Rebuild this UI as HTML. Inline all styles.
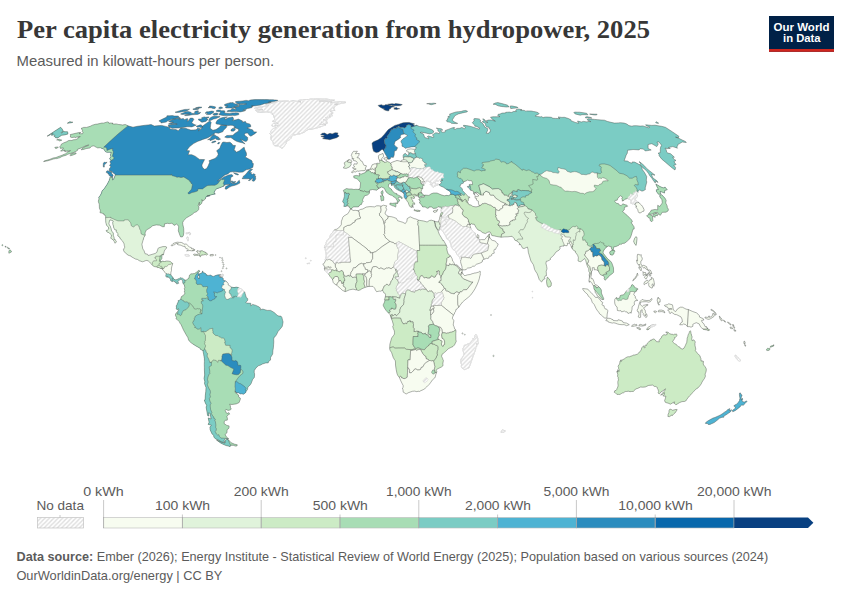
<!DOCTYPE html>
<html><head><meta charset="utf-8">
<style>
html,body{margin:0;padding:0;background:#fff;}
body{width:850px;height:600px;position:relative;overflow:hidden;font-family:"Liberation Sans",sans-serif;}
svg{position:absolute;left:0;top:0;}
svg text{font-family:"Liberation Sans",sans-serif;font-size:13.5px;fill:#5b5b5b;}
svg text.t{font-family:"Liberation Serif",serif;font-weight:bold;font-size:25px;fill:#373737;}
svg text.s{font-size:14.5px;fill:#5b5b5b;}
svg text.f{font-size:13px;fill:#5b5b5b;}
svg text.lg{font-size:11px;fill:#fff;font-weight:bold;}
</style></head><body>
<svg width="850" height="600" viewBox="0 0 850 600">
<defs>
<pattern id="h" width="4.4" height="4.4" patternUnits="userSpaceOnUse"><rect width="4.4" height="4.4" fill="#ffffff"/><path d="M-1.1 1.1L1.1 -1.1M-0.5 4.9L4.9 -0.5M3.3 5.5L5.5 3.3" stroke="#dddddd" stroke-width="1.4" fill="none"/></pattern>
</defs>
<text class="t" x="17" y="38.4" textLength="633" lengthAdjust="spacingAndGlyphs">Per capita electricity generation from hydropower, 2025</text>
<text class="s" x="16.6" y="66.1" textLength="257.5" lengthAdjust="spacingAndGlyphs">Measured in kilowatt-hours per person.</text>
<rect x="769" y="16" width="65" height="35.8" fill="#002147"/>
<rect x="769" y="49" width="65" height="2.8" fill="#ce261e"/>
<text class="lg" x="801.6" y="30.5" text-anchor="middle" textLength="56" lengthAdjust="spacingAndGlyphs">Our World</text>
<text class="lg" x="801.8" y="42.4" text-anchor="middle" textLength="37.5" lengthAdjust="spacingAndGlyphs">in Data</text>
<text class="f" x="16.6" y="561.1" textLength="751.5" lengthAdjust="spacingAndGlyphs"><tspan font-weight="bold">Data source:</tspan> Ember (2026); Energy Institute - Statistical Review of World Energy (2025); Population based on various sources (2024)</text>
<text class="f" x="16.4" y="580.4" textLength="206" lengthAdjust="spacingAndGlyphs">OurWorldinData.org/energy | CC BY</text>
<defs><clipPath id="lc"><path d="M435.3 224.4L434.3 221.0L431.4 220.2L429.4 220.5L427.1 222.0L423.7 221.0L421.1 220.6L418.6 220.2L415.6 218.9L414.1 218.6L410.2 216.8L407.2 218.6L406.9 221.2L405.3 223.6L402.8 222.3L400.2 221.5L397.6 220.7L396.4 218.4L393.5 217.3L391.8 216.8L388.2 216.3L387.3 215.7L385.5 214.4L385.0 213.1L386.7 209.5L385.9 207.6L386.7 205.8L385.0 205.6L383.5 205.2L381.1 206.2L378.8 205.8L376.6 205.8L374.5 206.9L372.2 206.7L369.9 206.6L366.2 207.1L362.8 209.0L360.4 209.5L358.2 210.8L355.2 210.3L353.0 210.5L351.7 209.3L350.2 209.2L349.5 211.0L347.9 213.7L343.9 216.0L342.6 217.6L342.3 219.0L341.4 221.2L341.3 224.6L339.9 226.7L336.9 229.2L334.9 229.5L333.8 230.5L332.1 233.3L330.7 234.2L329.8 237.2L329.0 238.8L328.3 239.1L326.9 240.8L326.2 242.6L326.2 243.5L325.5 244.9L324.6 245.5L324.5 246.8L324.4 247.9L324.9 247.0L325.6 251.6L326.0 252.9L326.3 255.5L325.9 257.9L325.3 259.2L325.4 260.6L324.9 262.0L323.7 263.8L322.7 264.3L323.8 265.2L324.7 267.2L324.4 268.4L324.7 270.4L325.6 271.5L327.0 272.8L328.3 273.9L328.9 274.4L330.1 276.6L331.5 278.0L332.5 279.5L333.2 282.4L334.4 283.8L336.0 284.9L336.6 285.0L338.2 286.7L340.2 288.2L342.2 290.2L344.6 291.4L345.7 291.5L347.9 290.5L349.6 289.8L352.3 289.3L353.8 289.3L355.4 289.8L356.4 289.8L358.5 290.5L360.6 289.7L361.8 288.8L364.1 287.8L365.4 287.3L367.3 286.7L369.2 286.4L373.0 286.4L374.6 288.1L375.4 290.0L376.6 291.7L379.3 291.1L380.2 291.3L382.6 290.3L383.2 291.4L383.6 292.6L384.7 293.0L385.6 294.8L385.3 296.8L384.5 299.8L384.9 300.2L384.5 302.1L383.3 304.6L383.3 305.7L384.7 308.4L386.2 310.6L388.6 313.2L390.4 314.8L390.4 316.0L391.4 318.7L392.3 320.9L393.5 325.2L392.7 326.2L393.2 328.3L394.3 330.8L394.5 332.3L394.4 334.2L393.5 335.5L392.2 337.2L391.6 338.2L390.9 340.6L389.9 344.1L389.7 348.0L389.9 350.0L391.6 352.6L393.2 357.4L394.4 359.5L395.2 360.6L395.5 362.0L395.5 365.1L396.1 369.2L397.0 373.6L397.8 375.5L399.4 377.5L400.8 380.9L401.9 383.1L403.2 385.6L403.1 387.6L402.4 388.1L403.0 389.8L403.2 392.1L404.2 392.8L404.9 392.9L405.7 393.8L406.7 393.8L408.1 392.8L412.4 391.3L414.6 391.1L416.9 391.7L418.1 391.2L419.4 391.5L420.8 390.7L423.2 389.7L425.0 388.5L426.7 386.9L429.4 384.2L430.8 382.3L432.6 379.7L434.7 378.0L435.3 376.8L435.8 374.6L436.5 372.7L436.8 371.3L436.1 370.1L437.1 369.1L439.5 367.9L441.8 366.8L442.8 365.9L443.2 364.8L442.7 364.3L443.4 360.5L443.0 359.9L442.6 358.4L441.6 356.4L441.9 354.5L442.9 353.9L444.6 352.1L445.5 351.6L448.2 348.8L450.8 347.5L453.0 346.5L454.5 344.9L456.3 341.2L455.9 339.9L455.8 335.8L455.8 333.5L456.0 331.0L455.7 329.8L454.8 329.2L454.0 326.6L453.2 325.0L453.4 323.7L453.9 320.7L452.3 318.2L453.4 315.0L454.3 314.2L454.8 312.4L455.6 311.4L455.9 309.5L456.8 309.3L457.4 308.2L459.0 307.2L460.1 305.2L462.6 302.0L464.8 300.1L468.2 297.4L470.5 295.3L473.1 291.8L475.0 288.8L476.9 285.0L478.3 281.7L479.3 278.7L479.8 275.9L480.3 275.0L480.2 273.6L480.3 272.1L480.3 271.4L479.4 271.4L478.3 272.3L477.1 272.5L476.1 272.9L474.1 273.1L473.3 273.5L472.1 273.7L470.2 274.5L467.7 274.8L465.5 275.5L464.4 275.5L463.3 274.4L462.8 273.3L461.0 272.1L462.1 272.8L462.3 270.4L461.8 269.6L460.6 268.8L458.5 266.4L457.2 264.9L454.6 264.8L454.0 262.4L452.7 261.2L452.2 258.8L450.4 255.7L449.2 254.8L448.2 254.1L447.2 251.0L446.7 248.3L447.2 247.8L446.3 245.3L443.4 240.2L443.0 240.7L441.2 237.4L440.3 235.9L439.4 234.5L437.8 230.3L436.4 228.2L435.3 225.9L435.1 224.6ZM435.3 224.4L435.5 225.9L436.6 228.0L438.1 230.0L439.2 230.3L439.6 228.7L440.5 225.7L440.6 226.0L440.5 227.1L440.2 229.4L441.3 229.4L442.6 231.2L444.1 233.3L445.2 235.3L445.9 235.9L446.5 237.8L447.3 239.3L448.6 239.8L449.7 240.9L451.2 245.3L451.4 247.1L453.2 249.6L454.3 250.1L455.9 251.8L456.7 254.0L459.3 257.1L460.3 259.0L460.6 260.1L460.8 261.2L460.5 261.7L460.8 262.9L462.0 266.8L462.0 268.2L462.7 269.8L464.3 269.9L466.1 269.6L466.5 268.9L467.5 268.1L470.0 267.8L471.4 267.3L472.7 266.2L474.4 266.2L476.4 264.3L480.0 263.1L482.2 262.0L482.5 260.0L484.1 259.3L486.6 258.3L487.9 258.5L488.9 257.8L488.9 256.7L489.7 256.1L491.1 256.1L491.6 255.5L491.7 254.3L493.0 253.3L494.1 253.3L494.3 252.9L493.9 251.2L494.1 249.9L494.5 249.3L495.6 249.4L496.3 247.6L497.1 246.8L497.4 246.0L498.1 244.5L498.1 243.9L497.2 243.6L496.5 242.7L495.4 241.2L494.0 240.7L492.3 240.4L491.0 239.4L489.8 237.7L489.2 235.6L489.4 235.1L489.5 234.0L489.2 233.8L488.7 234.7L487.4 236.3L485.9 238.0L484.6 239.7L481.4 239.6L479.6 240.0L479.1 239.4L478.6 238.4L478.9 236.9L478.7 235.4L477.9 234.5L477.3 234.8L476.9 236.2L477.2 238.1L475.6 235.9L475.2 233.0L473.6 231.9L471.9 230.4L470.8 228.2L470.0 225.6L469.4 224.4L470.7 224.6L471.4 223.5L472.9 224.4L474.1 224.0L476.1 227.5L477.9 229.9L480.2 230.7L482.7 232.7L485.5 233.6L487.6 232.3L489.3 231.9L490.4 232.3L491.8 235.5L494.3 235.9L496.8 236.5L501.2 237.2L504.3 236.9L507.9 236.8L512.0 236.3L514.0 238.3L514.9 240.2L516.6 240.9L519.5 243.1L519.3 245.1L520.3 244.1L522.6 248.2L524.2 248.5L527.4 247.0L528.0 249.4L528.4 252.6L529.4 255.9L530.9 261.0L533.3 264.6L533.8 266.2L534.6 269.5L536.0 272.0L536.9 273.2L538.0 275.9L539.2 279.5L541.5 282.0L542.4 281.2L543.1 279.5L545.1 278.7L544.4 277.8L545.3 275.8L546.5 275.7L546.2 271.3L547.0 268.8L546.7 266.6L545.9 263.2L546.4 261.2L547.5 261.1L549.4 260.2L550.5 259.5L550.3 258.3L552.4 256.6L553.9 255.0L556.1 251.9L559.1 250.1L560.1 248.6L559.8 246.6L562.5 246.1L564.0 246.1L564.2 245.1L565.8 245.7L567.1 245.7L567.6 244.3L567.3 243.2L569.4 243.3L570.5 244.8L571.1 246.1L571.4 247.4L572.3 248.8L574.2 250.9L575.5 251.2L575.4 252.2L577.6 255.2L578.4 257.6L578.0 260.9L579.5 261.5L580.8 261.7L583.2 259.8L584.5 258.5L585.8 260.7L586.6 264.0L587.7 267.1L588.7 268.5L588.8 271.4L589.7 272.9L589.2 274.9L589.5 276.8L588.9 281.0L589.4 282.4L589.7 280.9L590.9 282.1L592.2 283.6L592.7 284.9L593.6 285.9L594.0 288.9L594.9 290.3L595.3 292.5L596.7 294.3L597.0 295.6L599.8 297.7L602.0 299.6L603.7 299.4L603.7 298.5L602.7 296.2L601.4 293.0L601.4 290.1L600.4 288.4L598.9 286.8L598.4 286.5L597.1 285.2L595.7 284.9L594.4 283.4L593.8 281.1L592.7 278.7L591.2 278.6L590.9 276.8L591.5 274.4L591.5 271.7L592.4 270.6L592.3 267.7L594.3 267.7L594.2 269.8L596.1 269.7L598.3 270.9L599.7 273.7L600.8 275.0L602.7 275.4L604.6 276.9L604.1 278.6L605.0 280.3L607.7 277.9L609.4 275.7L611.9 274.0L613.6 272.3L613.5 267.7L611.8 262.9L610.2 260.8L607.8 259.1L605.2 255.7L603.0 253.0L603.3 251.2L604.8 248.7L607.4 246.5L608.4 246.0L611.6 246.9L611.2 247.9L612.1 249.8L613.4 249.6L613.7 246.9L616.0 246.5L618.9 245.2L620.0 243.8L620.9 244.7L622.1 243.5L624.6 243.2L627.3 241.1L629.9 238.6L631.2 235.5L632.2 232.1L633.0 229.2L634.2 229.0L634.1 226.9L631.2 222.6L632.4 221.9L631.7 220.0L627.3 215.5L622.5 211.5L624.2 210.0L624.4 208.4L624.8 207.0L627.6 206.3L626.6 204.9L625.2 204.8L622.8 203.8L621.2 205.7L619.2 204.9L618.6 203.7L616.6 203.3L614.7 201.5L615.2 200.4L617.2 200.2L617.8 198.5L619.3 196.7L620.6 195.8L622.5 197.2L621.6 198.9L622.6 199.9L622.0 201.1L624.0 200.4L625.0 199.2L627.6 198.5L628.9 199.2L630.3 199.4L630.7 199.9L630.8 201.3L631.2 201.7L630.8 203.2L632.3 203.8L633.2 203.6L634.4 204.1L637.0 206.4L635.6 206.8L637.7 209.5L638.2 211.5L639.0 212.9L640.9 212.7L642.2 211.6L643.9 211.1L644.1 209.7L642.7 206.7L641.4 205.0L638.0 201.9L636.2 200.7L635.2 200.3L635.3 200.0L634.7 198.9L635.3 198.2L636.5 197.8L637.0 196.6L637.8 196.0L636.7 194.1L636.8 193.2L637.2 192.4L638.1 192.5L637.9 191.7L639.5 189.8L641.6 191.0L642.9 191.0L645.4 189.6L645.2 187.9L646.0 185.0L646.8 182.0L646.3 180.2L646.7 176.5L644.5 172.5L642.3 169.5L641.7 167.0L639.8 164.8L634.6 162.1L632.3 161.9L632.1 163.2L629.8 162.6L627.5 161.1L624.1 160.8L625.2 157.9L626.2 155.0L627.3 153.2L627.6 150.2L630.3 149.9L633.0 149.5L636.0 149.7L639.1 149.9L640.1 148.7L643.4 149.1L645.2 150.9L647.8 150.6L649.5 150.3L651.2 150.0L648.1 148.5L648.1 146.5L648.1 144.5L650.0 144.1L651.8 143.7L656.8 146.6L657.6 145.3L658.3 144.0L656.9 142.1L658.9 141.9L661.6 145.2L660.6 147.1L660.3 149.6L660.3 152.6L658.0 153.2L659.2 154.3L659.1 155.7L661.8 159.2L665.1 161.9L668.3 164.7L672.6 168.3L675.0 170.0L675.6 167.7L673.8 165.2L676.1 164.6L673.9 161.7L676.0 160.4L674.0 159.4L672.7 157.3L674.4 157.2L670.6 153.7L667.9 153.1L666.7 152.2L666.2 149.8L665.0 148.2L667.8 148.6L670.3 148.4L668.4 147.5L670.6 147.1L672.8 146.6L677.5 148.2L676.8 147.1L677.6 145.7L678.3 144.0L679.5 143.7L680.9 142.8L682.2 142.0L686.3 142.5L685.8 141.8L684.3 140.9L682.6 140.2L678.8 138.3L675.5 137.1L678.5 137.7L678.9 136.3L672.2 131.7L665.4 127.3L661.5 126.3L658.3 125.8L655.0 125.2L653.4 125.3L651.8 125.4L648.6 125.1L645.5 124.8L646.3 125.7L649.8 127.1L648.8 127.8L642.9 125.9L640.1 126.1L636.3 125.7L633.5 125.8L631.9 126.2L628.9 125.6L626.8 124.0L624.1 123.1L620.3 122.7L618.3 122.9L616.3 123.0L614.3 123.1L610.9 122.3L607.6 121.5L604.4 120.2L601.1 120.0L597.8 119.7L594.5 119.4L591.2 119.1L587.9 118.9L587.1 119.8L590.9 121.7L587.8 121.4L587.4 122.0L583.4 121.4L581.4 122.0L577.5 121.0L578.8 123.3L575.2 122.4L571.0 120.7L570.9 119.8L568.4 118.5L564.4 117.3L561.9 117.4L560.0 117.2L558.0 117.0L560.0 118.6L557.6 118.5L555.3 118.4L552.9 118.3L551.3 117.3L548.6 117.1L545.8 117.0L543.7 117.3L543.6 117.8L541.2 116.5L540.3 116.9L537.3 116.4L535.1 116.1L535.5 115.5L536.9 114.9L538.3 114.3L539.2 113.7L538.2 112.7L536.0 111.9L533.6 111.5L531.2 111.0L529.0 111.0L526.8 110.9L526.0 111.4L524.3 110.4L522.4 110.3L520.5 110.1L521.9 109.7L518.5 109.0L517.3 109.4L516.0 109.8L515.7 110.7L516.3 111.5L513.4 111.5L512.4 112.0L511.2 112.5L509.5 112.1L507.6 112.2L505.7 112.3L505.8 112.9L503.9 113.0L502.0 113.1L500.0 114.1L498.3 114.2L497.7 115.5L500.0 116.6L498.4 116.7L496.8 116.8L494.9 116.8L493.0 116.8L490.5 117.2L492.5 119.4L495.4 121.2L491.4 120.0L489.8 120.0L488.2 120.1L486.1 120.9L487.9 122.5L485.9 122.1L485.1 120.0L483.4 118.9L482.6 118.9L484.1 120.4L482.2 121.8L485.5 123.6L485.7 125.8L486.9 127.0L488.9 127.2L489.0 128.6L490.8 129.9L490.0 131.0L490.2 132.1L488.7 132.7L488.5 133.5L486.3 133.2L487.8 130.0L487.5 128.5L484.8 127.1L483.2 124.1L481.7 122.6L480.2 121.9L480.5 120.2L479.3 119.0L477.0 118.7L474.7 118.5L473.8 118.9L474.1 120.8L472.3 122.7L472.8 123.4L474.7 125.1L474.8 126.2L476.9 126.4L477.3 126.9L479.7 128.0L479.2 129.2L475.4 127.9L471.7 126.7L468.9 126.0L466.3 125.6L463.7 125.3L463.2 126.0L465.6 127.3L464.5 128.8L461.9 127.4L459.8 128.3L456.7 128.4L455.8 129.2L453.6 128.9L454.7 127.6L453.4 127.5L450.8 128.4L448.3 129.4L446.8 129.9L445.2 130.5L445.3 131.9L442.9 132.4L441.2 131.6L440.7 130.3L442.8 130.1L441.3 128.8L438.8 128.5L436.3 128.1L438.1 129.5L437.8 130.8L439.7 132.2L439.2 133.7L437.3 132.9L435.7 132.8L434.0 133.9L432.4 135.0L434.1 136.7L432.8 137.3L430.5 136.6L428.1 135.9L427.3 136.7L428.6 137.7L428.7 138.8L427.2 138.2L424.7 137.5L423.5 134.1L420.2 132.5L421.4 132.2L424.1 132.7L426.9 133.3L429.6 133.9L432.3 133.3L433.8 132.1L433.2 130.6L431.5 129.5L427.9 128.3L424.3 127.0L421.9 126.8L419.5 126.5L416.4 125.2L414.9 125.9L412.7 124.6L414.6 124.0L411.8 123.2L409.1 122.4L406.2 122.6L403.2 122.7L400.8 123.6L398.4 124.4L396.6 124.9L394.9 125.4L392.8 126.7L390.7 128.1L388.1 129.8L386.3 132.0L384.5 134.2L381.6 137.4L378.2 139.8L375.9 140.8L373.6 141.7L372.0 143.2L372.4 146.0L372.8 148.7L373.6 151.3L376.2 152.6L378.7 152.0L382.2 149.2L383.6 150.7L384.5 152.5L385.3 154.1L387.1 156.9L387.9 159.2L390.1 159.1L391.0 157.1L393.3 157.4L394.2 155.1L394.4 151.0L396.3 150.5L397.6 147.7L395.7 146.4L394.2 144.7L395.0 141.4L398.2 139.4L400.7 137.5L400.2 136.1L401.6 134.5L404.5 133.9L407.1 135.0L407.5 135.9L406.4 136.4L404.7 137.7L402.9 138.9L401.5 140.4L400.9 141.7L402.1 143.9L402.0 146.2L404.0 147.0L405.2 148.3L408.2 147.6L411.2 146.9L414.5 146.7L416.7 147.9L414.9 149.2L413.0 149.2L410.9 148.9L408.6 149.2L406.6 150.3L406.6 151.3L408.1 152.1L408.7 151.8L408.8 153.3L408.7 155.1L407.2 155.2L405.4 153.4L403.8 154.2L403.1 155.7L403.3 157.6L403.9 159.6L401.4 160.4L401.1 161.5L399.0 160.9L397.0 160.5L394.7 161.3L391.8 162.4L390.5 163.2L389.5 162.4L387.2 161.4L386.2 162.1L384.3 162.5L384.2 161.7L382.2 161.1L382.1 160.1L381.5 158.9L382.8 157.2L383.8 156.5L382.9 153.4L381.5 154.1L379.2 154.9L378.7 155.6L378.4 156.3L378.6 158.8L379.5 160.2L379.6 161.6L380.1 162.5L378.8 163.7L378.5 163.2L376.8 163.3L376.5 163.9L374.8 163.8L372.2 164.8L370.6 168.5L369.6 169.2L368.0 169.7L366.3 170.2L365.7 172.3L363.4 173.3L361.0 174.2L359.1 173.2L359.7 176.0L356.3 175.4L353.7 175.9L353.9 177.8L357.0 178.8L358.4 180.1L360.6 182.8L360.1 187.9L359.0 189.4L355.6 189.3L353.9 189.5L351.7 189.0L348.9 189.0L346.4 188.6L343.3 190.4L344.3 192.8L344.4 196.3L343.7 198.9L342.6 201.5L343.1 202.5L344.0 202.8L344.2 204.4L343.8 206.4L346.0 206.5L346.9 205.8L348.9 206.2L349.5 207.7L350.3 208.6L351.3 208.8L352.2 207.9L353.6 206.9L356.0 206.9L358.4 206.9L359.9 204.9L361.5 204.4L362.0 202.7L363.2 201.5L362.4 200.1L364.7 195.7L367.4 195.1L369.4 193.4L369.5 190.3L372.5 189.5L376.7 190.2L378.5 188.7L381.5 187.0L384.2 188.1L386.3 192.2L388.5 193.9L390.3 195.0L391.8 195.2L392.8 196.2L395.8 198.1L396.5 199.5L397.5 201.0L396.7 203.7L397.6 203.5L398.6 201.3L399.5 201.1L399.6 199.8L398.0 198.8L398.8 197.1L400.7 197.5L402.0 198.8L402.3 197.8L402.0 197.3L400.1 196.0L398.5 195.2L396.5 194.3L397.1 193.8L394.9 193.2L392.4 191.1L391.2 189.0L389.2 187.7L388.4 186.4L388.6 184.4L390.1 183.5L391.7 183.8L391.3 184.1L391.2 185.0L391.9 185.9L392.5 184.8L393.8 185.1L394.5 187.3L396.4 189.2L399.7 190.9L401.7 191.8L403.4 193.2L403.8 193.4L404.2 193.8L404.0 194.6L404.0 196.4L404.3 197.6L405.6 199.1L406.0 199.3L407.4 201.5L408.3 202.7L408.8 204.4L409.8 206.5L411.7 207.6L412.1 205.3L413.1 207.6L412.7 203.7L414.7 204.4L414.6 202.9L412.1 201.0L412.9 200.4L411.7 199.2L411.1 197.6L411.4 197.0L412.7 198.4L413.9 198.4L414.9 197.9L413.3 196.5L415.8 195.8L418.2 196.1L419.1 197.9L420.7 196.5L424.0 195.8L424.6 195.4L422.3 194.1L421.9 193.1L421.1 191.6L421.6 189.8L422.6 188.7L422.7 185.6L424.3 185.2L424.2 184.6L425.5 182.7L426.0 181.3L427.9 181.0L429.8 182.0L431.5 182.6L430.1 184.5L432.4 185.3L432.2 186.5L433.4 187.0L436.0 185.5L438.1 185.1L438.4 184.1L436.3 184.3L435.2 183.7L434.8 182.1L436.4 181.1L438.3 181.0L439.5 180.2L441.1 180.0L443.0 180.1L440.2 181.1L441.5 182.2L440.2 184.3L438.8 184.7L440.9 186.2L443.4 187.2L446.5 189.4L450.0 191.4L450.8 193.2L450.7 194.3L448.5 195.7L446.6 195.4L444.2 195.8L441.0 194.8L437.0 193.0L433.6 193.0L431.2 193.8L428.9 195.4L424.8 195.1L424.6 195.7L424.2 197.1L420.9 197.2L418.8 199.7L420.3 200.9L419.5 202.9L421.2 204.4L422.8 207.0L425.1 206.9L427.3 208.3L428.8 208.0L429.2 206.9L431.5 207.0L433.4 208.4L436.7 208.1L438.0 206.6L439.9 207.2L441.2 207.0L441.4 209.2L441.0 210.2L441.5 212.2L440.6 214.1L440.1 216.3L439.8 217.0L439.5 219.0L439.1 220.2L438.7 221.2L437.6 221.8L435.9 221.7L434.3 221.0ZM127.9 125.8L129.6 126.3L131.3 126.7L133.0 127.2L135.2 126.7L137.4 126.3L140.0 125.9L142.7 125.6L145.4 125.2L148.2 124.9L151.1 124.5L152.7 125.3L154.3 126.1L156.8 125.8L159.3 125.6L161.7 125.4L163.7 125.9L165.7 126.4L167.7 126.9L169.7 127.4L169.8 128.9L171.9 129.2L173.9 129.4L176.0 129.6L177.2 130.2L178.3 130.7L180.8 128.0L183.2 128.2L185.7 128.3L187.4 128.9L189.1 129.5L190.9 130.1L193.5 129.9L196.2 129.8L197.5 128.3L199.0 128.5L200.5 128.7L198.2 131.0L201.0 129.2L202.7 126.1L205.5 123.9L209.8 120.9L211.2 122.4L210.7 124.5L210.6 125.6L210.2 128.3L211.5 129.3L212.9 130.3L215.9 129.6L219.1 127.6L220.8 125.4L223.7 125.4L226.6 125.4L226.8 126.7L225.9 128.0L223.5 130.3L223.0 131.6L220.8 132.4L218.5 133.2L216.9 133.0L215.4 132.8L213.7 133.9L210.2 136.4L207.3 138.0L205.1 138.7L202.8 139.4L200.4 140.4L197.9 141.3L193.5 143.6L189.5 146.7L186.6 150.6L189.6 150.8L188.0 154.7L189.9 154.7L191.8 154.7L193.6 155.5L195.5 156.4L197.5 157.9L199.5 159.4L202.0 159.5L204.6 159.6L203.2 162.3L201.9 165.1L202.3 167.1L204.2 169.3L206.4 168.8L208.1 166.1L209.7 162.1L208.9 160.8L212.0 159.6L215.0 158.4L217.2 156.4L218.2 154.5L217.8 152.7L216.6 150.8L219.9 148.2L220.6 146.0L222.3 142.5L223.5 142.0L225.2 142.2L226.8 142.5L230.0 142.2L232.2 144.1L232.5 145.3L235.5 145.5L234.9 147.5L234.0 150.3L235.4 150.8L236.2 152.3L239.5 150.8L242.6 148.2L244.2 147.2L244.7 149.4L246.4 153.0L246.5 155.4L245.1 156.9L247.1 158.1L249.2 159.2L251.3 160.3L252.1 161.1L252.2 163.1L253.4 163.6L252.9 167.3L249.7 169.1L246.1 169.8L242.9 172.1L239.4 172.3L237.3 172.1L235.2 171.8L232.2 171.8L230.1 172.1L227.8 173.9L224.9 174.9L220.6 178.4L217.5 180.7L219.3 180.2L223.9 176.9L226.3 175.9L228.7 174.9L231.8 174.6L233.2 175.9L230.8 177.4L230.5 180.2L230.5 182.3L232.8 183.6L236.4 183.0L239.3 180.2L239.9 183.0L237.0 184.6L234.4 185.4L231.8 186.1L229.6 187.1L226.4 189.2L225.1 189.0L225.6 186.6L230.0 184.6L226.7 184.6L224.2 185.1L224.2 185.9L221.8 186.9L219.3 187.9L216.8 188.7L215.2 190.2L214.2 192.3L214.4 193.6L215.4 193.9L212.9 194.4L211.0 194.9L206.9 195.9L210.1 195.7L206.0 196.7L205.3 199.1L202.7 201.1L201.9 199.6L202.2 201.4L201.6 203.5L199.3 205.6L199.4 202.2L198.2 205.6L198.9 207.1L198.6 209.7L196.5 211.8L194.2 212.6L192.5 214.2L189.6 216.0L186.5 217.8L183.6 220.7L182.7 222.5L182.8 224.4L183.7 228.3L183.8 232.5L183.4 235.4L182.4 236.9L180.6 236.9L179.8 235.1L179.1 233.0L178.3 230.9L178.7 226.7L177.4 224.6L176.6 224.1L174.1 225.4L172.9 223.9L171.7 223.3L169.2 223.6L167.3 223.3L164.5 223.9L164.3 226.7L162.5 226.7L159.7 225.2L156.3 224.9L152.7 225.7L150.2 227.8L146.3 230.1L145.0 233.0L145.3 235.1L143.9 237.4L142.9 240.8L141.9 244.2L142.8 248.9L144.1 250.8L145.0 253.7L147.5 254.2L148.2 255.5L152.0 254.4L155.3 253.4L156.8 252.3L158.0 248.7L158.5 247.9L162.8 246.6L166.0 246.6L166.6 247.1L166.4 248.4L164.9 249.7L164.2 251.6L163.3 255.0L162.2 254.4L161.9 256.8L161.9 258.4L160.0 261.2L161.6 261.8L162.3 261.2L164.6 261.5L166.7 261.0L168.9 261.2L170.3 261.5L171.5 262.5L172.8 263.6L171.9 266.2L171.4 268.6L171.5 270.4L170.9 272.5L170.8 274.3L171.4 275.6L173.1 277.7L173.9 279.3L175.7 279.8L176.9 279.5L179.2 278.5L180.0 277.7L181.3 278.0L182.5 278.2L184.9 280.1L186.3 280.3L188.0 278.5L188.9 278.2L189.5 275.1L191.0 273.8L192.4 273.8L194.5 273.5L197.3 271.7L198.3 270.4L199.3 270.4L199.9 271.2L198.0 272.7L198.6 274.0L198.5 275.6L197.5 276.7L199.0 279.0L199.6 276.9L198.9 276.1L199.0 274.0L201.8 273.0L202.7 270.9L203.2 272.7L204.8 273.0L206.4 274.3L206.3 275.1L208.4 275.4L210.9 275.1L212.0 276.1L213.8 276.4L215.2 275.6L218.0 274.8L220.8 274.8L218.9 275.6L219.6 276.9L221.4 276.9L223.2 278.2L223.3 280.3L225.4 280.8L226.9 281.9L228.3 283.7L228.2 285.0L230.5 286.3L231.4 287.1L234.1 287.6L236.2 287.1L238.5 287.6L239.4 288.2L241.0 288.7L243.5 290.8L243.7 291.8L244.7 291.8L245.1 293.4L246.4 297.8L247.6 298.4L247.8 300.2L245.9 302.3L246.6 303.1L250.8 303.3L250.8 305.9L252.6 304.4L255.4 305.2L259.3 307.0L260.5 308.3L260.1 309.9L262.8 309.1L267.2 310.4L270.7 310.4L274.2 312.5L277.2 315.3L278.8 316.1L280.9 316.1L281.8 317.2L282.6 320.3L283.1 321.9L282.3 326.3L281.1 327.9L278.0 331.6L276.5 334.7L275.0 336.8L274.3 337.0L273.7 338.9L273.8 341.8L273.6 344.8L273.4 347.8L272.9 350.6L272.7 354.0L270.6 357.4L270.5 360.1L268.6 361.4L268.2 362.9L265.8 362.9L262.4 364.0L260.7 365.0L258.3 365.8L256.0 367.9L254.3 370.5L254.2 372.3L254.6 373.9L254.5 376.5L254.2 377.8L252.8 379.1L251.0 383.8L249.3 385.9L247.9 387.0L247.5 389.6L246.2 391.2L245.6 392.7L243.5 394.3L241.6 393.8L240.6 394.0L238.4 392.7L236.9 393.0L235.3 391.4L235.3 392.7L238.6 395.1L238.6 396.9L240.3 398.0L240.3 399.3L239.1 402.6L236.2 403.9L234.1 404.2L232.0 404.5L229.6 404.2L230.4 405.8L230.5 407.8L231.3 409.1L230.2 409.9L228.1 410.4L225.9 409.4L225.2 410.2L226.2 412.8L227.9 413.5L228.6 412.5L229.7 414.1L228.1 414.8L226.9 416.4L227.5 419.0L227.2 420.2L225.4 420.2L224.2 421.8L224.2 423.6L226.8 425.4L229.1 425.9L229.0 428.2L227.1 429.7L227.0 432.8L225.6 433.8L225.2 434.8L226.9 437.5L228.8 438.8L227.8 438.8L225.8 438.3L224.1 440.3L224.7 442.5L221.3 441.8L218.3 440.0L215.4 438.8L213.8 437.0L213.8 435.5L212.1 434.0L210.1 429.7L209.9 427.2L211.4 425.1L208.1 424.4L209.1 422.3L208.2 417.9L211.1 419.0L210.6 416.3L210.2 413.5L208.5 412.8L209.0 416.1L207.6 415.6L207.0 412.0L206.1 407.1L206.7 405.5L205.3 402.9L204.3 400.0L205.1 399.8L205.3 395.6L205.8 391.4L206.0 387.5L204.5 383.6L204.8 381.5L204.0 378.4L204.7 375.0L204.4 370.0L204.4 367.2L204.3 364.5L204.4 361.6L204.4 358.7L203.7 354.6L202.9 350.6L200.4 349.3L200.1 348.3L195.5 345.7L191.1 342.8L189.2 341.0L188.1 338.9L188.2 338.1L186.1 334.7L183.5 330.0L182.3 327.4L181.2 324.8L180.2 323.5L179.2 321.6L177.5 319.8L175.9 318.7L176.5 317.7L175.3 315.1L175.9 313.3L177.7 311.7L178.8 309.9L178.3 308.6L177.4 309.9L176.0 308.6L176.5 308.0L176.2 305.7L176.9 305.2L177.3 303.6L178.3 301.8L178.0 300.7L179.4 300.2L180.8 299.1L181.3 296.8L182.0 296.0L183.2 295.7L185.1 292.9L184.2 292.1L184.7 290.5L184.3 288.2L184.8 287.6L184.4 285.3L183.6 284.0L182.9 283.2L182.5 281.6L183.0 281.1L182.1 280.1L181.0 279.3L179.9 279.5L179.4 280.3L178.4 281.1L177.7 281.6L178.8 283.2L178.1 283.5L176.7 284.0L176.3 282.4L175.3 282.7L174.9 281.6L173.3 281.1L172.2 281.6L171.9 281.4L170.8 280.8L170.4 280.1L170.7 279.0L169.1 278.0L168.3 276.9L167.6 276.4L167.8 277.2L166.9 277.2L165.8 276.4L165.8 275.6L166.2 273.8L164.5 272.0L164.1 271.2L163.0 270.1L162.0 269.1L162.9 268.8L162.5 268.0L161.9 267.8L161.6 268.6L160.2 268.3L158.5 267.5L157.3 267.5L156.7 267.0L154.2 266.5L153.1 265.9L152.1 264.9L149.6 262.0L148.6 261.2L146.9 260.4L145.5 260.7L143.5 261.5L142.4 261.8L140.8 261.2L139.3 260.7L137.4 259.4L135.6 259.1L133.3 257.8L131.4 256.8L131.0 256.0L129.7 255.7L127.6 255.0L126.8 253.9L124.6 252.3L123.7 250.8L123.4 249.5L124.1 249.2L124.0 248.4L124.6 247.6L124.7 246.9L124.3 245.5L124.2 244.5L123.8 243.2L122.2 240.6L120.3 238.8L119.5 236.9L117.8 235.9L117.8 234.8L118.2 233.8L117.3 233.0L116.3 231.7L116.3 229.9L114.9 229.9L114.0 228.3L113.5 227.0L113.5 226.2L112.9 224.4L112.7 222.3L113.3 221.2L111.8 220.2L111.1 220.5L110.0 219.7L109.5 220.7L109.2 222.0L108.9 223.9L109.4 224.9L110.5 226.7L110.7 227.5L111.1 228.6L111.3 230.1L111.8 230.9L112.2 231.7L113.3 233.0L113.3 235.6L113.8 236.7L114.2 238.0L113.9 239.3L115.0 239.3L115.7 240.6L116.4 241.6L116.3 242.2L114.9 243.2L114.3 241.6L113.3 240.1L111.7 238.8L110.7 238.2L111.4 236.1L111.3 234.8L110.3 234.0L109.1 232.7L108.5 232.5L107.0 232.0L106.1 230.4L107.2 230.4L108.4 229.3L108.8 228.0L107.7 226.2L106.6 225.4L106.2 223.9L105.8 222.3L105.7 220.2L105.6 217.8L105.6 216.5L104.9 215.0L103.9 214.7L104.0 213.9L102.8 213.7L102.3 213.1L100.3 212.9L100.0 212.3L100.5 210.8L99.4 208.2L99.3 204.5L99.5 204.0L98.8 203.2L98.3 201.1L99.0 198.8L98.7 197.5L100.2 195.4L101.5 193.1L102.0 191.0L104.2 188.7L107.3 184.1L109.1 180.5L109.8 178.4L110.0 177.2L110.5 176.7L112.9 177.7L112.5 180.0L113.6 179.2L114.5 177.2L115.2 175.1L115.3 174.4L112.7 172.6L112.0 171.6L109.1 170.6L109.6 168.3L111.0 166.8L109.6 165.6L110.8 163.6L109.9 161.8L110.9 160.6L110.6 159.6L109.5 158.9L110.9 156.7L110.4 154.7L111.3 152.5L109.8 152.3L106.8 152.3L105.3 151.5L104.5 150.3L103.8 149.1L102.0 148.4L100.3 147.7L97.6 147.9L96.4 147.3L95.2 146.7L94.0 145.8L91.5 146.3L90.0 148.0L88.7 148.2L86.1 148.6L83.7 149.4L81.1 149.8L82.1 148.6L85.6 146.3L88.4 145.5L88.7 144.8L84.7 146.3L81.8 147.7L77.4 149.4L77.4 150.6L73.6 152.5L70.5 153.5L67.8 154.2L66.2 155.2L62.0 156.4L60.1 157.6L56.8 158.6L55.5 158.6L53.2 159.1L50.2 160.1L47.7 160.8L43.6 161.6L44.0 161.1L47.2 160.1L49.7 159.4L53.4 157.9L55.9 157.6L57.9 156.7L62.2 155.2L63.1 154.7L65.7 153.7L67.7 152.0L70.5 150.6L67.4 151.3L67.4 150.8L65.2 151.8L65.4 150.6L64.1 151.3L64.7 150.1L61.7 151.1L60.6 151.1L62.1 149.6L63.3 148.9L63.3 147.9L60.4 148.4L60.1 147.2L59.6 146.7L61.2 145.3L61.1 144.4L63.6 142.9L66.5 141.8L68.5 140.6L70.2 140.4L71.2 140.6L73.8 139.7L75.2 139.7L77.4 139.0L78.2 138.0L77.9 137.6L80.3 136.6L79.2 136.6L76.7 137.1L75.3 137.8L75.0 137.1L71.8 137.6L70.2 136.9L70.7 136.0L70.3 134.6L73.9 133.7L76.6 133.1L79.3 132.5L80.7 132.5L79.0 133.7L80.8 133.7L82.6 133.7L83.0 132.3L82.2 131.4L82.5 130.3L82.1 129.4L81.0 128.5L83.6 127.4L86.6 127.4L90.2 126.3L92.4 125.2L95.3 124.3L97.3 124.1L102.0 123.0L103.2 123.2L107.5 121.9L109.0 122.6L109.1 123.5L110.4 123.0L112.9 123.2L112.1 123.7L114.1 124.1L116.1 123.9L117.4 124.2L118.7 124.5L121.5 124.8L122.5 125.0L125.3 124.5L126.9 125.2ZM281.8 148.2L280.0 147.0L278.3 145.9L276.5 145.8L274.7 145.8L273.5 144.6L273.1 142.2L271.1 139.4L270.9 137.8L271.4 135.7L269.9 133.7L271.3 132.1L270.5 131.2L273.4 128.5L276.2 127.8L277.3 126.9L278.4 125.2L276.3 125.8L273.5 126.5L271.8 125.8L272.5 124.3L273.6 123.2L275.2 123.2L276.8 123.5L278.3 123.7L276.2 122.4L275.0 121.7L272.3 121.4L275.1 119.4L274.6 118.6L274.1 117.2L273.5 115.0L272.0 114.2L272.6 113.4L270.9 112.8L269.3 112.2L267.7 112.1L266.2 112.0L264.1 112.1L261.9 112.2L260.1 112.2L258.2 112.3L256.9 111.6L255.4 110.4L257.6 110.1L259.8 109.8L261.4 109.7L263.0 109.6L261.0 109.5L259.0 109.3L257.0 109.2L255.7 108.8L254.4 108.4L255.2 107.7L258.4 107.2L261.6 106.7L264.7 106.3L267.8 105.8L268.9 105.2L267.3 104.9L265.6 104.6L267.4 103.9L270.4 103.3L273.4 102.7L275.7 102.5L275.7 101.8L277.5 101.6L279.3 101.3L281.6 101.2L283.9 101.1L286.0 101.1L288.2 101.1L289.3 101.6L291.4 101.1L293.5 100.8L295.0 101.0L296.4 101.3L298.3 101.4L299.6 101.7L300.9 101.9L299.5 101.5L298.1 101.1L298.7 100.4L301.3 100.0L304.0 99.5L306.3 99.5L308.7 99.5L310.7 99.1L313.2 99.0L315.6 98.9L317.7 98.9L319.9 98.9L322.0 99.0L324.2 99.0L326.3 99.1L328.3 99.4L330.4 99.7L332.4 100.0L334.5 100.3L331.7 100.9L329.0 100.9L326.4 100.9L323.9 101.0L321.4 101.0L318.9 101.1L319.4 101.4L321.9 101.3L324.3 101.2L326.4 101.5L328.5 101.7L331.3 101.2L332.2 101.9L330.3 102.8L332.3 102.5L334.2 102.2L336.5 102.0L338.8 101.8L341.0 101.6L343.1 101.7L345.1 101.9L345.9 102.5L343.9 102.9L341.9 103.3L339.8 103.7L339.0 104.1L336.6 104.3L334.3 104.4L336.0 104.5L337.6 104.6L335.6 105.8L334.1 107.0L333.6 109.2L335.1 110.4L332.7 110.6L330.1 111.2L332.7 112.2L332.6 113.9L330.9 114.1L332.5 115.8L330.8 115.9L329.0 116.0L330.7 116.9L330.0 117.5L327.7 117.9L325.4 117.9L327.2 119.4L327.0 120.2L325.5 119.8L324.0 119.4L323.0 120.0L325.2 120.5L327.0 121.7L327.2 123.5L324.2 123.9L323.1 123.1L321.4 121.9L321.6 123.3L319.3 124.5L321.5 124.5L323.8 124.5L326.0 124.7L323.5 125.6L321.1 126.6L318.6 127.4L316.1 128.3L313.5 128.7L310.9 129.2L309.1 129.2L307.1 130.1L304.1 132.3L302.0 133.1L299.9 133.9L298.6 134.1L296.1 134.6L293.5 135.1L291.4 136.6L291.0 138.2L289.6 139.7L286.1 141.5L286.2 143.4L284.7 145.4L283.0 147.7ZM245.1 143.9L242.8 142.9L241.2 142.6L239.6 142.2L238.0 141.8L236.5 141.3L234.2 139.9L232.6 138.7L230.9 137.6L228.9 137.7L226.9 137.8L224.7 137.1L226.8 135.5L229.8 135.4L232.9 135.3L235.1 133.2L238.6 131.0L238.6 129.2L236.2 128.3L233.7 127.4L235.2 126.9L234.0 126.2L232.9 125.4L230.9 125.2L227.6 125.6L224.8 125.3L222.1 125.0L220.5 124.7L219.0 124.3L216.5 124.1L215.9 123.2L216.0 122.4L217.3 120.2L220.3 118.3L222.7 117.5L225.0 117.2L227.3 116.9L225.0 118.1L225.0 119.6L227.9 117.9L230.3 117.4L232.8 117.0L233.7 119.2L232.5 120.4L236.1 119.8L238.3 119.1L239.6 119.6L240.9 120.2L242.6 121.1L242.0 122.2L245.5 121.5L246.1 123.0L247.8 123.5L249.5 123.9L250.5 124.8L250.8 126.7L247.1 127.8L248.7 128.5L250.4 129.2L252.5 129.8L254.0 131.9L256.7 131.9L255.3 133.4L250.9 136.2L249.3 135.3L247.7 133.0L245.3 133.2L244.4 134.6L245.4 136.0L247.3 137.1L247.7 137.6L247.6 139.9L246.2 141.5L244.1 141.1L242.4 140.1L240.7 139.2L242.2 141.1L243.6 142.5ZM196.2 125.0L191.9 126.9L189.5 126.8L187.1 126.7L184.1 127.3L181.0 127.8L178.1 128.0L175.1 128.1L172.2 128.3L170.4 127.5L168.7 126.7L168.3 125.0L170.6 124.6L172.9 124.3L175.0 124.2L177.2 124.1L174.5 123.7L172.7 123.8L170.8 123.9L168.5 123.9L173.4 122.2L170.8 122.2L168.7 121.5L171.7 120.0L173.8 119.2L176.7 118.5L179.6 117.9L180.7 118.3L178.9 119.3L181.1 118.9L183.4 118.5L184.3 119.7L187.4 118.5L187.9 119.4L187.1 121.4L188.8 120.5L190.0 118.3L191.7 118.1L193.0 118.3L193.9 119.2L192.7 121.3L191.7 122.8L193.4 123.9L195.4 125.0ZM160.9 123.0L161.1 122.2L160.0 121.5L158.9 120.9L160.6 120.0L163.6 118.5L166.8 117.1L166.9 115.8L169.7 115.7L172.5 115.6L174.2 116.0L176.1 116.0L178.1 116.0L178.9 116.7L179.6 117.5L176.8 118.1L174.1 118.9L171.3 119.6L167.4 121.1L166.4 121.9L163.7 122.5ZM197.8 112.0L197.5 112.7L199.3 112.4L200.7 112.4L199.9 113.4L197.7 114.4L194.9 114.6L192.1 114.7L189.6 115.2L187.1 115.6L184.7 115.6L185.2 115.0L187.4 114.5L189.7 114.0L187.2 114.1L184.7 114.3L182.2 114.4L180.6 114.0L185.4 112.0L187.6 111.4L189.2 111.8L190.8 112.2L192.0 113.4L194.6 113.4L194.8 111.6L197.3 110.8L198.7 111.0ZM204.3 116.9L205.7 117.3L208.9 116.9L208.9 117.5L206.2 118.6L208.0 119.4L205.8 121.4L202.3 122.2L201.0 121.9L200.5 121.3L199.3 120.4L198.1 119.6L198.8 119.0L200.3 119.1L201.9 119.2L201.7 117.7ZM213.6 119.0L210.4 120.6L208.7 120.5L209.4 118.7L210.4 117.7L212.2 116.7L214.2 116.2L215.9 116.2L217.5 116.2L220.1 116.7L215.9 118.6ZM202.7 126.9L200.9 127.6L199.2 127.0L197.7 127.3L196.2 126.3L198.3 125.6L200.2 124.8L201.5 125.2L202.1 125.6L202.2 126.1ZM214.6 134.6L214.2 135.7L215.4 135.3L216.0 136.0L217.4 136.6L219.0 137.5L218.4 138.5L219.9 138.4L220.6 139.2L218.5 139.9L216.2 139.3L215.8 138.3L213.3 139.5L210.0 140.7L210.1 139.4L207.6 139.7L210.0 138.4L211.5 136.6L213.4 134.6ZM217.6 110.1L219.0 110.1L220.5 110.2L221.4 110.8L223.0 110.8L224.5 110.8L225.1 111.5L223.8 112.2L225.2 112.7L225.6 113.2L227.7 113.2L229.7 113.4L232.5 113.0L234.2 112.9L235.9 112.8L238.2 113.0L239.1 113.8L238.8 114.6L237.2 115.1L234.6 115.6L232.8 115.3L230.4 115.5L228.0 115.6L226.4 115.6L224.8 115.6L222.5 115.4L220.7 115.1L218.9 114.8L219.6 113.6L220.5 112.6L219.9 111.8L218.4 111.7L216.9 111.6L216.0 110.9ZM259.2 99.6L261.8 99.6L264.4 99.6L267.0 99.6L269.7 99.7L271.4 99.7L273.2 99.8L274.6 99.9L275.9 100.0L278.0 100.4L277.6 100.8L275.6 101.2L273.6 101.6L271.8 101.7L269.9 101.9L268.3 102.2L269.8 102.2L271.3 102.2L269.2 102.7L267.2 103.2L264.3 103.7L260.5 105.1L258.9 105.3L257.3 105.5L255.9 105.8L253.7 105.9L251.4 106.0L253.2 106.2L251.9 106.5L252.1 107.5L250.2 108.0L247.3 108.6L245.8 109.4L243.1 110.0L243.0 110.4L245.6 110.3L245.2 110.8L242.6 111.4L240.0 112.0L238.2 111.7L236.5 111.5L234.1 111.6L231.8 111.8L229.7 111.6L227.0 111.4L227.8 110.5L231.1 110.0L231.8 108.6L233.0 108.5L234.4 108.9L235.9 109.4L235.4 108.0L233.4 107.7L235.4 107.0L238.4 106.5L239.5 106.0L238.3 105.3L238.8 104.3L240.7 104.4L242.6 104.4L243.5 104.6L246.5 103.9L245.0 103.8L243.5 103.7L240.9 103.8L238.3 103.9L236.5 103.3L236.2 102.6L235.2 102.1L235.7 101.6L238.1 101.3L239.8 101.2L242.9 100.9L245.6 100.4L247.2 100.4L248.1 100.9L250.3 100.0L252.3 99.8L255.0 99.6L257.1 99.6ZM237.5 105.4L238.5 106.0L235.9 106.5L231.6 107.9L228.8 108.0L227.4 108.0L225.9 107.9L225.4 107.0L226.3 106.4L228.0 105.8L225.3 105.9L224.5 105.3L224.6 104.5L226.6 103.7L228.3 103.2L229.9 103.1L229.8 102.7L231.5 102.7L233.2 102.6L233.8 103.5L235.7 103.9L237.6 104.2ZM213.4 111.2L214.0 111.9L212.8 112.9L210.4 114.4L207.6 114.6L206.3 114.3L207.7 113.1L205.0 113.3L206.7 111.7L208.3 111.8L211.4 111.1ZM189.5 109.2L187.4 110.6L185.1 111.4L183.6 111.4L179.5 112.3L176.6 112.6L175.1 112.2L179.9 110.7L182.4 110.0L184.9 109.4L187.2 109.4ZM209.9 106.0L211.2 106.1L212.5 106.2L214.0 106.6L215.5 106.9L215.4 107.9L214.9 108.6L212.8 108.4L211.2 107.8L209.6 107.7L208.0 107.7L210.2 107.1L209.0 106.7ZM252.6 169.3L251.1 170.8L249.0 173.1L250.7 172.2L251.7 172.8L250.9 173.6L252.4 174.4L253.4 173.7L255.2 174.5L254.1 176.4L255.6 175.9L255.5 177.3L255.7 178.9L254.3 181.1L253.3 181.2L252.1 180.7L253.1 178.7L252.6 178.3L249.7 180.5L248.4 180.5L250.2 179.2L248.4 178.7L246.3 178.8L242.3 178.7L242.3 177.9L243.7 177.0L243.1 176.4L245.2 174.9L248.6 170.8L250.4 169.3ZM112.9 176.4L111.8 176.7L109.1 175.6L109.2 174.6L107.9 173.9L108.0 173.1L106.3 172.6L106.5 171.3L107.2 170.7L108.9 171.2L109.8 171.6L111.5 171.8L111.6 172.7L111.8 173.9L113.1 175.0ZM105.1 162.5L107.1 162.3L104.2 165.1L104.3 167.1L103.5 167.1L103.2 166.0L103.4 164.8L103.1 164.1L103.6 162.9L104.4 162.1ZM171.1 245.5L172.9 243.7L175.1 242.7L177.4 242.2L179.4 242.4L181.2 242.4L183.1 243.2L183.9 244.2L186.2 244.0L188.6 246.1L189.8 247.4L190.5 247.4L191.8 247.9L191.5 248.7L193.3 248.7L194.8 249.7L194.5 250.4L192.9 250.8L191.5 250.8L189.9 250.5L186.6 250.9L188.2 249.5L187.4 248.7L186.1 248.6L185.3 247.9L185.0 246.3L183.6 246.4L181.7 245.7L181.1 245.2L178.2 244.8L177.3 244.2L178.3 243.6L176.1 243.5L174.3 244.8L173.4 244.9L173.0 245.5L171.9 245.8ZM193.6 254.9L193.9 254.0L197.7 254.6L198.6 254.0L197.6 252.9L197.8 251.9L196.4 251.5L197.0 250.7L198.3 250.9L200.3 251.3L200.6 250.8L202.4 250.8L203.7 251.6L204.2 251.4L204.6 252.3L205.9 252.3L205.7 253.1L206.7 253.1L207.7 254.2L206.7 255.2L205.7 254.6L204.7 254.7L203.9 254.6L203.5 255.1L202.6 255.3L202.3 254.6L201.5 255.0L200.4 256.8L199.8 256.4L199.8 255.6L198.3 255.2L197.3 255.4L195.9 255.2L194.8 255.7L193.6 254.9ZM184.9 255.2L185.2 254.6L186.1 254.4L186.6 254.5L188.1 254.7L189.2 255.3L189.5 256.0L187.9 256.1L187.2 256.5L186.0 256.1L184.9 255.2ZM210.2 254.7L212.2 254.4L213.4 254.6L213.8 255.1L213.1 255.8L211.4 255.8L210.1 255.9L210.1 254.8ZM221.3 274.7L222.7 274.3L223.1 274.4L222.9 276.4L221.0 276.7L220.6 276.4L221.3 275.7ZM187.4 236.9L188.0 237.0L188.5 239.2L188.3 240.7L187.7 240.8L187.4 239.3L186.7 238.5ZM186.3 232.7L187.4 232.6L188.9 232.6L188.9 233.3L186.3 233.8ZM189.1 232.1L190.6 233.3L190.0 235.1L189.6 234.8L189.9 233.4L189.0 232.4ZM228.1 439.5L229.4 440.8L231.1 442.7L234.3 444.1L237.3 444.8L236.9 446.0L235.1 446.1L233.8 445.3L232.6 445.2L230.5 445.2L230.1 446.7L228.3 446.0L226.2 445.6L223.1 444.3L220.5 442.9L216.5 440.1L218.4 440.7L221.8 442.3L224.9 443.2L225.3 442.0L225.2 440.4L226.6 439.3ZM338.0 132.9L337.4 134.4L339.2 135.9L336.7 137.7L334.0 138.4L331.3 139.2L329.8 139.7L327.5 139.3L325.0 139.0L322.6 138.6L324.5 137.6L322.7 137.0L320.9 136.4L324.1 136.0L324.2 135.3L322.4 135.1L320.6 134.8L322.1 133.3L324.7 133.0L327.2 134.5L330.0 133.3L332.1 133.9L335.1 132.7ZM216.0 141.1L215.7 141.8L212.9 142.8L211.7 142.7L212.0 142.0L214.2 141.1ZM219.0 142.2L219.8 142.7L218.8 143.9L217.7 143.9L217.8 143.1ZM232.5 128.5L235.1 128.6L235.2 130.1L233.3 131.2L231.0 131.0L231.1 129.6ZM233.6 172.8L236.7 173.4L238.5 174.4L238.3 174.9L237.4 174.9L235.0 174.1L234.1 173.2ZM232.0 180.9L233.5 181.8L235.8 181.6L234.5 182.7L233.6 182.9L231.9 182.4L231.0 181.2ZM57.4 148.1L55.8 148.5L55.1 148.1L54.8 147.4L57.1 147.0L58.3 147.2ZM192.8 109.0L196.3 108.3L197.7 108.4L199.1 108.4L198.4 109.3L195.1 109.7L193.2 109.5ZM195.5 107.9L199.0 107.0L200.4 107.1L201.8 107.1L201.3 107.8L198.1 108.1L196.8 108.0ZM220.6 106.9L222.0 107.3L222.8 108.1L220.3 108.7L218.7 108.2L219.0 107.5ZM213.7 113.6L216.7 113.1L218.3 113.8L217.0 114.9L214.0 115.2L212.9 114.5ZM357.4 151.2L355.3 153.8L357.2 153.5L359.3 153.5L358.8 155.5L357.0 157.7L359.0 157.9L360.9 161.0L362.2 161.4L363.4 164.2L363.9 165.2L366.3 165.7L366.1 167.3L365.1 168.0L365.9 169.3L364.1 170.7L361.4 170.7L358.0 171.3L357.1 170.8L355.8 172.0L353.9 171.7L352.5 172.7L351.4 172.2L354.4 169.5L356.2 169.0L353.1 168.6L352.6 167.6L354.7 166.8L353.6 165.5L354.1 163.8L357.0 164.1L357.3 162.6L356.0 161.0L353.7 160.6L353.2 159.9L353.9 158.8L353.3 158.2L352.2 159.3L352.2 156.9L351.3 155.7L352.1 153.2L353.6 151.2L355.1 151.4ZM350.9 162.9L351.2 164.7L349.6 166.9L346.1 168.4L343.3 168.0L345.0 165.4L344.1 162.9L346.9 160.9L348.4 159.8L350.0 159.7L352.0 161.2ZM384.8 105.3L385.3 104.7L387.4 104.7L389.3 105.3L391.9 105.9L394.4 106.6L392.7 107.0L391.0 107.4L390.5 108.8L389.2 109.1L388.9 110.8L387.1 110.8L385.3 110.2L383.6 109.6L384.8 108.9L382.5 108.4L379.4 106.8L378.1 105.4L380.0 105.0L381.9 104.7L382.8 105.4ZM399.7 108.7L398.2 109.1L396.7 109.5L393.9 109.1L394.8 108.5L393.7 108.0L395.2 107.8L396.7 107.6L397.5 108.3ZM402.3 104.6L400.5 105.6L398.4 105.7L396.4 105.8L394.2 105.7L392.0 105.5L391.6 105.0L389.5 105.0L387.8 104.2L389.9 104.0L392.1 103.7L394.3 104.1L395.5 103.6L397.4 103.8L399.3 104.0ZM446.3 120.6L447.7 120.2L447.1 119.0L449.3 117.2L447.7 117.0L449.0 116.1L450.4 115.2L449.4 114.2L450.8 113.7L452.2 113.2L454.3 112.5L456.3 111.9L458.7 111.7L461.1 111.5L463.1 110.8L465.8 110.5L467.6 111.3L467.0 111.9L464.7 112.4L462.4 112.9L460.4 113.4L458.4 113.9L456.6 114.8L454.8 115.8L453.7 117.8L452.3 119.9L453.6 121.6L457.7 123.4L456.8 123.6L454.0 123.5L451.3 123.3L450.3 122.3L447.1 121.8ZM509.1 106.8L507.6 106.9L506.2 107.0L503.8 106.7L501.4 106.5L498.1 105.8L495.5 104.5L493.1 104.2L494.2 103.6L495.3 103.0L496.6 102.8L497.8 102.6L501.7 103.5L504.5 104.3L507.3 105.1ZM518.0 107.8L515.6 108.1L513.1 108.3L510.7 108.6L510.1 106.1L511.0 105.9L512.3 106.0L514.9 106.6L517.4 107.1ZM575.2 112.1L577.3 112.2L579.4 112.2L583.0 112.7L586.7 113.3L587.9 114.8L585.0 114.7L582.1 114.7L580.2 115.2L575.1 113.9L573.8 112.5ZM589.6 114.1L592.1 114.1L594.6 114.2L597.1 114.2L596.6 115.0L593.8 114.9ZM585.8 117.9L585.4 117.8L585.7 116.9L587.4 116.7L590.8 117.5L591.8 118.1L589.4 118.1L587.6 118.0ZM656.2 121.7L658.7 123.2L657.1 123.3L655.6 122.6ZM69.8 121.7L71.3 122.0L72.9 122.2L72.2 122.5L69.7 123.0L67.3 123.2ZM60.6 127.3L61.4 128.1L62.1 128.9L62.7 130.0L63.3 131.2L61.1 132.6L61.5 133.1L63.4 131.5L65.5 131.7L67.6 131.8L68.0 133.9L64.9 134.9L61.7 135.2L58.5 137.4L57.2 137.9L55.6 137.8L55.4 137.0L54.0 136.4L55.0 135.4L53.8 135.0L51.4 135.3L51.6 134.5L53.2 133.6L50.3 134.2L49.5 135.3L47.1 136.2L53.8 131.7ZM649.4 170.7L655.0 175.2L651.3 174.3L652.9 178.0L656.7 180.6L658.0 182.4L655.3 180.9L655.3 182.9L653.5 180.7L651.9 178.2L649.6 175.5L648.6 173.6L646.0 170.2L642.8 167.7L640.0 164.3L640.8 163.2L639.0 162.0L639.5 161.7L641.5 163.3L644.3 165.7L646.4 168.2ZM667.1 205.7L667.4 207.8L668.4 209.1L668.1 210.9L666.0 212.2L662.2 212.3L660.4 215.3L658.5 214.3L657.5 212.3L654.0 212.9L652.0 214.2L649.4 214.2L652.5 216.1L652.8 220.6L651.8 221.7L650.3 220.7L649.9 218.3L648.2 217.5L646.6 215.7L648.3 215.0L648.8 213.3L650.4 212.0L651.2 210.2L655.2 209.4L657.7 209.9L657.7 205.3L659.8 206.5L661.6 203.9L662.3 202.9L661.9 199.7L659.8 196.8L659.8 195.2L661.7 194.7L665.0 198.3L666.2 200.4L665.7 203.0ZM662.3 187.5L664.1 188.0L664.9 186.9L667.3 189.8L664.7 190.5L664.5 193.1L660.1 191.3L660.8 194.2L658.4 194.2L656.5 191.6L656.3 189.7L658.4 189.5L656.6 185.9L655.8 183.9L660.1 186.6ZM657.1 213.5L657.8 214.4L657.2 216.0L656.0 215.2L655.1 215.8L655.2 217.3L653.4 216.6L652.9 215.3L653.5 213.8L654.8 214.1L655.2 213.0ZM637.0 239.0L636.5 243.2L636.0 245.4L634.3 243.2L633.7 241.2L634.5 238.6L635.8 236.7L637.0 237.4ZM613.8 254.0L612.1 255.2L610.1 254.4L609.7 252.2L610.6 251.0L612.9 250.3L614.3 250.3L614.9 251.3L614.1 252.5ZM551.4 283.1L551.1 285.9L550.2 286.6L548.2 287.2L547.0 285.1L546.5 281.4L547.3 277.1L548.9 278.6L550.1 280.4ZM638.9 254.4L640.4 255.2L641.0 254.5L641.3 255.2L641.1 256.2L642.3 258.1L642.0 260.3L640.8 261.2L640.8 263.3L641.5 265.3L642.8 265.6L643.8 265.3L646.8 266.8L646.8 268.2L647.6 268.8L647.5 270.0L645.6 268.7L644.6 267.4L644.1 268.3L642.4 266.8L640.4 267.1L639.2 266.6L639.2 265.5L639.8 264.8L639.0 264.2L638.8 265.2L637.5 263.7L637.0 262.5L636.5 260.0L637.6 260.9L637.2 256.8L637.5 254.4ZM653.9 280.8L654.2 282.5L654.5 284.0L653.8 286.4L652.8 283.7L651.8 285.0L652.7 287.0L652.1 288.2L649.3 286.7L648.5 284.8L649.1 283.6L647.6 282.3L647.0 283.4L645.9 283.3L644.3 284.8L643.8 284.0L644.6 281.8L646.0 281.0L647.2 280.1L648.1 281.3L649.8 280.6L650.0 279.4L651.7 279.3L651.3 277.3L653.3 278.5L653.6 279.8ZM650.2 270.0L650.9 271.0L651.9 273.9L650.0 273.2L650.1 274.1L650.9 275.7L649.8 276.3L649.6 274.5L648.9 274.3L648.3 272.7L649.7 272.9L649.6 272.0L647.9 270.0ZM647.9 275.9L647.2 276.8L646.6 278.4L646.0 279.2L644.4 277.4L644.8 276.7L645.3 276.0L645.4 274.4L646.6 274.2L646.5 276.0L647.9 273.4ZM642.7 271.7L644.1 272.5L645.6 272.5L645.7 273.6L644.7 274.7L643.3 275.5L643.1 274.3L643.2 272.9ZM637.4 273.1L638.0 275.2L636.6 276.7L635.6 278.4L632.7 280.9L633.7 279.1L635.2 277.5L636.4 275.7ZM638.6 267.6L640.6 267.7L641.5 268.6L641.1 270.9L640.0 269.6ZM635.2 298.0L637.8 300.4L635.0 300.8L634.3 302.5L634.4 304.9L632.1 306.7L632.0 309.3L631.0 313.3L630.7 312.4L628.0 313.5L627.1 311.9L625.5 311.8L624.4 311.0L621.6 311.9L620.8 310.6L619.3 310.8L617.4 310.5L617.1 307.0L616.0 306.2L614.9 304.0L614.6 301.7L614.8 299.3L616.2 297.5L617.9 298.5L619.7 298.0L620.1 295.7L621.0 295.2L623.8 294.7L625.3 292.6L626.4 291.0L627.3 290.0L629.2 288.6L630.9 286.7L631.9 284.7L632.8 284.7L634.1 286.0L634.3 287.1L635.8 287.9L637.8 288.7L637.7 289.7L636.1 289.8L636.6 291.1L634.9 292.0L633.7 294.4L635.5 296.8ZM582.7 288.5L585.2 288.8L587.8 289.1L589.9 291.6L591.8 293.4L593.1 294.5L595.3 297.3L597.7 297.4L599.7 299.1L601.0 301.3L602.8 302.5L601.9 304.7L603.2 305.6L604.0 305.6L604.4 307.5L605.1 308.9L606.8 309.2L607.9 310.8L607.2 314.1L606.9 318.1L604.4 318.1L602.5 316.0L599.6 313.8L598.7 312.2L597.0 310.1L595.9 308.2L594.2 304.5L592.2 302.3L591.5 300.1L590.6 298.0L588.5 296.4L587.3 294.1L585.5 292.7L583.0 289.8ZM607.4 318.2L610.3 318.4L612.0 319.4L613.0 319.6L613.3 320.5L617.7 320.8L618.2 319.7L622.4 321.0L623.2 322.6L626.6 323.1L629.3 324.7L626.6 325.7L624.1 324.6L622.1 324.7L619.7 324.5L617.6 324.0L615.0 323.0L613.3 322.8L612.3 323.1L608.2 322.0L607.8 320.9L605.8 320.7ZM652.2 299.1L650.4 301.7L648.6 302.2L646.4 301.7L642.6 301.8L640.5 302.2L640.2 304.2L642.2 306.5L643.5 305.3L647.8 304.4L647.6 305.6L646.6 305.2L645.6 306.8L643.5 307.8L645.6 311.1L645.1 312.0L647.1 315.0L647.0 316.8L645.7 317.5L644.9 316.6L646.1 314.5L643.8 315.5L643.2 314.7L643.6 313.8L642.0 312.2L642.2 309.7L640.7 310.5L640.7 313.5L640.6 317.3L639.2 317.6L638.2 316.9L639.0 314.5L638.8 311.9L637.8 311.9L637.1 310.1L638.1 308.4L638.5 306.3L639.7 302.4L640.2 301.3L642.1 299.4L644.0 300.2L646.9 300.5L649.5 300.4L651.8 298.5ZM664.4 305.3L667.5 304.6L668.7 303.8L672.4 304.8L672.7 305.8L673.3 310.0L675.6 311.6L677.6 308.8L680.3 307.2L682.4 307.2L684.3 308.2L686.0 309.1L688.5 309.6L692.4 311.4L696.6 312.9L698.1 314.2L699.3 315.6L699.6 317.1L703.3 318.7L703.8 320.1L701.6 320.4L702.0 322.1L703.9 323.8L705.1 326.6L706.5 326.5L706.3 327.7L708.0 328.1L707.2 328.6L709.6 329.7L709.2 330.5L707.7 330.6L707.2 330.0L705.2 329.7L703.0 329.3L701.4 327.6L700.2 326.2L699.2 323.9L696.3 322.7L694.3 323.5L692.8 324.4L692.9 326.3L691.0 327.2L689.8 326.7L687.4 326.6L685.6 324.5L683.3 324.0L682.6 324.7L679.7 324.8L680.9 322.7L682.4 321.9L682.0 319.1L681.0 316.9L676.7 314.7L674.8 314.5L671.4 312.1L670.7 313.3L669.8 313.5L669.3 312.6L669.3 311.5L667.6 310.2L670.2 309.2L671.8 309.3L671.7 308.6L668.3 308.6L667.4 307.0L665.3 306.5ZM713.4 317.1L712.2 317.3L711.8 318.1L710.5 318.7L709.2 319.3L708.0 319.3L706.2 318.6L704.9 317.8L705.1 317.0L707.2 317.4L708.5 317.2L708.9 315.9L709.2 315.9L709.4 317.3L710.7 317.1L711.4 316.2L712.8 315.2L712.6 313.7L714.0 313.6L714.4 314.1L714.3 315.5ZM716.2 314.6L715.5 315.3L715.1 313.7L714.7 312.7L713.6 311.8L712.4 310.7L710.7 310.0L711.4 309.3L712.6 310.1L713.4 310.6L714.3 311.3L715.2 312.4L716.0 313.2ZM719.8 316.8L720.5 317.4L721.5 319.0L722.5 319.9L722.1 320.6L721.5 320.9L720.6 319.9L719.7 318.2L719.3 316.2L719.6 316.0ZM650.5 326.0L650.8 325.4L652.9 324.8L654.5 324.8L655.2 324.4L656.1 324.8L655.2 325.5L652.7 326.6L650.7 327.3L649.0 329.3L647.0 329.9L646.7 329.6L647.0 328.7L648.2 327.1ZM645.9 323.9L645.5 325.4L642.0 326.1L638.9 325.8L639.0 324.9L640.9 324.3L642.2 325.1L643.8 324.9ZM634.4 324.0L635.2 324.7L636.6 324.4L637.1 325.6L634.4 326.1L632.8 326.4L631.6 326.4L632.5 324.9L633.7 324.9ZM640.6 328.9L640.4 329.6L639.5 329.6L636.6 327.8L638.8 327.3L639.9 328.1ZM658.3 297.1L658.5 298.5L659.9 298.8L660.2 299.8L660.1 302.1L658.9 301.9L658.5 303.5L659.5 304.8L658.8 305.2L657.9 303.5L657.2 300.2L657.6 298.1ZM664.1 310.9L664.9 312.9L663.0 311.8L661.1 311.6L659.7 311.8L658.1 311.7L658.8 310.2L661.6 310.1ZM656.6 311.8L655.7 312.7L654.2 312.2L653.8 311.1L656.1 311.0ZM691.7 338.8L692.2 340.8L693.8 339.8L695.4 342.0L694.9 343.1L695.0 345.4L695.8 349.2L695.3 350.6L697.8 353.7L699.1 355.0L700.4 356.1L700.0 356.7L700.9 358.4L701.1 361.2L702.2 360.6L702.8 361.8L703.5 361.4L703.2 364.1L704.3 365.8L705.1 366.7L706.3 368.9L706.2 371.0L705.8 372.4L705.1 374.1L705.4 376.3L704.4 378.6L703.5 379.8L702.0 382.1L701.4 383.6L700.1 385.5L698.0 387.9L695.8 389.2L694.0 391.2L692.7 392.5L690.9 394.7L689.4 396.0L687.8 398.0L686.5 399.8L686.2 400.6L684.4 401.5L682.0 401.6L679.4 402.7L677.8 403.7L675.9 404.8L674.8 403.7L673.7 403.2L674.8 401.9L673.4 402.4L670.4 404.2L669.0 403.5L668.0 403.1L666.9 402.9L665.2 402.2L664.6 400.6L665.3 398.6L665.9 396.2L664.9 396.2L662.9 395.9L664.2 394.6L664.6 392.7L662.7 394.5L660.6 395.0L662.4 393.5L663.4 392.0L664.8 390.7L665.5 388.8L662.7 391.0L661.0 391.9L659.2 394.0L658.0 392.9L658.6 391.6L658.1 389.6L657.4 388.7L658.0 388.1L655.8 386.5L654.3 386.4L652.7 385.1L648.7 385.4L645.2 387.0L642.6 387.2L640.6 387.0L637.7 388.4L635.6 389.0L634.6 390.3L633.4 391.4L631.5 391.5L630.0 391.7L628.3 391.2L626.6 391.5L625.1 391.6L623.2 393.0L622.6 392.9L621.3 393.6L619.9 394.5L618.3 394.4L616.9 394.4L615.2 392.7L614.2 392.2L614.8 390.7L616.1 390.4L616.6 389.8L616.9 388.8L617.8 387.0L618.1 385.4L617.8 382.8L617.9 381.3L618.5 379.8L618.1 378.1L618.2 377.4L617.5 376.3L617.8 374.2L617.0 372.2L617.0 371.1L617.7 372.2L617.5 369.8L618.5 370.5L618.9 371.6L619.2 370.2L618.5 368.2L618.5 367.3L618.1 366.5L618.7 365.0L619.3 364.4L619.8 363.1L619.9 361.6L621.1 359.7L621.0 361.7L622.2 359.9L624.2 359.0L625.5 357.9L627.4 356.9L628.5 356.7L629.0 357.0L631.0 356.1L632.4 355.8L632.9 355.2L633.5 355.0L634.8 355.0L637.3 354.2L638.7 353.1L639.6 351.7L641.1 350.4L641.4 349.3L641.7 347.9L643.7 345.7L644.2 347.9L645.3 347.4L644.7 346.2L645.6 344.9L646.5 345.5L647.1 343.5L648.6 342.2L649.3 341.2L650.5 340.7L650.6 340.0L651.6 340.3L651.7 339.7L652.8 339.3L653.9 338.9L655.4 340.1L656.5 341.7L657.9 341.7L659.3 341.9L659.1 340.5L660.5 338.4L661.6 337.7L661.3 337.1L662.5 335.6L664.0 334.6L665.2 335.0L667.1 334.5L667.3 333.1L665.7 332.3L666.9 331.9L668.4 332.5L669.5 333.6L671.3 334.3L672.0 334.0L673.3 334.8L674.8 334.1L675.6 334.3L676.2 333.8L677.1 335.1L676.3 336.5L675.3 337.5L674.5 337.6L674.6 338.7L673.7 340.0L672.7 341.3L672.8 342.0L674.4 343.5L676.0 344.3L677.0 345.2L678.4 346.7L679.0 346.7L680.1 347.4L680.3 348.2L682.3 349.1L684.0 348.2L684.7 346.8L685.3 345.6L685.9 344.2L686.9 342.1L686.8 340.9L687.1 340.1L687.1 338.6L687.7 336.6L688.2 336.1L687.9 335.2L688.7 333.9L689.3 332.4L689.4 331.7L690.4 330.7L690.9 332.0L690.9 333.6L691.4 333.9L691.3 335.0L692.0 336.3L692.0 337.8ZM671.2 409.4L672.6 410.3L674.0 409.9L676.0 409.4L677.2 409.6L675.3 412.7L674.0 413.6L672.4 415.6L672.1 414.9L669.4 416.7L669.1 416.6L667.9 416.5L668.1 414.3L668.9 412.6L669.1 410.3L669.9 409.1ZM739.3 407.5L737.5 408.9L735.1 410.7L732.7 411.7L732.8 411.0L732.2 410.6L735.1 408.5L735.4 407.1L733.8 406.1L734.6 405.1L736.7 404.2L738.4 402.2L739.5 400.5L739.7 398.8L740.1 398.3L739.7 397.2L739.4 394.9L739.5 393.1L740.5 392.9L740.8 394.3L742.1 395.0L741.3 397.3L741.1 400.1L742.3 398.3L742.8 399.0L741.9 401.0L743.0 401.8L744.4 402.0L746.3 401.0L747.1 401.3L745.0 403.6L743.3 405.2L741.7 405.1L740.6 405.9L740.0 407.0ZM717.1 416.5L720.0 415.2L722.3 413.8L724.8 411.9L726.1 411.2L727.5 409.8L729.8 408.6L729.5 409.7L729.2 410.8L731.5 409.7L731.2 410.8L730.4 411.9L728.7 413.1L725.8 415.0L723.9 416.1L723.7 417.3L722.0 417.3L719.4 418.3L717.5 420.0L714.2 422.6L711.6 423.7L710.0 424.5L708.1 424.4L707.5 423.6L705.4 423.4L705.8 422.4L708.5 420.5L713.1 418.0L714.9 417.5ZM476.6 335.4L477.2 336.5L477.7 338.2L477.8 341.4L478.4 342.6L478.1 343.9L477.6 344.6L476.9 343.1L476.4 343.9L476.8 345.8L476.5 346.9L475.8 347.5L475.5 349.7L474.4 352.8L473.0 356.4L471.3 361.3L470.1 365.0L468.8 368.0L466.9 368.6L464.9 369.7L463.6 369.1L462.0 368.1L461.4 366.7L461.5 364.4L460.8 362.4L460.7 360.5L461.3 358.6L462.4 358.1L462.4 357.3L463.6 355.3L463.9 353.6L463.5 352.4L463.2 350.7L463.1 348.3L464.0 346.8L464.4 345.2L465.6 345.1L466.9 344.5L467.8 344.1L468.8 344.1L470.1 342.6L472.1 340.9L472.9 339.6L472.6 338.5L473.6 338.8L474.9 337.0L475.0 335.5L475.9 334.3ZM738.3 357.9L739.8 359.5L740.6 360.7L739.6 361.4L738.6 360.7L737.2 359.5L736.1 358.1L735.1 356.2L735.0 355.4L735.9 355.4L737.0 356.3L737.8 357.2ZM769.4 348.1L770.0 348.9L769.3 350.2L767.8 350.6L766.6 350.3L766.7 349.1L767.8 348.2L768.7 348.5ZM772.0 346.7L770.4 347.3L770.4 346.3L771.6 345.8L772.4 345.6L773.9 344.8L773.6 346.1ZM730.1 328.0L730.3 327.0L731.8 327.4L732.5 327.9L732.8 328.6L731.9 328.7L730.5 328.4ZM734.8 327.9L734.4 328.4L732.9 326.1L732.6 324.6L733.4 324.6L734.0 326.6ZM731.0 324.6L731.0 325.1L729.3 324.0L728.2 323.1L727.4 322.2L727.7 321.9L728.7 322.6L730.5 323.8ZM725.8 322.0L725.4 322.1L724.4 321.6L723.5 320.5L723.7 320.1L725.0 321.2ZM735.5 330.2L736.0 331.1L734.4 331.1L733.8 329.5L735.1 330.1ZM745.9 345.9L745.1 346.2L744.6 345.0L744.8 344.3ZM745.1 341.8L745.0 343.9L744.5 343.6L744.0 343.8L743.8 343.0L744.1 341.0ZM396.3 202.9L395.7 204.9L396.0 205.7L395.6 207.1L394.0 206.1L392.8 205.8L389.8 204.5L390.0 203.1L392.5 203.4L394.7 203.1ZM382.5 195.1L383.8 197.0L383.7 200.4L382.7 200.2L381.9 201.1L381.0 200.4L380.8 197.3L380.3 195.8L381.5 195.9ZM383.1 192.7L382.5 194.7L381.5 194.2L381.0 192.4L381.4 191.5L382.7 190.5ZM414.4 209.4L415.7 210.3L417.4 210.2L419.0 210.4L419.0 210.8L420.2 210.5L419.9 211.3L416.8 211.5L416.8 211.1L414.1 210.6ZM434.2 210.9L434.6 210.3L436.2 210.3L438.1 209.6L436.7 210.7L436.9 211.1L437.0 211.4L434.9 212.4L433.8 212.1L433.2 211.0ZM387.3 158.6L386.4 160.6L384.2 159.2L383.9 158.2L386.6 157.4ZM502.5 429.5L503.5 430.3L505.3 430.7L505.1 431.1L504.1 432.3L501.0 432.4L501.5 431.1L502.1 430.0ZM73.3 154.9L70.4 155.8L70.1 155.2L71.0 154.1L73.7 153.2L75.1 152.8L76.1 153.0L76.1 153.7ZM57.9 139.0L58.4 139.4L59.8 139.2L60.4 139.8L61.8 140.1L61.3 140.4L59.3 140.9L58.6 140.4L58.5 139.9L56.8 140.1L56.6 139.9ZM9.6 252.9L9.2 253.3L8.7 253.0L9.0 252.2L8.8 251.3L9.7 249.8L10.6 250.3L10.9 250.5L11.6 251.8ZM7.9 248.1L9.1 248.1L9.6 248.5L8.6 249.0L8.1 248.3ZM5.0 246.5L5.8 246.2L6.2 247.1L5.1 247.1ZM426.7 103.7L429.3 103.4L431.4 103.4L433.7 103.2L436.1 103.5L434.0 104.0L432.7 104.4L431.3 104.7L429.4 104.3L429.9 103.8L428.3 103.8Z"/></clipPath></defs>
<g id="map" stroke-linejoin="round">
<path d="M435.3 224.4L434.3 221.0L431.4 220.2L429.4 220.5L427.1 222.0L423.7 221.0L421.1 220.6L418.6 220.2L415.6 218.9L414.1 218.6L410.2 216.8L407.2 218.6L406.9 221.2L405.3 223.6L402.8 222.3L400.2 221.5L397.6 220.7L396.4 218.4L393.5 217.3L391.8 216.8L388.2 216.3L387.3 215.7L385.5 214.4L385.0 213.1L386.7 209.5L385.9 207.6L386.7 205.8L385.0 205.6L383.5 205.2L381.1 206.2L378.8 205.8L376.6 205.8L374.5 206.9L372.2 206.7L369.9 206.6L366.2 207.1L362.8 209.0L360.4 209.5L358.2 210.8L355.2 210.3L353.0 210.5L351.7 209.3L350.2 209.2L349.5 211.0L347.9 213.7L343.9 216.0L342.6 217.6L342.3 219.0L341.4 221.2L341.3 224.6L339.9 226.7L336.9 229.2L334.9 229.5L333.8 230.5L332.1 233.3L330.7 234.2L329.8 237.2L329.0 238.8L328.3 239.1L326.9 240.8L326.2 242.6L326.2 243.5L325.5 244.9L324.6 245.5L324.5 246.8L324.4 247.9L324.9 247.0L325.6 251.6L326.0 252.9L326.3 255.5L325.9 257.9L325.3 259.2L325.4 260.6L324.9 262.0L323.7 263.8L322.7 264.3L323.8 265.2L324.7 267.2L324.4 268.4L324.7 270.4L325.6 271.5L327.0 272.8L328.3 273.9L328.9 274.4L330.1 276.6L331.5 278.0L332.5 279.5L333.2 282.4L334.4 283.8L336.0 284.9L336.6 285.0L338.2 286.7L340.2 288.2L342.2 290.2L344.6 291.4L345.7 291.5L347.9 290.5L349.6 289.8L352.3 289.3L353.8 289.3L355.4 289.8L356.4 289.8L358.5 290.5L360.6 289.7L361.8 288.8L364.1 287.8L365.4 287.3L367.3 286.7L369.2 286.4L373.0 286.4L374.6 288.1L375.4 290.0L376.6 291.7L379.3 291.1L380.2 291.3L382.6 290.3L383.2 291.4L383.6 292.6L384.7 293.0L385.6 294.8L385.3 296.8L384.5 299.8L384.9 300.2L384.5 302.1L383.3 304.6L383.3 305.7L384.7 308.4L386.2 310.6L388.6 313.2L390.4 314.8L390.4 316.0L391.4 318.7L392.3 320.9L393.5 325.2L392.7 326.2L393.2 328.3L394.3 330.8L394.5 332.3L394.4 334.2L393.5 335.5L392.2 337.2L391.6 338.2L390.9 340.6L389.9 344.1L389.7 348.0L389.9 350.0L391.6 352.6L393.2 357.4L394.4 359.5L395.2 360.6L395.5 362.0L395.5 365.1L396.1 369.2L397.0 373.6L397.8 375.5L399.4 377.5L400.8 380.9L401.9 383.1L403.2 385.6L403.1 387.6L402.4 388.1L403.0 389.8L403.2 392.1L404.2 392.8L404.9 392.9L405.7 393.8L406.7 393.8L408.1 392.8L412.4 391.3L414.6 391.1L416.9 391.7L418.1 391.2L419.4 391.5L420.8 390.7L423.2 389.7L425.0 388.5L426.7 386.9L429.4 384.2L430.8 382.3L432.6 379.7L434.7 378.0L435.3 376.8L435.8 374.6L436.5 372.7L436.8 371.3L436.1 370.1L437.1 369.1L439.5 367.9L441.8 366.8L442.8 365.9L443.2 364.8L442.7 364.3L443.4 360.5L443.0 359.9L442.6 358.4L441.6 356.4L441.9 354.5L442.9 353.9L444.6 352.1L445.5 351.6L448.2 348.8L450.8 347.5L453.0 346.5L454.5 344.9L456.3 341.2L455.9 339.9L455.8 335.8L455.8 333.5L456.0 331.0L455.7 329.8L454.8 329.2L454.0 326.6L453.2 325.0L453.4 323.7L453.9 320.7L452.3 318.2L453.4 315.0L454.3 314.2L454.8 312.4L455.6 311.4L455.9 309.5L456.8 309.3L457.4 308.2L459.0 307.2L460.1 305.2L462.6 302.0L464.8 300.1L468.2 297.4L470.5 295.3L473.1 291.8L475.0 288.8L476.9 285.0L478.3 281.7L479.3 278.7L479.8 275.9L480.3 275.0L480.2 273.6L480.3 272.1L480.3 271.4L479.4 271.4L478.3 272.3L477.1 272.5L476.1 272.9L474.1 273.1L473.3 273.5L472.1 273.7L470.2 274.5L467.7 274.8L465.5 275.5L464.4 275.5L463.3 274.4L462.8 273.3L461.0 272.1L462.1 272.8L462.3 270.4L461.8 269.6L460.6 268.8L458.5 266.4L457.2 264.9L454.6 264.8L454.0 262.4L452.7 261.2L452.2 258.8L450.4 255.7L449.2 254.8L448.2 254.1L447.2 251.0L446.7 248.3L447.2 247.8L446.3 245.3L443.4 240.2L443.0 240.7L441.2 237.4L440.3 235.9L439.4 234.5L437.8 230.3L436.4 228.2L435.3 225.9L435.1 224.6ZM435.3 224.4L435.5 225.9L436.6 228.0L438.1 230.0L439.2 230.3L439.6 228.7L440.5 225.7L440.6 226.0L440.5 227.1L440.2 229.4L441.3 229.4L442.6 231.2L444.1 233.3L445.2 235.3L445.9 235.9L446.5 237.8L447.3 239.3L448.6 239.8L449.7 240.9L451.2 245.3L451.4 247.1L453.2 249.6L454.3 250.1L455.9 251.8L456.7 254.0L459.3 257.1L460.3 259.0L460.6 260.1L460.8 261.2L460.5 261.7L460.8 262.9L462.0 266.8L462.0 268.2L462.7 269.8L464.3 269.9L466.1 269.6L466.5 268.9L467.5 268.1L470.0 267.8L471.4 267.3L472.7 266.2L474.4 266.2L476.4 264.3L480.0 263.1L482.2 262.0L482.5 260.0L484.1 259.3L486.6 258.3L487.9 258.5L488.9 257.8L488.9 256.7L489.7 256.1L491.1 256.1L491.6 255.5L491.7 254.3L493.0 253.3L494.1 253.3L494.3 252.9L493.9 251.2L494.1 249.9L494.5 249.3L495.6 249.4L496.3 247.6L497.1 246.8L497.4 246.0L498.1 244.5L498.1 243.9L497.2 243.6L496.5 242.7L495.4 241.2L494.0 240.7L492.3 240.4L491.0 239.4L489.8 237.7L489.2 235.6L489.4 235.1L489.5 234.0L489.2 233.8L488.7 234.7L487.4 236.3L485.9 238.0L484.6 239.7L481.4 239.6L479.6 240.0L479.1 239.4L478.6 238.4L478.9 236.9L478.7 235.4L477.9 234.5L477.3 234.8L476.9 236.2L477.2 238.1L475.6 235.9L475.2 233.0L473.6 231.9L471.9 230.4L470.8 228.2L470.0 225.6L469.4 224.4L470.7 224.6L471.4 223.5L472.9 224.4L474.1 224.0L476.1 227.5L477.9 229.9L480.2 230.7L482.7 232.7L485.5 233.6L487.6 232.3L489.3 231.9L490.4 232.3L491.8 235.5L494.3 235.9L496.8 236.5L501.2 237.2L504.3 236.9L507.9 236.8L512.0 236.3L514.0 238.3L514.9 240.2L516.6 240.9L519.5 243.1L519.3 245.1L520.3 244.1L522.6 248.2L524.2 248.5L527.4 247.0L528.0 249.4L528.4 252.6L529.4 255.9L530.9 261.0L533.3 264.6L533.8 266.2L534.6 269.5L536.0 272.0L536.9 273.2L538.0 275.9L539.2 279.5L541.5 282.0L542.4 281.2L543.1 279.5L545.1 278.7L544.4 277.8L545.3 275.8L546.5 275.7L546.2 271.3L547.0 268.8L546.7 266.6L545.9 263.2L546.4 261.2L547.5 261.1L549.4 260.2L550.5 259.5L550.3 258.3L552.4 256.6L553.9 255.0L556.1 251.9L559.1 250.1L560.1 248.6L559.8 246.6L562.5 246.1L564.0 246.1L564.2 245.1L565.8 245.7L567.1 245.7L567.6 244.3L567.3 243.2L569.4 243.3L570.5 244.8L571.1 246.1L571.4 247.4L572.3 248.8L574.2 250.9L575.5 251.2L575.4 252.2L577.6 255.2L578.4 257.6L578.0 260.9L579.5 261.5L580.8 261.7L583.2 259.8L584.5 258.5L585.8 260.7L586.6 264.0L587.7 267.1L588.7 268.5L588.8 271.4L589.7 272.9L589.2 274.9L589.5 276.8L588.9 281.0L589.4 282.4L589.7 280.9L590.9 282.1L592.2 283.6L592.7 284.9L593.6 285.9L594.0 288.9L594.9 290.3L595.3 292.5L596.7 294.3L597.0 295.6L599.8 297.7L602.0 299.6L603.7 299.4L603.7 298.5L602.7 296.2L601.4 293.0L601.4 290.1L600.4 288.4L598.9 286.8L598.4 286.5L597.1 285.2L595.7 284.9L594.4 283.4L593.8 281.1L592.7 278.7L591.2 278.6L590.9 276.8L591.5 274.4L591.5 271.7L592.4 270.6L592.3 267.7L594.3 267.7L594.2 269.8L596.1 269.7L598.3 270.9L599.7 273.7L600.8 275.0L602.7 275.4L604.6 276.9L604.1 278.6L605.0 280.3L607.7 277.9L609.4 275.7L611.9 274.0L613.6 272.3L613.5 267.7L611.8 262.9L610.2 260.8L607.8 259.1L605.2 255.7L603.0 253.0L603.3 251.2L604.8 248.7L607.4 246.5L608.4 246.0L611.6 246.9L611.2 247.9L612.1 249.8L613.4 249.6L613.7 246.9L616.0 246.5L618.9 245.2L620.0 243.8L620.9 244.7L622.1 243.5L624.6 243.2L627.3 241.1L629.9 238.6L631.2 235.5L632.2 232.1L633.0 229.2L634.2 229.0L634.1 226.9L631.2 222.6L632.4 221.9L631.7 220.0L627.3 215.5L622.5 211.5L624.2 210.0L624.4 208.4L624.8 207.0L627.6 206.3L626.6 204.9L625.2 204.8L622.8 203.8L621.2 205.7L619.2 204.9L618.6 203.7L616.6 203.3L614.7 201.5L615.2 200.4L617.2 200.2L617.8 198.5L619.3 196.7L620.6 195.8L622.5 197.2L621.6 198.9L622.6 199.9L622.0 201.1L624.0 200.4L625.0 199.2L627.6 198.5L628.9 199.2L630.3 199.4L630.7 199.9L630.8 201.3L631.2 201.7L630.8 203.2L632.3 203.8L633.2 203.6L634.4 204.1L637.0 206.4L635.6 206.8L637.7 209.5L638.2 211.5L639.0 212.9L640.9 212.7L642.2 211.6L643.9 211.1L644.1 209.7L642.7 206.7L641.4 205.0L638.0 201.9L636.2 200.7L635.2 200.3L635.3 200.0L634.7 198.9L635.3 198.2L636.5 197.8L637.0 196.6L637.8 196.0L636.7 194.1L636.8 193.2L637.2 192.4L638.1 192.5L637.9 191.7L639.5 189.8L641.6 191.0L642.9 191.0L645.4 189.6L645.2 187.9L646.0 185.0L646.8 182.0L646.3 180.2L646.7 176.5L644.5 172.5L642.3 169.5L641.7 167.0L639.8 164.8L634.6 162.1L632.3 161.9L632.1 163.2L629.8 162.6L627.5 161.1L624.1 160.8L625.2 157.9L626.2 155.0L627.3 153.2L627.6 150.2L630.3 149.9L633.0 149.5L636.0 149.7L639.1 149.9L640.1 148.7L643.4 149.1L645.2 150.9L647.8 150.6L649.5 150.3L651.2 150.0L648.1 148.5L648.1 146.5L648.1 144.5L650.0 144.1L651.8 143.7L656.8 146.6L657.6 145.3L658.3 144.0L656.9 142.1L658.9 141.9L661.6 145.2L660.6 147.1L660.3 149.6L660.3 152.6L658.0 153.2L659.2 154.3L659.1 155.7L661.8 159.2L665.1 161.9L668.3 164.7L672.6 168.3L675.0 170.0L675.6 167.7L673.8 165.2L676.1 164.6L673.9 161.7L676.0 160.4L674.0 159.4L672.7 157.3L674.4 157.2L670.6 153.7L667.9 153.1L666.7 152.2L666.2 149.8L665.0 148.2L667.8 148.6L670.3 148.4L668.4 147.5L670.6 147.1L672.8 146.6L677.5 148.2L676.8 147.1L677.6 145.7L678.3 144.0L679.5 143.7L680.9 142.8L682.2 142.0L686.3 142.5L685.8 141.8L684.3 140.9L682.6 140.2L678.8 138.3L675.5 137.1L678.5 137.7L678.9 136.3L672.2 131.7L665.4 127.3L661.5 126.3L658.3 125.8L655.0 125.2L653.4 125.3L651.8 125.4L648.6 125.1L645.5 124.8L646.3 125.7L649.8 127.1L648.8 127.8L642.9 125.9L640.1 126.1L636.3 125.7L633.5 125.8L631.9 126.2L628.9 125.6L626.8 124.0L624.1 123.1L620.3 122.7L618.3 122.9L616.3 123.0L614.3 123.1L610.9 122.3L607.6 121.5L604.4 120.2L601.1 120.0L597.8 119.7L594.5 119.4L591.2 119.1L587.9 118.9L587.1 119.8L590.9 121.7L587.8 121.4L587.4 122.0L583.4 121.4L581.4 122.0L577.5 121.0L578.8 123.3L575.2 122.4L571.0 120.7L570.9 119.8L568.4 118.5L564.4 117.3L561.9 117.4L560.0 117.2L558.0 117.0L560.0 118.6L557.6 118.5L555.3 118.4L552.9 118.3L551.3 117.3L548.6 117.1L545.8 117.0L543.7 117.3L543.6 117.8L541.2 116.5L540.3 116.9L537.3 116.4L535.1 116.1L535.5 115.5L536.9 114.9L538.3 114.3L539.2 113.7L538.2 112.7L536.0 111.9L533.6 111.5L531.2 111.0L529.0 111.0L526.8 110.9L526.0 111.4L524.3 110.4L522.4 110.3L520.5 110.1L521.9 109.7L518.5 109.0L517.3 109.4L516.0 109.8L515.7 110.7L516.3 111.5L513.4 111.5L512.4 112.0L511.2 112.5L509.5 112.1L507.6 112.2L505.7 112.3L505.8 112.9L503.9 113.0L502.0 113.1L500.0 114.1L498.3 114.2L497.7 115.5L500.0 116.6L498.4 116.7L496.8 116.8L494.9 116.8L493.0 116.8L490.5 117.2L492.5 119.4L495.4 121.2L491.4 120.0L489.8 120.0L488.2 120.1L486.1 120.9L487.9 122.5L485.9 122.1L485.1 120.0L483.4 118.9L482.6 118.9L484.1 120.4L482.2 121.8L485.5 123.6L485.7 125.8L486.9 127.0L488.9 127.2L489.0 128.6L490.8 129.9L490.0 131.0L490.2 132.1L488.7 132.7L488.5 133.5L486.3 133.2L487.8 130.0L487.5 128.5L484.8 127.1L483.2 124.1L481.7 122.6L480.2 121.9L480.5 120.2L479.3 119.0L477.0 118.7L474.7 118.5L473.8 118.9L474.1 120.8L472.3 122.7L472.8 123.4L474.7 125.1L474.8 126.2L476.9 126.4L477.3 126.9L479.7 128.0L479.2 129.2L475.4 127.9L471.7 126.7L468.9 126.0L466.3 125.6L463.7 125.3L463.2 126.0L465.6 127.3L464.5 128.8L461.9 127.4L459.8 128.3L456.7 128.4L455.8 129.2L453.6 128.9L454.7 127.6L453.4 127.5L450.8 128.4L448.3 129.4L446.8 129.9L445.2 130.5L445.3 131.9L442.9 132.4L441.2 131.6L440.7 130.3L442.8 130.1L441.3 128.8L438.8 128.5L436.3 128.1L438.1 129.5L437.8 130.8L439.7 132.2L439.2 133.7L437.3 132.9L435.7 132.8L434.0 133.9L432.4 135.0L434.1 136.7L432.8 137.3L430.5 136.6L428.1 135.9L427.3 136.7L428.6 137.7L428.7 138.8L427.2 138.2L424.7 137.5L423.5 134.1L420.2 132.5L421.4 132.2L424.1 132.7L426.9 133.3L429.6 133.9L432.3 133.3L433.8 132.1L433.2 130.6L431.5 129.5L427.9 128.3L424.3 127.0L421.9 126.8L419.5 126.5L416.4 125.2L414.9 125.9L412.7 124.6L414.6 124.0L411.8 123.2L409.1 122.4L406.2 122.6L403.2 122.7L400.8 123.6L398.4 124.4L396.6 124.9L394.9 125.4L392.8 126.7L390.7 128.1L388.1 129.8L386.3 132.0L384.5 134.2L381.6 137.4L378.2 139.8L375.9 140.8L373.6 141.7L372.0 143.2L372.4 146.0L372.8 148.7L373.6 151.3L376.2 152.6L378.7 152.0L382.2 149.2L383.6 150.7L384.5 152.5L385.3 154.1L387.1 156.9L387.9 159.2L390.1 159.1L391.0 157.1L393.3 157.4L394.2 155.1L394.4 151.0L396.3 150.5L397.6 147.7L395.7 146.4L394.2 144.7L395.0 141.4L398.2 139.4L400.7 137.5L400.2 136.1L401.6 134.5L404.5 133.9L407.1 135.0L407.5 135.9L406.4 136.4L404.7 137.7L402.9 138.9L401.5 140.4L400.9 141.7L402.1 143.9L402.0 146.2L404.0 147.0L405.2 148.3L408.2 147.6L411.2 146.9L414.5 146.7L416.7 147.9L414.9 149.2L413.0 149.2L410.9 148.9L408.6 149.2L406.6 150.3L406.6 151.3L408.1 152.1L408.7 151.8L408.8 153.3L408.7 155.1L407.2 155.2L405.4 153.4L403.8 154.2L403.1 155.7L403.3 157.6L403.9 159.6L401.4 160.4L401.1 161.5L399.0 160.9L397.0 160.5L394.7 161.3L391.8 162.4L390.5 163.2L389.5 162.4L387.2 161.4L386.2 162.1L384.3 162.5L384.2 161.7L382.2 161.1L382.1 160.1L381.5 158.9L382.8 157.2L383.8 156.5L382.9 153.4L381.5 154.1L379.2 154.9L378.7 155.6L378.4 156.3L378.6 158.8L379.5 160.2L379.6 161.6L380.1 162.5L378.8 163.7L378.5 163.2L376.8 163.3L376.5 163.9L374.8 163.8L372.2 164.8L370.6 168.5L369.6 169.2L368.0 169.7L366.3 170.2L365.7 172.3L363.4 173.3L361.0 174.2L359.1 173.2L359.7 176.0L356.3 175.4L353.7 175.9L353.9 177.8L357.0 178.8L358.4 180.1L360.6 182.8L360.1 187.9L359.0 189.4L355.6 189.3L353.9 189.5L351.7 189.0L348.9 189.0L346.4 188.6L343.3 190.4L344.3 192.8L344.4 196.3L343.7 198.9L342.6 201.5L343.1 202.5L344.0 202.8L344.2 204.4L343.8 206.4L346.0 206.5L346.9 205.8L348.9 206.2L349.5 207.7L350.3 208.6L351.3 208.8L352.2 207.9L353.6 206.9L356.0 206.9L358.4 206.9L359.9 204.9L361.5 204.4L362.0 202.7L363.2 201.5L362.4 200.1L364.7 195.7L367.4 195.1L369.4 193.4L369.5 190.3L372.5 189.5L376.7 190.2L378.5 188.7L381.5 187.0L384.2 188.1L386.3 192.2L388.5 193.9L390.3 195.0L391.8 195.2L392.8 196.2L395.8 198.1L396.5 199.5L397.5 201.0L396.7 203.7L397.6 203.5L398.6 201.3L399.5 201.1L399.6 199.8L398.0 198.8L398.8 197.1L400.7 197.5L402.0 198.8L402.3 197.8L402.0 197.3L400.1 196.0L398.5 195.2L396.5 194.3L397.1 193.8L394.9 193.2L392.4 191.1L391.2 189.0L389.2 187.7L388.4 186.4L388.6 184.4L390.1 183.5L391.7 183.8L391.3 184.1L391.2 185.0L391.9 185.9L392.5 184.8L393.8 185.1L394.5 187.3L396.4 189.2L399.7 190.9L401.7 191.8L403.4 193.2L403.8 193.4L404.2 193.8L404.0 194.6L404.0 196.4L404.3 197.6L405.6 199.1L406.0 199.3L407.4 201.5L408.3 202.7L408.8 204.4L409.8 206.5L411.7 207.6L412.1 205.3L413.1 207.6L412.7 203.7L414.7 204.4L414.6 202.9L412.1 201.0L412.9 200.4L411.7 199.2L411.1 197.6L411.4 197.0L412.7 198.4L413.9 198.4L414.9 197.9L413.3 196.5L415.8 195.8L418.2 196.1L419.1 197.9L420.7 196.5L424.0 195.8L424.6 195.4L422.3 194.1L421.9 193.1L421.1 191.6L421.6 189.8L422.6 188.7L422.7 185.6L424.3 185.2L424.2 184.6L425.5 182.7L426.0 181.3L427.9 181.0L429.8 182.0L431.5 182.6L430.1 184.5L432.4 185.3L432.2 186.5L433.4 187.0L436.0 185.5L438.1 185.1L438.4 184.1L436.3 184.3L435.2 183.7L434.8 182.1L436.4 181.1L438.3 181.0L439.5 180.2L441.1 180.0L443.0 180.1L440.2 181.1L441.5 182.2L440.2 184.3L438.8 184.7L440.9 186.2L443.4 187.2L446.5 189.4L450.0 191.4L450.8 193.2L450.7 194.3L448.5 195.7L446.6 195.4L444.2 195.8L441.0 194.8L437.0 193.0L433.6 193.0L431.2 193.8L428.9 195.4L424.8 195.1L424.6 195.7L424.2 197.1L420.9 197.2L418.8 199.7L420.3 200.9L419.5 202.9L421.2 204.4L422.8 207.0L425.1 206.9L427.3 208.3L428.8 208.0L429.2 206.9L431.5 207.0L433.4 208.4L436.7 208.1L438.0 206.6L439.9 207.2L441.2 207.0L441.4 209.2L441.0 210.2L441.5 212.2L440.6 214.1L440.1 216.3L439.8 217.0L439.5 219.0L439.1 220.2L438.7 221.2L437.6 221.8L435.9 221.7L434.3 221.0ZM127.9 125.8L129.6 126.3L131.3 126.7L133.0 127.2L135.2 126.7L137.4 126.3L140.0 125.9L142.7 125.6L145.4 125.2L148.2 124.9L151.1 124.5L152.7 125.3L154.3 126.1L156.8 125.8L159.3 125.6L161.7 125.4L163.7 125.9L165.7 126.4L167.7 126.9L169.7 127.4L169.8 128.9L171.9 129.2L173.9 129.4L176.0 129.6L177.2 130.2L178.3 130.7L180.8 128.0L183.2 128.2L185.7 128.3L187.4 128.9L189.1 129.5L190.9 130.1L193.5 129.9L196.2 129.8L197.5 128.3L199.0 128.5L200.5 128.7L198.2 131.0L201.0 129.2L202.7 126.1L205.5 123.9L209.8 120.9L211.2 122.4L210.7 124.5L210.6 125.6L210.2 128.3L211.5 129.3L212.9 130.3L215.9 129.6L219.1 127.6L220.8 125.4L223.7 125.4L226.6 125.4L226.8 126.7L225.9 128.0L223.5 130.3L223.0 131.6L220.8 132.4L218.5 133.2L216.9 133.0L215.4 132.8L213.7 133.9L210.2 136.4L207.3 138.0L205.1 138.7L202.8 139.4L200.4 140.4L197.9 141.3L193.5 143.6L189.5 146.7L186.6 150.6L189.6 150.8L188.0 154.7L189.9 154.7L191.8 154.7L193.6 155.5L195.5 156.4L197.5 157.9L199.5 159.4L202.0 159.5L204.6 159.6L203.2 162.3L201.9 165.1L202.3 167.1L204.2 169.3L206.4 168.8L208.1 166.1L209.7 162.1L208.9 160.8L212.0 159.6L215.0 158.4L217.2 156.4L218.2 154.5L217.8 152.7L216.6 150.8L219.9 148.2L220.6 146.0L222.3 142.5L223.5 142.0L225.2 142.2L226.8 142.5L230.0 142.2L232.2 144.1L232.5 145.3L235.5 145.5L234.9 147.5L234.0 150.3L235.4 150.8L236.2 152.3L239.5 150.8L242.6 148.2L244.2 147.2L244.7 149.4L246.4 153.0L246.5 155.4L245.1 156.9L247.1 158.1L249.2 159.2L251.3 160.3L252.1 161.1L252.2 163.1L253.4 163.6L252.9 167.3L249.7 169.1L246.1 169.8L242.9 172.1L239.4 172.3L237.3 172.1L235.2 171.8L232.2 171.8L230.1 172.1L227.8 173.9L224.9 174.9L220.6 178.4L217.5 180.7L219.3 180.2L223.9 176.9L226.3 175.9L228.7 174.9L231.8 174.6L233.2 175.9L230.8 177.4L230.5 180.2L230.5 182.3L232.8 183.6L236.4 183.0L239.3 180.2L239.9 183.0L237.0 184.6L234.4 185.4L231.8 186.1L229.6 187.1L226.4 189.2L225.1 189.0L225.6 186.6L230.0 184.6L226.7 184.6L224.2 185.1L224.2 185.9L221.8 186.9L219.3 187.9L216.8 188.7L215.2 190.2L214.2 192.3L214.4 193.6L215.4 193.9L212.9 194.4L211.0 194.9L206.9 195.9L210.1 195.7L206.0 196.7L205.3 199.1L202.7 201.1L201.9 199.6L202.2 201.4L201.6 203.5L199.3 205.6L199.4 202.2L198.2 205.6L198.9 207.1L198.6 209.7L196.5 211.8L194.2 212.6L192.5 214.2L189.6 216.0L186.5 217.8L183.6 220.7L182.7 222.5L182.8 224.4L183.7 228.3L183.8 232.5L183.4 235.4L182.4 236.9L180.6 236.9L179.8 235.1L179.1 233.0L178.3 230.9L178.7 226.7L177.4 224.6L176.6 224.1L174.1 225.4L172.9 223.9L171.7 223.3L169.2 223.6L167.3 223.3L164.5 223.9L164.3 226.7L162.5 226.7L159.7 225.2L156.3 224.9L152.7 225.7L150.2 227.8L146.3 230.1L145.0 233.0L145.3 235.1L143.9 237.4L142.9 240.8L141.9 244.2L142.8 248.9L144.1 250.8L145.0 253.7L147.5 254.2L148.2 255.5L152.0 254.4L155.3 253.4L156.8 252.3L158.0 248.7L158.5 247.9L162.8 246.6L166.0 246.6L166.6 247.1L166.4 248.4L164.9 249.7L164.2 251.6L163.3 255.0L162.2 254.4L161.9 256.8L161.9 258.4L160.0 261.2L161.6 261.8L162.3 261.2L164.6 261.5L166.7 261.0L168.9 261.2L170.3 261.5L171.5 262.5L172.8 263.6L171.9 266.2L171.4 268.6L171.5 270.4L170.9 272.5L170.8 274.3L171.4 275.6L173.1 277.7L173.9 279.3L175.7 279.8L176.9 279.5L179.2 278.5L180.0 277.7L181.3 278.0L182.5 278.2L184.9 280.1L186.3 280.3L188.0 278.5L188.9 278.2L189.5 275.1L191.0 273.8L192.4 273.8L194.5 273.5L197.3 271.7L198.3 270.4L199.3 270.4L199.9 271.2L198.0 272.7L198.6 274.0L198.5 275.6L197.5 276.7L199.0 279.0L199.6 276.9L198.9 276.1L199.0 274.0L201.8 273.0L202.7 270.9L203.2 272.7L204.8 273.0L206.4 274.3L206.3 275.1L208.4 275.4L210.9 275.1L212.0 276.1L213.8 276.4L215.2 275.6L218.0 274.8L220.8 274.8L218.9 275.6L219.6 276.9L221.4 276.9L223.2 278.2L223.3 280.3L225.4 280.8L226.9 281.9L228.3 283.7L228.2 285.0L230.5 286.3L231.4 287.1L234.1 287.6L236.2 287.1L238.5 287.6L239.4 288.2L241.0 288.7L243.5 290.8L243.7 291.8L244.7 291.8L245.1 293.4L246.4 297.8L247.6 298.4L247.8 300.2L245.9 302.3L246.6 303.1L250.8 303.3L250.8 305.9L252.6 304.4L255.4 305.2L259.3 307.0L260.5 308.3L260.1 309.9L262.8 309.1L267.2 310.4L270.7 310.4L274.2 312.5L277.2 315.3L278.8 316.1L280.9 316.1L281.8 317.2L282.6 320.3L283.1 321.9L282.3 326.3L281.1 327.9L278.0 331.6L276.5 334.7L275.0 336.8L274.3 337.0L273.7 338.9L273.8 341.8L273.6 344.8L273.4 347.8L272.9 350.6L272.7 354.0L270.6 357.4L270.5 360.1L268.6 361.4L268.2 362.9L265.8 362.9L262.4 364.0L260.7 365.0L258.3 365.8L256.0 367.9L254.3 370.5L254.2 372.3L254.6 373.9L254.5 376.5L254.2 377.8L252.8 379.1L251.0 383.8L249.3 385.9L247.9 387.0L247.5 389.6L246.2 391.2L245.6 392.7L243.5 394.3L241.6 393.8L240.6 394.0L238.4 392.7L236.9 393.0L235.3 391.4L235.3 392.7L238.6 395.1L238.6 396.9L240.3 398.0L240.3 399.3L239.1 402.6L236.2 403.9L234.1 404.2L232.0 404.5L229.6 404.2L230.4 405.8L230.5 407.8L231.3 409.1L230.2 409.9L228.1 410.4L225.9 409.4L225.2 410.2L226.2 412.8L227.9 413.5L228.6 412.5L229.7 414.1L228.1 414.8L226.9 416.4L227.5 419.0L227.2 420.2L225.4 420.2L224.2 421.8L224.2 423.6L226.8 425.4L229.1 425.9L229.0 428.2L227.1 429.7L227.0 432.8L225.6 433.8L225.2 434.8L226.9 437.5L228.8 438.8L227.8 438.8L225.8 438.3L224.1 440.3L224.7 442.5L221.3 441.8L218.3 440.0L215.4 438.8L213.8 437.0L213.8 435.5L212.1 434.0L210.1 429.7L209.9 427.2L211.4 425.1L208.1 424.4L209.1 422.3L208.2 417.9L211.1 419.0L210.6 416.3L210.2 413.5L208.5 412.8L209.0 416.1L207.6 415.6L207.0 412.0L206.1 407.1L206.7 405.5L205.3 402.9L204.3 400.0L205.1 399.8L205.3 395.6L205.8 391.4L206.0 387.5L204.5 383.6L204.8 381.5L204.0 378.4L204.7 375.0L204.4 370.0L204.4 367.2L204.3 364.5L204.4 361.6L204.4 358.7L203.7 354.6L202.9 350.6L200.4 349.3L200.1 348.3L195.5 345.7L191.1 342.8L189.2 341.0L188.1 338.9L188.2 338.1L186.1 334.7L183.5 330.0L182.3 327.4L181.2 324.8L180.2 323.5L179.2 321.6L177.5 319.8L175.9 318.7L176.5 317.7L175.3 315.1L175.9 313.3L177.7 311.7L178.8 309.9L178.3 308.6L177.4 309.9L176.0 308.6L176.5 308.0L176.2 305.7L176.9 305.2L177.3 303.6L178.3 301.8L178.0 300.7L179.4 300.2L180.8 299.1L181.3 296.8L182.0 296.0L183.2 295.7L185.1 292.9L184.2 292.1L184.7 290.5L184.3 288.2L184.8 287.6L184.4 285.3L183.6 284.0L182.9 283.2L182.5 281.6L183.0 281.1L182.1 280.1L181.0 279.3L179.9 279.5L179.4 280.3L178.4 281.1L177.7 281.6L178.8 283.2L178.1 283.5L176.7 284.0L176.3 282.4L175.3 282.7L174.9 281.6L173.3 281.1L172.2 281.6L171.9 281.4L170.8 280.8L170.4 280.1L170.7 279.0L169.1 278.0L168.3 276.9L167.6 276.4L167.8 277.2L166.9 277.2L165.8 276.4L165.8 275.6L166.2 273.8L164.5 272.0L164.1 271.2L163.0 270.1L162.0 269.1L162.9 268.8L162.5 268.0L161.9 267.8L161.6 268.6L160.2 268.3L158.5 267.5L157.3 267.5L156.7 267.0L154.2 266.5L153.1 265.9L152.1 264.9L149.6 262.0L148.6 261.2L146.9 260.4L145.5 260.7L143.5 261.5L142.4 261.8L140.8 261.2L139.3 260.7L137.4 259.4L135.6 259.1L133.3 257.8L131.4 256.8L131.0 256.0L129.7 255.7L127.6 255.0L126.8 253.9L124.6 252.3L123.7 250.8L123.4 249.5L124.1 249.2L124.0 248.4L124.6 247.6L124.7 246.9L124.3 245.5L124.2 244.5L123.8 243.2L122.2 240.6L120.3 238.8L119.5 236.9L117.8 235.9L117.8 234.8L118.2 233.8L117.3 233.0L116.3 231.7L116.3 229.9L114.9 229.9L114.0 228.3L113.5 227.0L113.5 226.2L112.9 224.4L112.7 222.3L113.3 221.2L111.8 220.2L111.1 220.5L110.0 219.7L109.5 220.7L109.2 222.0L108.9 223.9L109.4 224.9L110.5 226.7L110.7 227.5L111.1 228.6L111.3 230.1L111.8 230.9L112.2 231.7L113.3 233.0L113.3 235.6L113.8 236.7L114.2 238.0L113.9 239.3L115.0 239.3L115.7 240.6L116.4 241.6L116.3 242.2L114.9 243.2L114.3 241.6L113.3 240.1L111.7 238.8L110.7 238.2L111.4 236.1L111.3 234.8L110.3 234.0L109.1 232.7L108.5 232.5L107.0 232.0L106.1 230.4L107.2 230.4L108.4 229.3L108.8 228.0L107.7 226.2L106.6 225.4L106.2 223.9L105.8 222.3L105.7 220.2L105.6 217.8L105.6 216.5L104.9 215.0L103.9 214.7L104.0 213.9L102.8 213.7L102.3 213.1L100.3 212.9L100.0 212.3L100.5 210.8L99.4 208.2L99.3 204.5L99.5 204.0L98.8 203.2L98.3 201.1L99.0 198.8L98.7 197.5L100.2 195.4L101.5 193.1L102.0 191.0L104.2 188.7L107.3 184.1L109.1 180.5L109.8 178.4L110.0 177.2L110.5 176.7L112.9 177.7L112.5 180.0L113.6 179.2L114.5 177.2L115.2 175.1L115.3 174.4L112.7 172.6L112.0 171.6L109.1 170.6L109.6 168.3L111.0 166.8L109.6 165.6L110.8 163.6L109.9 161.8L110.9 160.6L110.6 159.6L109.5 158.9L110.9 156.7L110.4 154.7L111.3 152.5L109.8 152.3L106.8 152.3L105.3 151.5L104.5 150.3L103.8 149.1L102.0 148.4L100.3 147.7L97.6 147.9L96.4 147.3L95.2 146.7L94.0 145.8L91.5 146.3L90.0 148.0L88.7 148.2L86.1 148.6L83.7 149.4L81.1 149.8L82.1 148.6L85.6 146.3L88.4 145.5L88.7 144.8L84.7 146.3L81.8 147.7L77.4 149.4L77.4 150.6L73.6 152.5L70.5 153.5L67.8 154.2L66.2 155.2L62.0 156.4L60.1 157.6L56.8 158.6L55.5 158.6L53.2 159.1L50.2 160.1L47.7 160.8L43.6 161.6L44.0 161.1L47.2 160.1L49.7 159.4L53.4 157.9L55.9 157.6L57.9 156.7L62.2 155.2L63.1 154.7L65.7 153.7L67.7 152.0L70.5 150.6L67.4 151.3L67.4 150.8L65.2 151.8L65.4 150.6L64.1 151.3L64.7 150.1L61.7 151.1L60.6 151.1L62.1 149.6L63.3 148.9L63.3 147.9L60.4 148.4L60.1 147.2L59.6 146.7L61.2 145.3L61.1 144.4L63.6 142.9L66.5 141.8L68.5 140.6L70.2 140.4L71.2 140.6L73.8 139.7L75.2 139.7L77.4 139.0L78.2 138.0L77.9 137.6L80.3 136.6L79.2 136.6L76.7 137.1L75.3 137.8L75.0 137.1L71.8 137.6L70.2 136.9L70.7 136.0L70.3 134.6L73.9 133.7L76.6 133.1L79.3 132.5L80.7 132.5L79.0 133.7L80.8 133.7L82.6 133.7L83.0 132.3L82.2 131.4L82.5 130.3L82.1 129.4L81.0 128.5L83.6 127.4L86.6 127.4L90.2 126.3L92.4 125.2L95.3 124.3L97.3 124.1L102.0 123.0L103.2 123.2L107.5 121.9L109.0 122.6L109.1 123.5L110.4 123.0L112.9 123.2L112.1 123.7L114.1 124.1L116.1 123.9L117.4 124.2L118.7 124.5L121.5 124.8L122.5 125.0L125.3 124.5L126.9 125.2ZM281.8 148.2L280.0 147.0L278.3 145.9L276.5 145.8L274.7 145.8L273.5 144.6L273.1 142.2L271.1 139.4L270.9 137.8L271.4 135.7L269.9 133.7L271.3 132.1L270.5 131.2L273.4 128.5L276.2 127.8L277.3 126.9L278.4 125.2L276.3 125.8L273.5 126.5L271.8 125.8L272.5 124.3L273.6 123.2L275.2 123.2L276.8 123.5L278.3 123.7L276.2 122.4L275.0 121.7L272.3 121.4L275.1 119.4L274.6 118.6L274.1 117.2L273.5 115.0L272.0 114.2L272.6 113.4L270.9 112.8L269.3 112.2L267.7 112.1L266.2 112.0L264.1 112.1L261.9 112.2L260.1 112.2L258.2 112.3L256.9 111.6L255.4 110.4L257.6 110.1L259.8 109.8L261.4 109.7L263.0 109.6L261.0 109.5L259.0 109.3L257.0 109.2L255.7 108.8L254.4 108.4L255.2 107.7L258.4 107.2L261.6 106.7L264.7 106.3L267.8 105.8L268.9 105.2L267.3 104.9L265.6 104.6L267.4 103.9L270.4 103.3L273.4 102.7L275.7 102.5L275.7 101.8L277.5 101.6L279.3 101.3L281.6 101.2L283.9 101.1L286.0 101.1L288.2 101.1L289.3 101.6L291.4 101.1L293.5 100.8L295.0 101.0L296.4 101.3L298.3 101.4L299.6 101.7L300.9 101.9L299.5 101.5L298.1 101.1L298.7 100.4L301.3 100.0L304.0 99.5L306.3 99.5L308.7 99.5L310.7 99.1L313.2 99.0L315.6 98.9L317.7 98.9L319.9 98.9L322.0 99.0L324.2 99.0L326.3 99.1L328.3 99.4L330.4 99.7L332.4 100.0L334.5 100.3L331.7 100.9L329.0 100.9L326.4 100.9L323.9 101.0L321.4 101.0L318.9 101.1L319.4 101.4L321.9 101.3L324.3 101.2L326.4 101.5L328.5 101.7L331.3 101.2L332.2 101.9L330.3 102.8L332.3 102.5L334.2 102.2L336.5 102.0L338.8 101.8L341.0 101.6L343.1 101.7L345.1 101.9L345.9 102.5L343.9 102.9L341.9 103.3L339.8 103.7L339.0 104.1L336.6 104.3L334.3 104.4L336.0 104.5L337.6 104.6L335.6 105.8L334.1 107.0L333.6 109.2L335.1 110.4L332.7 110.6L330.1 111.2L332.7 112.2L332.6 113.9L330.9 114.1L332.5 115.8L330.8 115.9L329.0 116.0L330.7 116.9L330.0 117.5L327.7 117.9L325.4 117.9L327.2 119.4L327.0 120.2L325.5 119.8L324.0 119.4L323.0 120.0L325.2 120.5L327.0 121.7L327.2 123.5L324.2 123.9L323.1 123.1L321.4 121.9L321.6 123.3L319.3 124.5L321.5 124.5L323.8 124.5L326.0 124.7L323.5 125.6L321.1 126.6L318.6 127.4L316.1 128.3L313.5 128.7L310.9 129.2L309.1 129.2L307.1 130.1L304.1 132.3L302.0 133.1L299.9 133.9L298.6 134.1L296.1 134.6L293.5 135.1L291.4 136.6L291.0 138.2L289.6 139.7L286.1 141.5L286.2 143.4L284.7 145.4L283.0 147.7ZM245.1 143.9L242.8 142.9L241.2 142.6L239.6 142.2L238.0 141.8L236.5 141.3L234.2 139.9L232.6 138.7L230.9 137.6L228.9 137.7L226.9 137.8L224.7 137.1L226.8 135.5L229.8 135.4L232.9 135.3L235.1 133.2L238.6 131.0L238.6 129.2L236.2 128.3L233.7 127.4L235.2 126.9L234.0 126.2L232.9 125.4L230.9 125.2L227.6 125.6L224.8 125.3L222.1 125.0L220.5 124.7L219.0 124.3L216.5 124.1L215.9 123.2L216.0 122.4L217.3 120.2L220.3 118.3L222.7 117.5L225.0 117.2L227.3 116.9L225.0 118.1L225.0 119.6L227.9 117.9L230.3 117.4L232.8 117.0L233.7 119.2L232.5 120.4L236.1 119.8L238.3 119.1L239.6 119.6L240.9 120.2L242.6 121.1L242.0 122.2L245.5 121.5L246.1 123.0L247.8 123.5L249.5 123.9L250.5 124.8L250.8 126.7L247.1 127.8L248.7 128.5L250.4 129.2L252.5 129.8L254.0 131.9L256.7 131.9L255.3 133.4L250.9 136.2L249.3 135.3L247.7 133.0L245.3 133.2L244.4 134.6L245.4 136.0L247.3 137.1L247.7 137.6L247.6 139.9L246.2 141.5L244.1 141.1L242.4 140.1L240.7 139.2L242.2 141.1L243.6 142.5ZM196.2 125.0L191.9 126.9L189.5 126.8L187.1 126.7L184.1 127.3L181.0 127.8L178.1 128.0L175.1 128.1L172.2 128.3L170.4 127.5L168.7 126.7L168.3 125.0L170.6 124.6L172.9 124.3L175.0 124.2L177.2 124.1L174.5 123.7L172.7 123.8L170.8 123.9L168.5 123.9L173.4 122.2L170.8 122.2L168.7 121.5L171.7 120.0L173.8 119.2L176.7 118.5L179.6 117.9L180.7 118.3L178.9 119.3L181.1 118.9L183.4 118.5L184.3 119.7L187.4 118.5L187.9 119.4L187.1 121.4L188.8 120.5L190.0 118.3L191.7 118.1L193.0 118.3L193.9 119.2L192.7 121.3L191.7 122.8L193.4 123.9L195.4 125.0ZM160.9 123.0L161.1 122.2L160.0 121.5L158.9 120.9L160.6 120.0L163.6 118.5L166.8 117.1L166.9 115.8L169.7 115.7L172.5 115.6L174.2 116.0L176.1 116.0L178.1 116.0L178.9 116.7L179.6 117.5L176.8 118.1L174.1 118.9L171.3 119.6L167.4 121.1L166.4 121.9L163.7 122.5ZM197.8 112.0L197.5 112.7L199.3 112.4L200.7 112.4L199.9 113.4L197.7 114.4L194.9 114.6L192.1 114.7L189.6 115.2L187.1 115.6L184.7 115.6L185.2 115.0L187.4 114.5L189.7 114.0L187.2 114.1L184.7 114.3L182.2 114.4L180.6 114.0L185.4 112.0L187.6 111.4L189.2 111.8L190.8 112.2L192.0 113.4L194.6 113.4L194.8 111.6L197.3 110.8L198.7 111.0ZM204.3 116.9L205.7 117.3L208.9 116.9L208.9 117.5L206.2 118.6L208.0 119.4L205.8 121.4L202.3 122.2L201.0 121.9L200.5 121.3L199.3 120.4L198.1 119.6L198.8 119.0L200.3 119.1L201.9 119.2L201.7 117.7ZM213.6 119.0L210.4 120.6L208.7 120.5L209.4 118.7L210.4 117.7L212.2 116.7L214.2 116.2L215.9 116.2L217.5 116.2L220.1 116.7L215.9 118.6ZM202.7 126.9L200.9 127.6L199.2 127.0L197.7 127.3L196.2 126.3L198.3 125.6L200.2 124.8L201.5 125.2L202.1 125.6L202.2 126.1ZM214.6 134.6L214.2 135.7L215.4 135.3L216.0 136.0L217.4 136.6L219.0 137.5L218.4 138.5L219.9 138.4L220.6 139.2L218.5 139.9L216.2 139.3L215.8 138.3L213.3 139.5L210.0 140.7L210.1 139.4L207.6 139.7L210.0 138.4L211.5 136.6L213.4 134.6ZM217.6 110.1L219.0 110.1L220.5 110.2L221.4 110.8L223.0 110.8L224.5 110.8L225.1 111.5L223.8 112.2L225.2 112.7L225.6 113.2L227.7 113.2L229.7 113.4L232.5 113.0L234.2 112.9L235.9 112.8L238.2 113.0L239.1 113.8L238.8 114.6L237.2 115.1L234.6 115.6L232.8 115.3L230.4 115.5L228.0 115.6L226.4 115.6L224.8 115.6L222.5 115.4L220.7 115.1L218.9 114.8L219.6 113.6L220.5 112.6L219.9 111.8L218.4 111.7L216.9 111.6L216.0 110.9ZM259.2 99.6L261.8 99.6L264.4 99.6L267.0 99.6L269.7 99.7L271.4 99.7L273.2 99.8L274.6 99.9L275.9 100.0L278.0 100.4L277.6 100.8L275.6 101.2L273.6 101.6L271.8 101.7L269.9 101.9L268.3 102.2L269.8 102.2L271.3 102.2L269.2 102.7L267.2 103.2L264.3 103.7L260.5 105.1L258.9 105.3L257.3 105.5L255.9 105.8L253.7 105.9L251.4 106.0L253.2 106.2L251.9 106.5L252.1 107.5L250.2 108.0L247.3 108.6L245.8 109.4L243.1 110.0L243.0 110.4L245.6 110.3L245.2 110.8L242.6 111.4L240.0 112.0L238.2 111.7L236.5 111.5L234.1 111.6L231.8 111.8L229.7 111.6L227.0 111.4L227.8 110.5L231.1 110.0L231.8 108.6L233.0 108.5L234.4 108.9L235.9 109.4L235.4 108.0L233.4 107.7L235.4 107.0L238.4 106.5L239.5 106.0L238.3 105.3L238.8 104.3L240.7 104.4L242.6 104.4L243.5 104.6L246.5 103.9L245.0 103.8L243.5 103.7L240.9 103.8L238.3 103.9L236.5 103.3L236.2 102.6L235.2 102.1L235.7 101.6L238.1 101.3L239.8 101.2L242.9 100.9L245.6 100.4L247.2 100.4L248.1 100.9L250.3 100.0L252.3 99.8L255.0 99.6L257.1 99.6ZM237.5 105.4L238.5 106.0L235.9 106.5L231.6 107.9L228.8 108.0L227.4 108.0L225.9 107.9L225.4 107.0L226.3 106.4L228.0 105.8L225.3 105.9L224.5 105.3L224.6 104.5L226.6 103.7L228.3 103.2L229.9 103.1L229.8 102.7L231.5 102.7L233.2 102.6L233.8 103.5L235.7 103.9L237.6 104.2ZM213.4 111.2L214.0 111.9L212.8 112.9L210.4 114.4L207.6 114.6L206.3 114.3L207.7 113.1L205.0 113.3L206.7 111.7L208.3 111.8L211.4 111.1ZM189.5 109.2L187.4 110.6L185.1 111.4L183.6 111.4L179.5 112.3L176.6 112.6L175.1 112.2L179.9 110.7L182.4 110.0L184.9 109.4L187.2 109.4ZM209.9 106.0L211.2 106.1L212.5 106.2L214.0 106.6L215.5 106.9L215.4 107.9L214.9 108.6L212.8 108.4L211.2 107.8L209.6 107.7L208.0 107.7L210.2 107.1L209.0 106.7ZM252.6 169.3L251.1 170.8L249.0 173.1L250.7 172.2L251.7 172.8L250.9 173.6L252.4 174.4L253.4 173.7L255.2 174.5L254.1 176.4L255.6 175.9L255.5 177.3L255.7 178.9L254.3 181.1L253.3 181.2L252.1 180.7L253.1 178.7L252.6 178.3L249.7 180.5L248.4 180.5L250.2 179.2L248.4 178.7L246.3 178.8L242.3 178.7L242.3 177.9L243.7 177.0L243.1 176.4L245.2 174.9L248.6 170.8L250.4 169.3ZM112.9 176.4L111.8 176.7L109.1 175.6L109.2 174.6L107.9 173.9L108.0 173.1L106.3 172.6L106.5 171.3L107.2 170.7L108.9 171.2L109.8 171.6L111.5 171.8L111.6 172.7L111.8 173.9L113.1 175.0ZM105.1 162.5L107.1 162.3L104.2 165.1L104.3 167.1L103.5 167.1L103.2 166.0L103.4 164.8L103.1 164.1L103.6 162.9L104.4 162.1ZM171.1 245.5L172.9 243.7L175.1 242.7L177.4 242.2L179.4 242.4L181.2 242.4L183.1 243.2L183.9 244.2L186.2 244.0L188.6 246.1L189.8 247.4L190.5 247.4L191.8 247.9L191.5 248.7L193.3 248.7L194.8 249.7L194.5 250.4L192.9 250.8L191.5 250.8L189.9 250.5L186.6 250.9L188.2 249.5L187.4 248.7L186.1 248.6L185.3 247.9L185.0 246.3L183.6 246.4L181.7 245.7L181.1 245.2L178.2 244.8L177.3 244.2L178.3 243.6L176.1 243.5L174.3 244.8L173.4 244.9L173.0 245.5L171.9 245.8ZM193.6 254.9L193.9 254.0L197.7 254.6L198.6 254.0L197.6 252.9L197.8 251.9L196.4 251.5L197.0 250.7L198.3 250.9L200.3 251.3L200.6 250.8L202.4 250.8L203.7 251.6L204.2 251.4L204.6 252.3L205.9 252.3L205.7 253.1L206.7 253.1L207.7 254.2L206.7 255.2L205.7 254.6L204.7 254.7L203.9 254.6L203.5 255.1L202.6 255.3L202.3 254.6L201.5 255.0L200.4 256.8L199.8 256.4L199.8 255.6L198.3 255.2L197.3 255.4L195.9 255.2L194.8 255.7L193.6 254.9ZM184.9 255.2L185.2 254.6L186.1 254.4L186.6 254.5L188.1 254.7L189.2 255.3L189.5 256.0L187.9 256.1L187.2 256.5L186.0 256.1L184.9 255.2ZM210.2 254.7L212.2 254.4L213.4 254.6L213.8 255.1L213.1 255.8L211.4 255.8L210.1 255.9L210.1 254.8ZM221.3 274.7L222.7 274.3L223.1 274.4L222.9 276.4L221.0 276.7L220.6 276.4L221.3 275.7ZM187.4 236.9L188.0 237.0L188.5 239.2L188.3 240.7L187.7 240.8L187.4 239.3L186.7 238.5ZM186.3 232.7L187.4 232.6L188.9 232.6L188.9 233.3L186.3 233.8ZM189.1 232.1L190.6 233.3L190.0 235.1L189.6 234.8L189.9 233.4L189.0 232.4ZM228.1 439.5L229.4 440.8L231.1 442.7L234.3 444.1L237.3 444.8L236.9 446.0L235.1 446.1L233.8 445.3L232.6 445.2L230.5 445.2L230.1 446.7L228.3 446.0L226.2 445.6L223.1 444.3L220.5 442.9L216.5 440.1L218.4 440.7L221.8 442.3L224.9 443.2L225.3 442.0L225.2 440.4L226.6 439.3ZM338.0 132.9L337.4 134.4L339.2 135.9L336.7 137.7L334.0 138.4L331.3 139.2L329.8 139.7L327.5 139.3L325.0 139.0L322.6 138.6L324.5 137.6L322.7 137.0L320.9 136.4L324.1 136.0L324.2 135.3L322.4 135.1L320.6 134.8L322.1 133.3L324.7 133.0L327.2 134.5L330.0 133.3L332.1 133.9L335.1 132.7ZM216.0 141.1L215.7 141.8L212.9 142.8L211.7 142.7L212.0 142.0L214.2 141.1ZM219.0 142.2L219.8 142.7L218.8 143.9L217.7 143.9L217.8 143.1ZM232.5 128.5L235.1 128.6L235.2 130.1L233.3 131.2L231.0 131.0L231.1 129.6ZM233.6 172.8L236.7 173.4L238.5 174.4L238.3 174.9L237.4 174.9L235.0 174.1L234.1 173.2ZM232.0 180.9L233.5 181.8L235.8 181.6L234.5 182.7L233.6 182.9L231.9 182.4L231.0 181.2ZM57.4 148.1L55.8 148.5L55.1 148.1L54.8 147.4L57.1 147.0L58.3 147.2ZM192.8 109.0L196.3 108.3L197.7 108.4L199.1 108.4L198.4 109.3L195.1 109.7L193.2 109.5ZM195.5 107.9L199.0 107.0L200.4 107.1L201.8 107.1L201.3 107.8L198.1 108.1L196.8 108.0ZM220.6 106.9L222.0 107.3L222.8 108.1L220.3 108.7L218.7 108.2L219.0 107.5ZM213.7 113.6L216.7 113.1L218.3 113.8L217.0 114.9L214.0 115.2L212.9 114.5ZM357.4 151.2L355.3 153.8L357.2 153.5L359.3 153.5L358.8 155.5L357.0 157.7L359.0 157.9L360.9 161.0L362.2 161.4L363.4 164.2L363.9 165.2L366.3 165.7L366.1 167.3L365.1 168.0L365.9 169.3L364.1 170.7L361.4 170.7L358.0 171.3L357.1 170.8L355.8 172.0L353.9 171.7L352.5 172.7L351.4 172.2L354.4 169.5L356.2 169.0L353.1 168.6L352.6 167.6L354.7 166.8L353.6 165.5L354.1 163.8L357.0 164.1L357.3 162.6L356.0 161.0L353.7 160.6L353.2 159.9L353.9 158.8L353.3 158.2L352.2 159.3L352.2 156.9L351.3 155.7L352.1 153.2L353.6 151.2L355.1 151.4ZM350.9 162.9L351.2 164.7L349.6 166.9L346.1 168.4L343.3 168.0L345.0 165.4L344.1 162.9L346.9 160.9L348.4 159.8L350.0 159.7L352.0 161.2ZM384.8 105.3L385.3 104.7L387.4 104.7L389.3 105.3L391.9 105.9L394.4 106.6L392.7 107.0L391.0 107.4L390.5 108.8L389.2 109.1L388.9 110.8L387.1 110.8L385.3 110.2L383.6 109.6L384.8 108.9L382.5 108.4L379.4 106.8L378.1 105.4L380.0 105.0L381.9 104.7L382.8 105.4ZM399.7 108.7L398.2 109.1L396.7 109.5L393.9 109.1L394.8 108.5L393.7 108.0L395.2 107.8L396.7 107.6L397.5 108.3ZM402.3 104.6L400.5 105.6L398.4 105.7L396.4 105.8L394.2 105.7L392.0 105.5L391.6 105.0L389.5 105.0L387.8 104.2L389.9 104.0L392.1 103.7L394.3 104.1L395.5 103.6L397.4 103.8L399.3 104.0ZM446.3 120.6L447.7 120.2L447.1 119.0L449.3 117.2L447.7 117.0L449.0 116.1L450.4 115.2L449.4 114.2L450.8 113.7L452.2 113.2L454.3 112.5L456.3 111.9L458.7 111.7L461.1 111.5L463.1 110.8L465.8 110.5L467.6 111.3L467.0 111.9L464.7 112.4L462.4 112.9L460.4 113.4L458.4 113.9L456.6 114.8L454.8 115.8L453.7 117.8L452.3 119.9L453.6 121.6L457.7 123.4L456.8 123.6L454.0 123.5L451.3 123.3L450.3 122.3L447.1 121.8ZM509.1 106.8L507.6 106.9L506.2 107.0L503.8 106.7L501.4 106.5L498.1 105.8L495.5 104.5L493.1 104.2L494.2 103.6L495.3 103.0L496.6 102.8L497.8 102.6L501.7 103.5L504.5 104.3L507.3 105.1ZM518.0 107.8L515.6 108.1L513.1 108.3L510.7 108.6L510.1 106.1L511.0 105.9L512.3 106.0L514.9 106.6L517.4 107.1ZM575.2 112.1L577.3 112.2L579.4 112.2L583.0 112.7L586.7 113.3L587.9 114.8L585.0 114.7L582.1 114.7L580.2 115.2L575.1 113.9L573.8 112.5ZM589.6 114.1L592.1 114.1L594.6 114.2L597.1 114.2L596.6 115.0L593.8 114.9ZM585.8 117.9L585.4 117.8L585.7 116.9L587.4 116.7L590.8 117.5L591.8 118.1L589.4 118.1L587.6 118.0ZM656.2 121.7L658.7 123.2L657.1 123.3L655.6 122.6ZM69.8 121.7L71.3 122.0L72.9 122.2L72.2 122.5L69.7 123.0L67.3 123.2ZM60.6 127.3L61.4 128.1L62.1 128.9L62.7 130.0L63.3 131.2L61.1 132.6L61.5 133.1L63.4 131.5L65.5 131.7L67.6 131.8L68.0 133.9L64.9 134.9L61.7 135.2L58.5 137.4L57.2 137.9L55.6 137.8L55.4 137.0L54.0 136.4L55.0 135.4L53.8 135.0L51.4 135.3L51.6 134.5L53.2 133.6L50.3 134.2L49.5 135.3L47.1 136.2L53.8 131.7ZM649.4 170.7L655.0 175.2L651.3 174.3L652.9 178.0L656.7 180.6L658.0 182.4L655.3 180.9L655.3 182.9L653.5 180.7L651.9 178.2L649.6 175.5L648.6 173.6L646.0 170.2L642.8 167.7L640.0 164.3L640.8 163.2L639.0 162.0L639.5 161.7L641.5 163.3L644.3 165.7L646.4 168.2ZM667.1 205.7L667.4 207.8L668.4 209.1L668.1 210.9L666.0 212.2L662.2 212.3L660.4 215.3L658.5 214.3L657.5 212.3L654.0 212.9L652.0 214.2L649.4 214.2L652.5 216.1L652.8 220.6L651.8 221.7L650.3 220.7L649.9 218.3L648.2 217.5L646.6 215.7L648.3 215.0L648.8 213.3L650.4 212.0L651.2 210.2L655.2 209.4L657.7 209.9L657.7 205.3L659.8 206.5L661.6 203.9L662.3 202.9L661.9 199.7L659.8 196.8L659.8 195.2L661.7 194.7L665.0 198.3L666.2 200.4L665.7 203.0ZM662.3 187.5L664.1 188.0L664.9 186.9L667.3 189.8L664.7 190.5L664.5 193.1L660.1 191.3L660.8 194.2L658.4 194.2L656.5 191.6L656.3 189.7L658.4 189.5L656.6 185.9L655.8 183.9L660.1 186.6ZM657.1 213.5L657.8 214.4L657.2 216.0L656.0 215.2L655.1 215.8L655.2 217.3L653.4 216.6L652.9 215.3L653.5 213.8L654.8 214.1L655.2 213.0ZM637.0 239.0L636.5 243.2L636.0 245.4L634.3 243.2L633.7 241.2L634.5 238.6L635.8 236.7L637.0 237.4ZM613.8 254.0L612.1 255.2L610.1 254.4L609.7 252.2L610.6 251.0L612.9 250.3L614.3 250.3L614.9 251.3L614.1 252.5ZM551.4 283.1L551.1 285.9L550.2 286.6L548.2 287.2L547.0 285.1L546.5 281.4L547.3 277.1L548.9 278.6L550.1 280.4ZM638.9 254.4L640.4 255.2L641.0 254.5L641.3 255.2L641.1 256.2L642.3 258.1L642.0 260.3L640.8 261.2L640.8 263.3L641.5 265.3L642.8 265.6L643.8 265.3L646.8 266.8L646.8 268.2L647.6 268.8L647.5 270.0L645.6 268.7L644.6 267.4L644.1 268.3L642.4 266.8L640.4 267.1L639.2 266.6L639.2 265.5L639.8 264.8L639.0 264.2L638.8 265.2L637.5 263.7L637.0 262.5L636.5 260.0L637.6 260.9L637.2 256.8L637.5 254.4ZM653.9 280.8L654.2 282.5L654.5 284.0L653.8 286.4L652.8 283.7L651.8 285.0L652.7 287.0L652.1 288.2L649.3 286.7L648.5 284.8L649.1 283.6L647.6 282.3L647.0 283.4L645.9 283.3L644.3 284.8L643.8 284.0L644.6 281.8L646.0 281.0L647.2 280.1L648.1 281.3L649.8 280.6L650.0 279.4L651.7 279.3L651.3 277.3L653.3 278.5L653.6 279.8ZM650.2 270.0L650.9 271.0L651.9 273.9L650.0 273.2L650.1 274.1L650.9 275.7L649.8 276.3L649.6 274.5L648.9 274.3L648.3 272.7L649.7 272.9L649.6 272.0L647.9 270.0ZM647.9 275.9L647.2 276.8L646.6 278.4L646.0 279.2L644.4 277.4L644.8 276.7L645.3 276.0L645.4 274.4L646.6 274.2L646.5 276.0L647.9 273.4ZM642.7 271.7L644.1 272.5L645.6 272.5L645.7 273.6L644.7 274.7L643.3 275.5L643.1 274.3L643.2 272.9ZM637.4 273.1L638.0 275.2L636.6 276.7L635.6 278.4L632.7 280.9L633.7 279.1L635.2 277.5L636.4 275.7ZM638.6 267.6L640.6 267.7L641.5 268.6L641.1 270.9L640.0 269.6ZM635.2 298.0L637.8 300.4L635.0 300.8L634.3 302.5L634.4 304.9L632.1 306.7L632.0 309.3L631.0 313.3L630.7 312.4L628.0 313.5L627.1 311.9L625.5 311.8L624.4 311.0L621.6 311.9L620.8 310.6L619.3 310.8L617.4 310.5L617.1 307.0L616.0 306.2L614.9 304.0L614.6 301.7L614.8 299.3L616.2 297.5L617.9 298.5L619.7 298.0L620.1 295.7L621.0 295.2L623.8 294.7L625.3 292.6L626.4 291.0L627.3 290.0L629.2 288.6L630.9 286.7L631.9 284.7L632.8 284.7L634.1 286.0L634.3 287.1L635.8 287.9L637.8 288.7L637.7 289.7L636.1 289.8L636.6 291.1L634.9 292.0L633.7 294.4L635.5 296.8ZM582.7 288.5L585.2 288.8L587.8 289.1L589.9 291.6L591.8 293.4L593.1 294.5L595.3 297.3L597.7 297.4L599.7 299.1L601.0 301.3L602.8 302.5L601.9 304.7L603.2 305.6L604.0 305.6L604.4 307.5L605.1 308.9L606.8 309.2L607.9 310.8L607.2 314.1L606.9 318.1L604.4 318.1L602.5 316.0L599.6 313.8L598.7 312.2L597.0 310.1L595.9 308.2L594.2 304.5L592.2 302.3L591.5 300.1L590.6 298.0L588.5 296.4L587.3 294.1L585.5 292.7L583.0 289.8ZM607.4 318.2L610.3 318.4L612.0 319.4L613.0 319.6L613.3 320.5L617.7 320.8L618.2 319.7L622.4 321.0L623.2 322.6L626.6 323.1L629.3 324.7L626.6 325.7L624.1 324.6L622.1 324.7L619.7 324.5L617.6 324.0L615.0 323.0L613.3 322.8L612.3 323.1L608.2 322.0L607.8 320.9L605.8 320.7ZM652.2 299.1L650.4 301.7L648.6 302.2L646.4 301.7L642.6 301.8L640.5 302.2L640.2 304.2L642.2 306.5L643.5 305.3L647.8 304.4L647.6 305.6L646.6 305.2L645.6 306.8L643.5 307.8L645.6 311.1L645.1 312.0L647.1 315.0L647.0 316.8L645.7 317.5L644.9 316.6L646.1 314.5L643.8 315.5L643.2 314.7L643.6 313.8L642.0 312.2L642.2 309.7L640.7 310.5L640.7 313.5L640.6 317.3L639.2 317.6L638.2 316.9L639.0 314.5L638.8 311.9L637.8 311.9L637.1 310.1L638.1 308.4L638.5 306.3L639.7 302.4L640.2 301.3L642.1 299.4L644.0 300.2L646.9 300.5L649.5 300.4L651.8 298.5ZM664.4 305.3L667.5 304.6L668.7 303.8L672.4 304.8L672.7 305.8L673.3 310.0L675.6 311.6L677.6 308.8L680.3 307.2L682.4 307.2L684.3 308.2L686.0 309.1L688.5 309.6L692.4 311.4L696.6 312.9L698.1 314.2L699.3 315.6L699.6 317.1L703.3 318.7L703.8 320.1L701.6 320.4L702.0 322.1L703.9 323.8L705.1 326.6L706.5 326.5L706.3 327.7L708.0 328.1L707.2 328.6L709.6 329.7L709.2 330.5L707.7 330.6L707.2 330.0L705.2 329.7L703.0 329.3L701.4 327.6L700.2 326.2L699.2 323.9L696.3 322.7L694.3 323.5L692.8 324.4L692.9 326.3L691.0 327.2L689.8 326.7L687.4 326.6L685.6 324.5L683.3 324.0L682.6 324.7L679.7 324.8L680.9 322.7L682.4 321.9L682.0 319.1L681.0 316.9L676.7 314.7L674.8 314.5L671.4 312.1L670.7 313.3L669.8 313.5L669.3 312.6L669.3 311.5L667.6 310.2L670.2 309.2L671.8 309.3L671.7 308.6L668.3 308.6L667.4 307.0L665.3 306.5ZM713.4 317.1L712.2 317.3L711.8 318.1L710.5 318.7L709.2 319.3L708.0 319.3L706.2 318.6L704.9 317.8L705.1 317.0L707.2 317.4L708.5 317.2L708.9 315.9L709.2 315.9L709.4 317.3L710.7 317.1L711.4 316.2L712.8 315.2L712.6 313.7L714.0 313.6L714.4 314.1L714.3 315.5ZM716.2 314.6L715.5 315.3L715.1 313.7L714.7 312.7L713.6 311.8L712.4 310.7L710.7 310.0L711.4 309.3L712.6 310.1L713.4 310.6L714.3 311.3L715.2 312.4L716.0 313.2ZM719.8 316.8L720.5 317.4L721.5 319.0L722.5 319.9L722.1 320.6L721.5 320.9L720.6 319.9L719.7 318.2L719.3 316.2L719.6 316.0ZM650.5 326.0L650.8 325.4L652.9 324.8L654.5 324.8L655.2 324.4L656.1 324.8L655.2 325.5L652.7 326.6L650.7 327.3L649.0 329.3L647.0 329.9L646.7 329.6L647.0 328.7L648.2 327.1ZM645.9 323.9L645.5 325.4L642.0 326.1L638.9 325.8L639.0 324.9L640.9 324.3L642.2 325.1L643.8 324.9ZM634.4 324.0L635.2 324.7L636.6 324.4L637.1 325.6L634.4 326.1L632.8 326.4L631.6 326.4L632.5 324.9L633.7 324.9ZM640.6 328.9L640.4 329.6L639.5 329.6L636.6 327.8L638.8 327.3L639.9 328.1ZM658.3 297.1L658.5 298.5L659.9 298.8L660.2 299.8L660.1 302.1L658.9 301.9L658.5 303.5L659.5 304.8L658.8 305.2L657.9 303.5L657.2 300.2L657.6 298.1ZM664.1 310.9L664.9 312.9L663.0 311.8L661.1 311.6L659.7 311.8L658.1 311.7L658.8 310.2L661.6 310.1ZM656.6 311.8L655.7 312.7L654.2 312.2L653.8 311.1L656.1 311.0ZM691.7 338.8L692.2 340.8L693.8 339.8L695.4 342.0L694.9 343.1L695.0 345.4L695.8 349.2L695.3 350.6L697.8 353.7L699.1 355.0L700.4 356.1L700.0 356.7L700.9 358.4L701.1 361.2L702.2 360.6L702.8 361.8L703.5 361.4L703.2 364.1L704.3 365.8L705.1 366.7L706.3 368.9L706.2 371.0L705.8 372.4L705.1 374.1L705.4 376.3L704.4 378.6L703.5 379.8L702.0 382.1L701.4 383.6L700.1 385.5L698.0 387.9L695.8 389.2L694.0 391.2L692.7 392.5L690.9 394.7L689.4 396.0L687.8 398.0L686.5 399.8L686.2 400.6L684.4 401.5L682.0 401.6L679.4 402.7L677.8 403.7L675.9 404.8L674.8 403.7L673.7 403.2L674.8 401.9L673.4 402.4L670.4 404.2L669.0 403.5L668.0 403.1L666.9 402.9L665.2 402.2L664.6 400.6L665.3 398.6L665.9 396.2L664.9 396.2L662.9 395.9L664.2 394.6L664.6 392.7L662.7 394.5L660.6 395.0L662.4 393.5L663.4 392.0L664.8 390.7L665.5 388.8L662.7 391.0L661.0 391.9L659.2 394.0L658.0 392.9L658.6 391.6L658.1 389.6L657.4 388.7L658.0 388.1L655.8 386.5L654.3 386.4L652.7 385.1L648.7 385.4L645.2 387.0L642.6 387.2L640.6 387.0L637.7 388.4L635.6 389.0L634.6 390.3L633.4 391.4L631.5 391.5L630.0 391.7L628.3 391.2L626.6 391.5L625.1 391.6L623.2 393.0L622.6 392.9L621.3 393.6L619.9 394.5L618.3 394.4L616.9 394.4L615.2 392.7L614.2 392.2L614.8 390.7L616.1 390.4L616.6 389.8L616.9 388.8L617.8 387.0L618.1 385.4L617.8 382.8L617.9 381.3L618.5 379.8L618.1 378.1L618.2 377.4L617.5 376.3L617.8 374.2L617.0 372.2L617.0 371.1L617.7 372.2L617.5 369.8L618.5 370.5L618.9 371.6L619.2 370.2L618.5 368.2L618.5 367.3L618.1 366.5L618.7 365.0L619.3 364.4L619.8 363.1L619.9 361.6L621.1 359.7L621.0 361.7L622.2 359.9L624.2 359.0L625.5 357.9L627.4 356.9L628.5 356.7L629.0 357.0L631.0 356.1L632.4 355.8L632.9 355.2L633.5 355.0L634.8 355.0L637.3 354.2L638.7 353.1L639.6 351.7L641.1 350.4L641.4 349.3L641.7 347.9L643.7 345.7L644.2 347.9L645.3 347.4L644.7 346.2L645.6 344.9L646.5 345.5L647.1 343.5L648.6 342.2L649.3 341.2L650.5 340.7L650.6 340.0L651.6 340.3L651.7 339.7L652.8 339.3L653.9 338.9L655.4 340.1L656.5 341.7L657.9 341.7L659.3 341.9L659.1 340.5L660.5 338.4L661.6 337.7L661.3 337.1L662.5 335.6L664.0 334.6L665.2 335.0L667.1 334.5L667.3 333.1L665.7 332.3L666.9 331.9L668.4 332.5L669.5 333.6L671.3 334.3L672.0 334.0L673.3 334.8L674.8 334.1L675.6 334.3L676.2 333.8L677.1 335.1L676.3 336.5L675.3 337.5L674.5 337.6L674.6 338.7L673.7 340.0L672.7 341.3L672.8 342.0L674.4 343.5L676.0 344.3L677.0 345.2L678.4 346.7L679.0 346.7L680.1 347.4L680.3 348.2L682.3 349.1L684.0 348.2L684.7 346.8L685.3 345.6L685.9 344.2L686.9 342.1L686.8 340.9L687.1 340.1L687.1 338.6L687.7 336.6L688.2 336.1L687.9 335.2L688.7 333.9L689.3 332.4L689.4 331.7L690.4 330.7L690.9 332.0L690.9 333.6L691.4 333.9L691.3 335.0L692.0 336.3L692.0 337.8ZM671.2 409.4L672.6 410.3L674.0 409.9L676.0 409.4L677.2 409.6L675.3 412.7L674.0 413.6L672.4 415.6L672.1 414.9L669.4 416.7L669.1 416.6L667.9 416.5L668.1 414.3L668.9 412.6L669.1 410.3L669.9 409.1ZM739.3 407.5L737.5 408.9L735.1 410.7L732.7 411.7L732.8 411.0L732.2 410.6L735.1 408.5L735.4 407.1L733.8 406.1L734.6 405.1L736.7 404.2L738.4 402.2L739.5 400.5L739.7 398.8L740.1 398.3L739.7 397.2L739.4 394.9L739.5 393.1L740.5 392.9L740.8 394.3L742.1 395.0L741.3 397.3L741.1 400.1L742.3 398.3L742.8 399.0L741.9 401.0L743.0 401.8L744.4 402.0L746.3 401.0L747.1 401.3L745.0 403.6L743.3 405.2L741.7 405.1L740.6 405.9L740.0 407.0ZM717.1 416.5L720.0 415.2L722.3 413.8L724.8 411.9L726.1 411.2L727.5 409.8L729.8 408.6L729.5 409.7L729.2 410.8L731.5 409.7L731.2 410.8L730.4 411.9L728.7 413.1L725.8 415.0L723.9 416.1L723.7 417.3L722.0 417.3L719.4 418.3L717.5 420.0L714.2 422.6L711.6 423.7L710.0 424.5L708.1 424.4L707.5 423.6L705.4 423.4L705.8 422.4L708.5 420.5L713.1 418.0L714.9 417.5ZM476.6 335.4L477.2 336.5L477.7 338.2L477.8 341.4L478.4 342.6L478.1 343.9L477.6 344.6L476.9 343.1L476.4 343.9L476.8 345.8L476.5 346.9L475.8 347.5L475.5 349.7L474.4 352.8L473.0 356.4L471.3 361.3L470.1 365.0L468.8 368.0L466.9 368.6L464.9 369.7L463.6 369.1L462.0 368.1L461.4 366.7L461.5 364.4L460.8 362.4L460.7 360.5L461.3 358.6L462.4 358.1L462.4 357.3L463.6 355.3L463.9 353.6L463.5 352.4L463.2 350.7L463.1 348.3L464.0 346.8L464.4 345.2L465.6 345.1L466.9 344.5L467.8 344.1L468.8 344.1L470.1 342.6L472.1 340.9L472.9 339.6L472.6 338.5L473.6 338.8L474.9 337.0L475.0 335.5L475.9 334.3ZM738.3 357.9L739.8 359.5L740.6 360.7L739.6 361.4L738.6 360.7L737.2 359.5L736.1 358.1L735.1 356.2L735.0 355.4L735.9 355.4L737.0 356.3L737.8 357.2ZM769.4 348.1L770.0 348.9L769.3 350.2L767.8 350.6L766.6 350.3L766.7 349.1L767.8 348.2L768.7 348.5ZM772.0 346.7L770.4 347.3L770.4 346.3L771.6 345.8L772.4 345.6L773.9 344.8L773.6 346.1ZM730.1 328.0L730.3 327.0L731.8 327.4L732.5 327.9L732.8 328.6L731.9 328.7L730.5 328.4ZM734.8 327.9L734.4 328.4L732.9 326.1L732.6 324.6L733.4 324.6L734.0 326.6ZM731.0 324.6L731.0 325.1L729.3 324.0L728.2 323.1L727.4 322.2L727.7 321.9L728.7 322.6L730.5 323.8ZM725.8 322.0L725.4 322.1L724.4 321.6L723.5 320.5L723.7 320.1L725.0 321.2ZM735.5 330.2L736.0 331.1L734.4 331.1L733.8 329.5L735.1 330.1ZM745.9 345.9L745.1 346.2L744.6 345.0L744.8 344.3ZM745.1 341.8L745.0 343.9L744.5 343.6L744.0 343.8L743.8 343.0L744.1 341.0ZM396.3 202.9L395.7 204.9L396.0 205.7L395.6 207.1L394.0 206.1L392.8 205.8L389.8 204.5L390.0 203.1L392.5 203.4L394.7 203.1ZM382.5 195.1L383.8 197.0L383.7 200.4L382.7 200.2L381.9 201.1L381.0 200.4L380.8 197.3L380.3 195.8L381.5 195.9ZM383.1 192.7L382.5 194.7L381.5 194.2L381.0 192.4L381.4 191.5L382.7 190.5ZM414.4 209.4L415.7 210.3L417.4 210.2L419.0 210.4L419.0 210.8L420.2 210.5L419.9 211.3L416.8 211.5L416.8 211.1L414.1 210.6ZM434.2 210.9L434.6 210.3L436.2 210.3L438.1 209.6L436.7 210.7L436.9 211.1L437.0 211.4L434.9 212.4L433.8 212.1L433.2 211.0ZM387.3 158.6L386.4 160.6L384.2 159.2L383.9 158.2L386.6 157.4ZM502.5 429.5L503.5 430.3L505.3 430.7L505.1 431.1L504.1 432.3L501.0 432.4L501.5 431.1L502.1 430.0ZM73.3 154.9L70.4 155.8L70.1 155.2L71.0 154.1L73.7 153.2L75.1 152.8L76.1 153.0L76.1 153.7ZM57.9 139.0L58.4 139.4L59.8 139.2L60.4 139.8L61.8 140.1L61.3 140.4L59.3 140.9L58.6 140.4L58.5 139.9L56.8 140.1L56.6 139.9ZM9.6 252.9L9.2 253.3L8.7 253.0L9.0 252.2L8.8 251.3L9.7 249.8L10.6 250.3L10.9 250.5L11.6 251.8ZM7.9 248.1L9.1 248.1L9.6 248.5L8.6 249.0L8.1 248.3ZM5.0 246.5L5.8 246.2L6.2 247.1L5.1 247.1ZM426.7 103.7L429.3 103.4L431.4 103.4L433.7 103.2L436.1 103.5L434.0 104.0L432.7 104.4L431.3 104.7L429.4 104.3L429.9 103.8L428.3 103.8Z" fill="#f7fcf0" stroke="none"/>
<g clip-path="url(#lc)" stroke="#4a4f4c" stroke-width="0.5" stroke-opacity="0.75">
<path d="M175.4 97.0L178.0 97.0L180.5 97.0L183.1 97.0L185.7 97.0L188.3 97.0L190.9 97.0L193.5 97.0L196.1 97.0L198.7 97.0L201.3 97.0L203.9 97.0L206.5 97.0L209.1 97.0L211.7 97.0L214.2 97.0L216.8 97.0L219.4 97.0L222.0 97.0L224.6 97.0L227.2 97.0L229.8 97.0L232.4 97.0L235.0 97.0L237.6 97.0L240.2 97.0L242.8 97.0L245.3 97.0L247.9 97.0L250.5 97.0L253.1 97.0L255.7 97.0L258.3 97.0L260.9 97.0L263.5 97.0L266.1 97.0L268.7 97.0L271.3 97.0L273.9 97.0L276.5 97.0L279.0 97.0L281.6 97.0L284.2 97.0L286.8 97.0L289.4 97.0L292.0 97.0L294.6 97.0L297.2 97.0L299.8 97.0L302.4 97.0L305.0 97.0L307.6 97.0L310.1 97.0L307.7 99.8L305.2 102.9L302.5 106.3L299.7 110.0L297.0 114.0L294.3 118.0L291.7 122.1L289.1 126.4L286.6 130.7L284.0 135.2L281.5 139.7L278.9 144.3L276.4 149.0L273.8 153.7L271.3 158.5L268.8 163.3L266.3 168.2L263.9 173.1L261.5 178.1L259.2 183.1L256.9 188.1L254.6 193.2L252.3 198.3L248.2 198.3L244.0 198.3L239.8 198.3L235.7 198.3L231.5 198.3L227.3 198.3L223.2 198.3L219.0 198.3L214.9 198.3L210.7 198.3L206.5 198.3L202.4 198.3L198.2 198.3L194.0 198.3L189.9 198.3L185.7 198.3L181.5 198.3L177.4 198.3L173.2 198.3L169.1 198.3L164.9 198.3L160.7 198.3L156.6 198.3L152.4 198.3L148.2 198.3L144.1 198.3L139.9 198.3L135.7 198.3L131.6 198.3L127.4 198.3L123.2 198.3L119.1 198.3L114.9 198.3L110.8 198.3L106.6 198.3L102.4 198.3L98.3 198.3L94.1 198.3L89.9 198.3L85.8 198.3L81.6 198.3L77.4 198.3L73.3 198.3L69.1 198.3L65.0 198.3L60.8 198.3L63.9 193.2L67.2 188.1L70.7 183.1L74.2 178.1L78.0 173.1L82.0 168.2L86.3 163.3L90.7 158.5L95.3 153.7L100.1 149.0L104.9 144.3L109.9 139.7L115.0 135.2L120.2 130.7L125.5 126.4L131.1 122.1L136.9 118.0L142.9 114.0L149.5 110.0L156.3 106.3L162.9 102.9L169.3 99.8Z" fill="#2b8cbe"/>
<path d="M115.2 175.1L119.2 175.1L123.1 175.1L127.1 175.1L131.1 175.1L135.1 175.1L139.1 175.1L143.1 175.1L147.1 175.1L151.0 175.1L155.0 175.1L159.0 175.1L163.0 175.1L167.0 175.1L171.0 175.1L171.5 174.2L171.8 175.5L173.6 176.1L175.4 176.5L177.0 177.3L178.8 177.0L181.0 177.6L183.8 176.9L186.6 178.7L189.4 180.5L189.7 181.4L190.5 181.5L190.6 182.5L191.3 182.8L190.9 183.2L192.5 184.5L192.0 186.8L191.6 189.0L190.4 190.6L188.8 192.0L188.0 192.9L188.0 193.5L189.1 193.9L192.0 192.5L194.4 192.1L197.6 190.9L197.8 189.8L197.7 189.3L198.8 188.9L202.7 188.9L203.8 187.9L207.0 185.8L208.1 185.4L211.5 185.3L215.0 185.3L216.1 184.6L217.2 184.2L218.3 183.0L219.6 181.0L221.8 179.1L222.3 179.7L223.8 179.3L224.5 180.0L223.3 183.6L224.2 185.0L223.6 186.4L221.7 190.5L220.2 194.6L218.8 198.8L217.4 203.0L216.2 207.1L215.0 211.3L211.4 216.0L207.8 220.7L204.3 225.4L200.9 230.1L197.5 234.8L194.2 239.5L190.2 239.7L186.3 239.8L182.3 239.9L178.4 240.1L174.0 240.0L169.6 239.9L165.3 239.9L160.9 239.8L156.6 239.7L152.2 239.7L147.9 239.6L143.5 239.5L139.3 239.5L135.1 239.5L130.9 239.5L126.7 239.5L122.4 239.5L118.2 239.5L114.0 239.5L109.8 239.5L105.6 239.5L101.3 239.5L97.1 239.5L92.9 239.5L90.0 236.5L87.2 233.5L84.4 230.4L81.8 227.4L79.2 224.4L81.5 220.0L84.0 215.7L86.5 211.3L89.2 207.0L91.9 202.6L94.8 198.3L97.4 193.9L100.1 189.6L102.9 185.3L105.7 181.0L108.6 176.8L110.8 176.9L112.9 177.0L114.2 175.9Z" fill="#a8ddb5"/>
<path d="M134.7 120.7L129.2 124.9L123.8 129.2L118.6 133.5L113.6 138.0L108.6 142.6L103.7 147.2L105.5 147.3L106.6 147.9L106.8 149.0L106.9 150.5L110.0 149.2L112.7 148.4L112.4 149.7L112.7 150.7L113.4 151.8L113.0 153.5L112.4 156.3L114.2 157.8L113.0 159.4L110.9 160.6L109.5 161.2L106.5 161.3L103.5 161.3L101.7 160.1L99.9 158.9L98.2 157.6L96.5 156.4L91.6 157.9L86.8 159.3L81.9 160.8L77.0 162.2L72.1 163.7L67.2 165.2L62.2 166.6L57.2 168.1L52.3 169.6L47.3 171.1L42.3 172.6L38.7 172.6L35.0 172.6L31.4 172.6L27.7 172.6L24.1 172.6L20.5 172.6L16.8 172.6L13.2 172.6L9.5 172.6L5.9 172.6L2.2 172.6L7.3 167.8L12.6 163.0L18.1 158.2L23.8 153.6L29.7 148.9L35.8 144.4L42.0 139.9L48.3 135.4L54.7 131.1L61.3 126.8L68.2 122.6L75.3 118.5L78.5 118.5L81.6 118.5L84.7 118.5L87.8 118.5L90.9 118.5L94.0 118.5L97.2 118.5L100.3 118.5L103.4 118.5L106.5 118.5L109.6 118.5L112.7 118.5L115.9 118.5L119.0 118.5L122.1 118.5L125.2 118.5L128.3 118.5L131.4 118.5L134.6 118.5L137.7 118.5Z" fill="#a8ddb5"/>
<path d="M-3.4 255.7L0.6 255.7L4.5 255.7L8.5 255.7L12.5 255.7L13.5 251.4L14.5 247.0L15.5 242.7L11.6 242.7L7.6 242.7L3.7 242.7L-0.3 242.7L-1.3 247.0L-2.4 251.4Z" fill="#a8ddb5"/>
<path id="c_Greenland" d="M255.0 150.3L258.4 150.3L261.8 150.3L265.2 150.3L268.6 150.3L272.0 150.3L275.3 150.3L278.7 150.3L282.1 150.3L285.5 150.3L288.9 150.3L292.3 150.3L296.1 147.0L299.9 143.6L303.7 140.4L307.3 137.1L310.9 133.9L314.0 132.5L317.1 131.2L320.1 129.8L323.1 128.5L326.1 127.2L329.1 126.2L332.1 125.3L335.1 124.3L338.1 123.4L341.0 122.5L343.9 121.6L346.8 120.7L347.2 116.9L347.6 113.3L348.0 109.7L348.4 106.3L348.9 103.2L349.3 100.3L349.7 97.7L347.1 97.7L344.6 97.7L342.0 97.7L339.4 97.7L336.9 97.7L334.3 97.7L331.8 97.7L329.2 97.7L326.6 97.7L324.1 97.7L321.5 97.7L318.9 97.7L316.4 97.7L313.8 97.7L311.3 97.7L308.7 97.7L306.1 97.7L303.6 97.7L301.0 97.7L298.5 97.7L295.9 97.7L293.3 97.7L290.8 97.7L288.2 97.7L285.7 97.7L283.1 97.7L281.0 99.2L278.9 100.8L275.8 101.6L272.7 102.5L269.5 103.4L266.9 103.9L264.3 104.4L264.6 105.6L261.5 106.1L258.4 106.6L255.3 107.1L251.6 109.4L251.2 112.4L252.9 113.4L254.7 114.4L256.5 115.4L258.4 116.5L260.3 117.5L262.3 118.5L262.9 122.1L263.6 125.7L264.5 129.4L263.3 132.8L262.1 136.2L261.0 139.7L259.9 143.2L257.5 146.7Z" fill="url(#h)" stroke="#c9c9c9"/>
<path d="M105.6 217.7L108.3 217.5L111.0 217.3L110.6 217.8L113.5 219.0L115.7 220.0L118.0 220.9L121.0 220.9L124.1 220.9L124.4 219.8L128.3 219.8L128.8 220.7L129.7 221.5L130.6 222.7L131.0 224.1L131.1 225.5L132.1 226.3L133.7 227.1L135.6 225.0L137.5 224.9L138.8 226.0L139.4 227.8L139.8 229.3L140.8 230.8L140.9 232.6L141.2 233.9L142.8 234.7L144.3 235.2L145.2 235.2L146.7 234.8L150.1 236.1L153.5 237.4L156.9 238.8L160.3 240.1L164.3 242.0L168.3 244.0L167.6 249.1L166.8 254.2L166.1 258.5L165.6 262.8L165.0 267.1L164.5 271.4L160.6 271.4L156.7 271.4L152.8 271.4L148.9 271.4L145.0 271.4L140.7 270.8L136.3 270.2L132.0 269.6L127.6 269.0L123.3 268.4L118.9 267.8L114.6 267.2L110.3 266.6L105.9 266.0L101.6 265.4L97.3 264.8L93.0 264.2L88.7 263.6L89.4 258.5L90.3 253.5L91.2 248.4L92.1 243.4L93.2 238.3L94.4 233.3L95.8 228.2L97.4 223.2L99.1 218.1L102.4 217.9Z" fill="#e0f3db"/>
<path d="M160.1 256.2L160.1 255.8L160.4 255.7L160.7 256.1L161.8 254.5L162.2 254.4L164.0 254.4L163.5 258.4L163.1 262.3L160.8 262.3L158.5 262.3L159.1 259.4L159.7 256.5Z" fill="#a8ddb5"/>
<path d="M152.0 264.8L152.2 264.0L152.5 263.4L152.2 262.9L153.6 260.8L156.5 260.8L156.7 259.9L156.1 259.2L155.4 258.6L154.6 257.7L155.6 257.7L155.8 256.2L158.0 256.2L160.1 256.2L159.8 258.3L159.3 261.3L159.9 261.3L160.6 261.8L161.5 261.7L162.0 261.8L161.6 265.3L161.3 268.8L157.9 268.8L154.4 268.8L151.0 268.8L151.6 264.9Z" fill="#ccebc5"/>
<path d="M161.5 261.7L160.4 262.7L159.2 263.4L159.1 264.4L158.6 265.1L158.2 268.8L161.9 268.8L165.5 268.8L169.1 268.8L172.8 268.8L173.8 264.2L174.8 259.7L170.6 259.7L166.4 259.7L162.2 259.7Z" fill="#ccebc5"/>
<path d="M156.7 266.9L156.8 266.5L157.7 265.9L158.1 265.6L158.6 265.1L159.2 265.3L159.7 265.8L160.3 266.3L161.4 266.3L162.1 266.8L161.9 267.8L161.8 269.1L159.0 269.1L156.3 269.1Z" fill="#ccebc5"/>
<path d="M162.9 268.9L163.6 268.7L164.3 268.1L164.3 266.9L165.4 266.8L165.9 266.1L166.6 266.6L168.1 265.3L168.4 264.8L169.0 264.1L169.8 264.6L170.9 264.2L172.1 263.5L172.9 263.6L174.4 263.1L174.0 267.6L173.7 272.1L173.4 276.7L169.1 276.7L164.9 276.7L160.7 276.7L161.0 272.9L161.3 269.1Z" fill="#f7fcf0"/>
<path d="M166.2 273.8L166.5 273.5L168.0 274.2L168.6 273.8L169.3 274.0L169.6 274.6L170.3 274.7L170.9 274.2L172.4 273.5L174.4 278.0L174.3 280.6L174.2 283.2L170.7 283.2L167.3 283.2L163.8 283.2L164.1 278.4L164.4 273.5Z" fill="#7bccc4"/>
<path d="M173.2 277.8L172.3 278.0L172.2 279.1L172.7 279.5L172.3 279.8L172.4 280.2L172.2 280.8L172.0 281.3L171.6 284.5L175.1 284.8L178.6 285.2L182.1 285.5L185.6 285.8L186.3 282.5L187.0 279.3L183.7 276.1L180.3 276.3L176.8 276.5L173.4 276.7Z" fill="#7bccc4"/>
<path d="M168.9 251.8L173.3 251.8L177.8 251.8L182.2 251.8L186.6 251.8L191.0 251.8L195.5 251.8L195.9 248.3L196.3 244.7L196.7 241.1L192.3 241.1L187.9 241.1L183.5 241.1L179.1 241.1L174.7 241.1L170.3 241.1L169.8 244.7L169.4 248.3Z" fill="#f7fcf0"/>
<path id="c_Jamaica" d="M184.0 257.1L186.9 257.1L189.9 257.1L190.2 253.9L187.3 253.9L184.3 253.9Z" fill="url(#h)" stroke="#c9c9c9"/>
<path d="M192.1 257.3L196.1 257.3L200.1 257.3L204.1 257.3L208.1 257.3L208.4 253.7L208.8 250.0L204.8 250.0L200.9 250.0L196.9 250.0L192.9 250.0L192.5 253.7Z" fill="#ccebc5"/>
<path d="M192.3 256.3L195.9 256.5L199.6 256.8L199.9 255.0L199.3 254.2L200.1 252.9L200.2 251.3L200.2 250.0L196.6 250.0L192.9 250.0L192.6 253.1Z" fill="#f7fcf0"/>
<path d="M209.3 256.5L211.8 256.5L214.3 256.5L214.6 253.9L212.1 253.9L209.6 253.9Z" fill="#f7fcf0"/>
<path id="c_Bahamas" d="M183.8 241.6L187.1 241.6L190.5 241.6L191.2 236.5L192.1 231.4L188.7 231.4L185.4 231.4L184.5 236.5Z" fill="url(#h)" stroke="#c9c9c9"/>
<path id="c_Trinidad" d="M221.0 276.6L223.2 276.6L223.4 274.2L221.1 274.2Z" fill="url(#h)" stroke="#c9c9c9"/>
<path d="M191.3 287.1L195.8 287.1L200.4 287.1L204.9 287.1L209.5 287.1L214.1 287.1L218.6 287.1L223.2 287.1L227.7 287.1L232.3 287.1L236.8 287.1L241.4 287.1L245.9 287.1L250.5 287.1L255.1 287.1L259.6 287.1L264.2 287.1L268.7 287.1L273.3 287.1L277.8 287.1L282.4 287.1L286.9 287.1L286.9 292.2L286.8 297.2L286.8 302.2L286.8 307.3L286.9 312.3L286.9 317.4L287.0 322.4L287.1 327.4L287.2 332.5L287.4 337.5L287.6 342.6L287.8 347.6L288.0 352.7L288.3 357.7L288.5 362.7L288.8 367.8L289.2 372.8L289.6 377.9L290.0 382.9L290.5 388.0L291.0 393.0L286.7 393.0L282.5 393.0L278.2 393.0L273.9 393.0L269.6 393.0L265.3 393.0L261.1 393.0L256.8 393.0L252.5 393.0L248.2 393.0L243.9 393.0L239.7 393.0L235.4 393.0L234.5 388.3L233.7 383.5L232.9 378.8L232.3 374.0L231.7 369.3L231.2 364.6L230.7 359.8L230.3 355.1L226.1 355.1L221.8 355.1L217.6 355.1L213.3 355.1L209.0 350.9L204.8 346.7L200.5 342.5L196.3 338.4L192.1 334.2L191.8 329.5L191.5 324.8L191.3 320.1L191.2 315.3L191.1 310.6L191.0 305.9L191.0 301.2L191.0 296.5L191.1 291.8Z" fill="#7bccc4"/>
<path d="M235.3 381.8L237.8 378.2L239.9 375.7L241.3 374.6L243.0 373.2L242.8 371.1L241.5 369.6L240.5 370.1L237.2 368.2L233.9 365.5L230.6 362.9L227.4 360.3L224.0 360.0L220.5 359.7L217.1 359.3L213.7 359.0L210.4 359.7L207.0 360.3L206.1 364.5L205.3 368.7L204.6 372.9L204.0 377.0L203.4 381.2L203.3 386.1L203.3 391.0L203.4 395.9L203.6 400.8L204.0 405.7L204.4 410.6L205.0 415.4L205.7 420.2L207.5 425.2L209.5 430.0L211.5 434.9L213.7 439.7L215.9 444.5L218.3 449.2L221.6 449.2L225.0 449.2L228.3 449.2L231.6 449.2L235.0 449.2L238.3 449.2L241.6 449.2L245.0 449.2L244.6 444.7L244.4 440.1L244.3 435.5L244.3 430.9L244.4 426.2L244.7 421.5L245.0 416.8L245.4 412.1L245.9 407.3L243.9 402.8L241.9 398.2L240.4 393.6L239.0 389.1L237.2 385.4Z" fill="#a8ddb5"/>
<path d="M235.3 381.8L236.7 381.5L239.3 383.5L240.1 383.4L242.6 385.1L244.6 386.6L246.1 388.4L245.4 389.6L246.2 391.1L247.0 393.3L243.5 395.3L240.2 395.1L237.7 393.8L235.7 392.1L235.2 391.5L235.1 389.8L235.5 389.2L235.0 386.6L235.1 383.9Z" fill="#4eb3d3"/>
<path d="M240.5 370.1L240.7 368.6L240.9 367.0L240.8 365.6L239.9 365.1L239.1 365.5L238.2 365.4L237.9 364.4L237.5 362.0L237.0 361.3L235.4 360.5L234.5 361.0L232.1 360.5L231.9 357.0L231.1 355.6L228.9 352.5L225.0 353.1L221.1 353.8L220.9 357.4L220.7 361.1L221.4 361.0L225.9 365.2L227.8 365.6L230.8 367.6L233.2 368.6L233.7 369.7L232.0 373.7L234.3 374.4L236.9 374.8L238.6 374.4L240.4 372.4Z" fill="#2b8cbe"/>
<path d="M231.1 355.6L231.0 354.7L228.8 353.4L226.7 353.4L222.8 354.1L221.9 356.4L222.0 357.8L221.4 361.0L220.9 360.4L218.4 360.3L217.7 362.4L216.2 360.5L213.2 359.9L211.5 362.2L208.9 362.6L206.2 362.9L204.6 359.0L203.1 355.1L201.5 351.2L200.0 347.2L200.3 342.4L200.7 337.7L201.2 332.9L203.3 331.4L205.0 331.7L206.2 331.6L206.7 330.8L208.6 329.8L209.8 328.8L212.8 328.3L212.6 330.3L213.0 331.3L212.9 333.0L215.5 335.4L218.1 335.8L219.1 336.8L220.6 337.3L221.7 338.1L223.1 338.0L224.5 338.8L224.7 340.3L225.2 341.1L225.3 342.2L224.6 342.2L225.7 345.3L230.1 345.4L229.9 346.9L230.2 347.9L231.5 348.7L232.2 350.3L231.9 352.4L231.4 353.5L231.8 355.0Z" fill="#ccebc5"/>
<path d="M211.5 362.2L211.4 365.6L209.1 366.9L209.8 371.3L209.4 372.1L210.2 373.1L208.9 374.7L207.9 377.2L207.5 379.6L208.2 382.1L207.3 384.8L209.3 389.3L210.0 389.8L210.5 392.2L209.9 394.7L210.5 396.9L209.3 398.6L209.9 401.0L211.2 403.6L210.2 404.5L210.3 406.8L210.6 409.5L211.9 412.6L211.3 413.2L212.8 416.2L214.0 417.1L213.7 418.2L214.9 418.7L215.4 419.7L214.7 420.2L215.4 421.7L215.9 425.1L215.6 427.3L216.3 428.5L216.3 430.2L215.2 431.3L216.4 434.0L217.5 434.9L218.8 434.7L219.5 436.6L221.0 438.1L223.4 438.2L225.9 438.4L227.9 438.8L228.1 439.6L229.3 442.5L230.6 445.3L233.9 445.8L236.4 449.2L232.7 449.2L229.1 449.2L225.4 449.2L221.8 449.2L218.2 449.2L214.5 449.2L212.1 444.4L209.7 439.6L207.5 434.8L205.4 429.9L203.4 425.0L201.5 420.1L199.7 415.1L197.9 410.1L196.3 405.1L194.8 400.1L193.4 395.0L192.1 390.0L190.9 385.0L189.8 379.9L188.9 374.9L188.0 369.8L187.3 364.8L186.6 359.8L186.0 354.7L185.5 349.7L184.9 344.6L188.6 344.6L192.2 344.6L195.9 344.6L199.5 344.6L203.2 344.6L204.5 348.8L205.8 350.5L206.3 352.4L207.6 353.5L207.1 356.1L208.7 359.0L209.9 362.6Z" fill="#7bccc4"/>
<path d="M202.9 350.8L204.0 350.1L204.5 348.8L205.7 345.9L204.5 343.7L205.0 342.8L204.5 341.9L205.4 340.6L205.5 335.6L203.3 331.4L202.1 331.9L201.0 331.6L200.9 327.6L199.1 329.2L197.1 329.1L196.1 327.7L194.6 327.5L195.0 326.4L193.7 324.8L192.6 322.5L193.2 322.0L193.2 320.9L194.5 320.1L194.2 318.7L194.8 317.8L194.9 316.6L197.5 314.8L199.4 314.3L199.7 313.9L201.8 314.0L201.0 311.9L200.7 308.5L200.4 305.0L200.2 301.5L195.8 301.5L191.3 301.5L186.9 301.5L182.5 301.5L178.1 301.5L173.6 301.5L173.4 306.6L173.3 311.7L173.2 316.8L173.2 321.9L173.2 327.0L173.3 332.1L173.5 337.2L173.7 342.3L174.0 347.4L174.4 352.5L178.5 352.2L182.6 352.0L186.6 351.7L190.7 351.5L194.8 351.3L198.9 351.0Z" fill="#a8ddb5"/>
<path d="M177.7 311.7L178.0 312.8L177.4 313.4L177.5 314.4L178.4 314.2L179.3 314.4L180.3 315.8L181.6 314.7L182.0 312.9L183.3 310.6L186.1 309.6L188.6 306.9L189.3 305.2L188.9 303.2L189.3 302.0L188.7 297.6L184.9 297.6L181.2 297.6L177.4 297.6L173.7 297.6L173.6 302.4L173.7 307.2L173.8 311.9Z" fill="#7bccc4"/>
<path d="M180.9 299.2L183.2 300.7L183.6 300.6L184.2 301.8L186.2 302.1L186.8 301.7L188.0 302.6L188.9 303.2L189.5 303.0L191.1 304.2L191.8 305.4L192.9 306.1L194.3 308.8L196.0 309.2L197.3 308.5L198.2 308.9L199.5 308.7L201.3 309.9L199.9 312.6L200.6 312.7L201.8 314.0L202.2 310.5L202.7 306.9L202.7 305.7L202.3 304.2L201.3 303.3L201.3 301.4L202.6 300.9L203.1 301.2L203.2 300.2L201.8 300.0L201.8 298.3L206.3 298.4L207.1 297.5L207.7 298.3L208.1 299.8L208.6 299.5L209.5 298.9L209.9 295.0L210.4 291.0L210.9 287.1L209.3 282.5L207.8 278.0L206.3 273.4L204.9 268.8L201.8 268.4L198.8 267.9L195.8 267.5L192.5 270.6L189.3 273.6L186.0 276.7L185.0 280.1L184.7 280.5L185.2 282.0L184.7 282.8L184.0 282.6L183.6 283.9L180.9 287.1L180.0 290.6L179.2 294.1L178.3 297.6Z" fill="#a8ddb5"/>
<path d="M199.3 272.0L197.8 272.4L197.1 273.8L196.2 274.5L195.5 275.5L195.1 277.3L194.4 278.9L195.6 279.0L195.8 280.2L196.3 280.8L196.4 281.9L196.1 282.9L196.2 283.4L196.7 283.6L197.2 284.5L200.2 284.3L201.5 284.6L203.1 286.9L204.0 286.6L205.7 286.7L207.0 286.4L207.8 286.9L207.3 288.3L206.8 289.2L206.6 291.0L207.0 292.8L207.6 293.5L207.7 294.1L206.5 295.4L207.3 296.0L207.9 296.9L208.6 299.5L209.8 300.9L211.6 300.7L212.1 299.9L213.8 299.3L214.8 298.9L215.1 297.8L216.7 297.0L216.6 296.5L214.6 296.3L214.4 294.6L214.5 292.9L213.5 292.2L213.9 292.0L215.6 292.3L217.4 292.9L218.1 292.3L219.8 291.9L222.4 290.9L223.2 289.9L223.0 289.2L224.0 288.4L227.1 284.5L227.2 281.2L227.3 278.0L223.7 277.6L220.0 277.3L220.2 274.0L222.7 272.7L225.3 271.4L221.5 271.0L217.7 270.6L213.9 270.1L210.2 269.7L206.4 269.3L202.6 268.8Z" fill="#4eb3d3"/>
<path d="M225.5 280.9L223.6 282.5L223.3 283.4L224.1 284.4L223.5 284.9L222.1 285.3L222.1 286.5L221.5 287.2L223.0 289.2L224.2 289.1L224.7 289.7L224.4 290.9L225.1 291.2L225.6 292.4L225.0 293.4L224.6 295.6L225.1 296.9L225.3 298.1L226.7 299.3L227.8 299.5L228.1 299.0L228.8 298.9L229.9 298.4L230.6 297.7L231.9 297.9L232.5 297.8L233.7 296.3L233.8 292.3L233.9 288.4L234.0 284.5L230.6 281.9L227.3 279.3Z" fill="#f7fcf0"/>
<path d="M231.3 287.2L230.8 289.5L229.4 290.2L229.5 290.8L229.1 292.2L230.1 294.1L230.8 294.1L231.1 295.6L232.5 297.8L233.7 298.0L233.9 297.5L233.6 297.0L233.8 296.2L234.7 296.5L235.8 296.2L237.1 296.8L238.4 295.5L239.0 290.6L239.7 285.8L235.7 285.4L231.7 285.0Z" fill="#7bccc4"/>
<path id="c_FrGuiana" d="M237.1 296.8L237.7 295.7L238.0 294.5L238.4 293.3L237.5 291.8L237.4 290.0L238.6 287.7L243.2 285.8L244.3 288.4L245.4 291.0L243.8 291.9L242.4 294.3L241.7 296.3L240.8 297.3L239.7 297.4L239.4 296.7L238.9 296.6L238.1 297.3Z" fill="url(#h)" stroke="#c9c9c9"/>
<path d="M358.3 210.9L359.1 212.5L359.2 214.1L359.9 216.9L360.5 217.4L360.1 218.5L357.2 218.9L356.2 219.9L355.0 220.1L354.8 222.0L352.2 223.1L351.4 224.4L349.6 225.1L347.3 225.5L343.7 227.4L343.6 230.5L343.6 231.2L347.8 234.3L351.9 237.5L355.7 240.4L359.5 243.2L363.3 246.1L367.1 248.9L367.7 250.1L369.1 250.9L370.1 251.3L370.2 253.0L372.7 252.7L375.9 251.6L379.1 249.0L382.4 246.4L386.2 243.9L390.0 241.4L387.7 239.5L385.4 237.6L385.2 236.5L383.9 234.6L384.8 233.5L384.5 231.9L384.8 230.4L384.6 229.2L384.9 227.1L384.8 225.9L384.0 223.6L382.9 218.9L381.6 217.8L381.5 217.2L379.7 215.6L379.4 213.7L380.7 212.2L381.2 210.0L380.8 207.6L381.2 206.2L381.2 202.2L377.5 202.8L373.7 203.5L370.0 204.1L366.2 204.8L362.5 205.4L358.7 206.1L358.3 210.9Z" fill="#f7fcf0"/>
<path d="M358.3 210.9L359.1 212.5L359.2 214.1L359.9 216.9L360.5 217.4L360.1 218.5L357.2 218.9L356.2 219.9L355.0 220.1L354.8 222.0L352.2 223.1L351.4 224.4L349.6 225.1L347.3 225.5L343.7 227.4L343.6 230.5L340.3 230.5L337.0 230.5L333.6 230.5L329.6 227.0L332.8 222.6L335.9 218.3L339.0 213.9L342.3 211.3L345.7 208.7L349.0 206.1L351.1 208.7L354.3 207.9L358.3 210.9Z" fill="#f7fcf0"/>
<path id="c_WSahara" d="M343.6 230.5L340.3 230.5L337.0 230.5L333.6 230.5L329.2 231.0L324.9 231.6L320.5 232.2L320.4 236.1L320.2 240.1L320.1 244.0L320.0 247.9L324.4 247.9L324.9 247.0L329.3 247.0L333.7 247.0L333.4 243.3L334.0 241.9L336.1 241.7L336.1 238.4L336.2 235.0L339.8 235.1L343.5 235.1L343.6 231.2L343.6 230.5Z" fill="url(#h)" stroke="#c9c9c9"/>
<path id="c_Mauritania" d="M343.6 231.2L343.5 235.1L339.8 235.1L336.2 235.0L336.1 238.4L336.1 241.7L334.0 241.9L333.4 243.3L333.7 247.0L329.3 247.0L324.9 247.0L324.4 247.9L321.1 247.9L321.0 252.3L320.9 256.6L320.8 261.0L323.1 260.8L325.4 260.6L326.2 259.8L327.4 260.0L328.5 259.4L329.7 259.4L330.8 260.2L332.3 260.9L333.7 262.8L335.2 264.6L335.9 264.1L336.3 262.6L337.1 262.5L338.7 263.2L339.9 262.7L340.8 262.9L341.2 262.3L344.2 262.3L347.3 262.3L350.3 262.3L350.9 260.4L350.5 260.1L350.1 256.4L349.8 252.6L349.5 248.8L349.1 245.1L348.8 241.3L348.5 237.5L351.9 237.5L347.8 234.3L343.6 231.2Z" fill="url(#h)" stroke="#c9c9c9"/>
<path d="M351.9 237.5L355.7 240.4L359.5 243.2L363.3 246.1L367.1 248.9L367.7 250.1L369.1 250.9L370.1 251.3L370.2 253.0L372.7 252.7L372.7 255.7L372.7 258.8L371.5 260.5L371.3 262.1L369.3 262.5L366.2 262.8L365.3 263.7L363.8 263.8L362.4 263.8L361.8 263.3L360.6 263.7L358.4 264.7L358.0 265.5L356.2 266.7L355.9 267.4L354.9 267.9L353.8 267.6L353.2 268.2L352.8 270.0L351.0 272.2L351.1 273.1L350.4 274.2L350.6 275.7L349.6 276.1L349.1 276.4L348.7 275.3L348.1 275.6L347.7 275.5L347.3 276.3L345.5 276.3L344.8 275.9L344.5 276.1L343.8 275.4L344.0 274.6L343.7 274.3L343.2 274.5L343.3 273.7L343.8 273.0L342.8 271.9L342.6 271.2L342.1 270.6L341.6 270.6L341.0 270.9L340.3 271.3L339.7 271.8L338.7 271.6L338.1 271.0L337.7 270.9L337.1 271.2L336.7 271.2L336.6 270.3L336.7 269.5L336.5 268.4L335.7 267.7L335.3 266.2L335.2 264.6L335.9 264.1L336.3 262.6L337.1 262.5L338.7 263.2L339.9 262.7L340.8 262.9L341.2 262.3L344.2 262.3L347.3 262.3L350.3 262.3L350.9 260.4L350.5 260.1L350.1 256.4L349.8 252.6L349.5 248.8L349.1 245.1L348.8 241.3L348.5 237.5L351.9 237.5Z" fill="#f7fcf0"/>
<path d="M335.2 264.6L333.7 262.8L332.3 260.9L330.8 260.2L329.7 259.4L328.5 259.4L327.4 260.0L326.2 259.8L325.4 260.6L322.5 260.5L319.6 260.4L319.5 265.4L319.4 270.4L322.1 270.4L324.7 270.4L326.0 270.0L326.7 270.1L327.3 269.8L331.6 269.9L332.7 269.9L334.3 270.6L335.0 270.2L336.6 270.3L336.7 269.5L336.5 268.4L335.7 267.7L335.3 266.2L335.2 264.6Z" fill="#f7fcf0"/>
<path d="M324.4 268.4L324.7 267.3L327.2 267.2L327.7 266.6L328.5 266.5L329.4 267.2L330.1 267.2L330.8 266.8L331.3 267.5L330.3 268.1L329.3 268.0L328.3 267.5L327.5 268.1L327.1 268.1L326.5 268.5L324.1 268.5L321.8 268.6L321.8 267.2Z" fill="#f7fcf0"/>
<path id="c_GuineaBissau" d="M331.6 269.9L327.3 269.8L326.7 270.1L326.0 270.0L324.7 270.4L322.9 270.4L322.8 275.4L325.5 274.6L328.3 273.9L329.3 272.7L330.0 272.7L330.6 272.3L331.1 272.3L331.5 271.9L331.3 271.1L331.5 270.8L331.6 269.9Z" fill="url(#h)" stroke="#c9c9c9"/>
<path d="M331.6 269.9L331.5 270.8L331.3 271.1L331.5 271.9L331.1 272.3L330.6 272.3L330.0 272.7L329.3 272.7L328.3 273.9L326.2 275.4L327.3 278.6L328.5 281.9L332.5 279.5L333.8 278.4L334.0 277.7L334.4 277.1L335.1 277.0L335.6 276.5L337.4 276.5L338.1 277.5L338.6 278.6L338.5 279.3L338.9 280.0L338.8 281.0L339.5 280.8L340.5 280.5L341.5 282.1L341.4 283.1L341.8 283.7L342.4 283.7L342.9 282.6L343.6 282.7L343.9 282.7L344.1 281.6L343.9 281.0L344.1 280.7L345.0 280.4L344.4 278.3L343.9 277.2L344.1 276.3L344.5 276.1L343.8 275.4L344.0 274.6L343.7 274.3L343.2 274.5L343.3 273.7L343.8 273.0L342.8 271.9L342.6 271.2L342.1 270.6L341.6 270.6L341.0 270.9L340.3 271.3L339.7 271.8L338.7 271.6L338.1 271.0L337.7 270.9L337.1 271.2L336.7 271.2L336.6 270.3L335.0 270.2L334.3 270.6L332.7 269.9L331.6 269.9Z" fill="#ccebc5"/>
<path d="M332.5 279.5L333.8 278.4L334.0 277.7L334.4 277.1L335.1 277.0L335.6 276.5L337.4 276.5L338.1 277.5L338.6 278.6L338.5 279.3L338.9 280.0L338.8 281.0L339.5 280.8L338.4 282.0L337.3 283.5L337.2 284.2L336.6 285.0L333.0 287.1L331.3 283.8L329.6 280.6L332.5 279.5Z" fill="#f7fcf0"/>
<path d="M339.5 280.8L338.4 282.0L337.3 283.5L337.2 284.2L336.6 285.0L335.3 288.4L338.4 290.6L341.5 292.8L344.5 295.0L345.2 291.4L345.4 289.2L345.6 288.9L345.5 287.9L344.6 286.8L343.8 286.6L343.2 285.9L343.7 284.7L343.4 283.5L343.6 282.7L342.9 282.6L342.4 283.7L341.8 283.7L341.4 283.1L341.5 282.1L340.5 280.5L339.5 280.8Z" fill="#f7fcf0"/>
<path d="M343.6 282.7L343.4 283.5L343.7 284.7L343.2 285.9L343.8 286.6L344.6 286.8L345.5 287.9L345.6 288.9L345.4 289.2L345.2 291.4L345.5 294.2L349.0 294.0L352.5 293.8L356.1 293.7L356.4 289.8L356.5 288.7L355.5 286.5L356.1 283.5L357.1 281.3L356.5 277.6L354.9 276.9L353.9 277.0L353.0 277.7L352.0 277.1L351.6 276.3L350.6 275.7L349.6 276.1L349.1 276.4L348.7 275.3L348.1 275.6L347.7 275.5L347.3 276.3L345.5 276.3L344.8 275.9L344.5 276.1L344.1 276.3L343.9 277.2L344.4 278.3L345.0 280.4L344.1 280.7L343.9 281.0L344.1 281.6L343.9 282.7L343.6 282.7Z" fill="#e0f3db"/>
<path d="M350.6 275.7L350.4 274.2L351.1 273.1L351.0 272.2L352.8 270.0L353.2 268.2L353.8 267.6L354.9 267.9L355.9 267.4L356.2 266.7L358.0 265.5L358.4 264.7L360.6 263.7L361.8 263.3L362.4 263.8L363.8 263.8L363.7 265.1L364.0 266.2L365.3 267.9L365.3 269.2L368.0 269.8L367.9 271.6L367.5 272.4L366.3 272.6L365.8 273.8L365.1 274.0L363.0 274.0L362.0 273.8L361.3 274.2L360.2 274.0L356.2 274.1L356.2 275.6L356.5 277.6L354.9 276.9L353.9 277.0L353.0 277.7L352.0 277.1L351.6 276.3L350.6 275.7Z" fill="#f7fcf0"/>
<path d="M356.5 277.6L357.1 281.3L356.1 283.5L355.5 286.5L356.5 288.7L356.4 289.8L356.1 292.3L359.3 292.3L362.5 292.3L365.8 292.3L365.4 287.3L364.9 286.4L364.3 284.7L364.1 283.4L364.6 281.1L364.1 280.1L363.9 278.0L363.9 276.2L362.9 274.8L363.0 274.0L362.0 273.8L361.3 274.2L360.2 274.0L356.2 274.1L356.2 275.6L356.5 277.6Z" fill="#ccebc5"/>
<path d="M363.0 274.0L362.9 274.8L363.9 276.2L363.9 278.0L364.1 280.1L364.6 281.1L364.1 283.4L364.3 284.7L364.9 286.4L365.4 287.3L365.5 289.7L367.4 289.7L367.3 286.7L366.7 284.9L366.8 281.9L366.8 278.9L366.4 278.4L366.3 277.1L365.5 276.2L364.8 275.4L365.1 274.0L363.0 274.0Z" fill="#f7fcf0"/>
<path d="M365.1 274.0L364.8 275.4L365.5 276.2L366.3 277.1L366.4 278.4L366.8 278.9L366.8 281.9L366.7 284.9L367.3 286.7L367.4 289.7L369.2 289.7L369.2 286.4L369.3 282.2L369.3 280.6L369.7 278.9L370.4 278.1L371.5 276.5L371.3 275.8L371.7 274.7L371.2 273.2L371.3 272.3L369.5 270.8L368.7 270.8L367.9 271.6L367.5 272.4L366.3 272.6L365.8 273.8L365.1 274.0Z" fill="#f7fcf0"/>
<path d="M372.7 252.7L375.9 251.6L379.1 249.0L382.4 246.4L386.2 243.9L390.0 241.4L393.6 242.6L394.9 244.0L396.5 243.0L397.2 247.1L398.0 247.8L398.1 248.6L399.0 249.5L398.6 250.6L398.2 253.3L397.8 255.9L397.8 259.3L394.9 261.8L394.0 265.2L393.9 267.1L393.0 267.2L391.2 268.7L389.4 268.0L388.2 267.8L387.5 268.2L386.2 268.1L384.8 269.2L383.7 269.3L380.9 267.9L379.8 268.6L378.6 268.5L377.8 267.5L375.5 266.5L373.0 266.9L372.4 267.4L372.1 268.9L371.4 270.0L371.3 272.3L369.5 270.8L368.7 270.8L367.9 271.6L368.0 269.8L365.3 269.2L365.3 267.9L364.0 266.2L363.7 265.1L363.8 263.8L365.3 263.7L366.2 262.8L369.3 262.5L371.3 262.1L371.5 260.5L372.7 258.8L372.7 255.7L372.7 252.7Z" fill="#f7fcf0"/>
<path d="M371.3 272.3L371.2 273.2L371.7 274.7L371.3 275.8L371.5 276.5L370.4 278.1L369.7 278.9L369.3 280.6L369.3 282.2L369.2 286.4L369.2 289.7L373.5 291.5L377.8 293.2L382.2 295.0L382.6 290.3L383.2 288.5L384.3 286.0L384.9 285.9L386.3 284.4L387.2 284.3L388.5 285.4L390.1 284.6L390.3 283.5L390.8 282.4L391.1 281.1L392.3 280.0L392.8 278.2L393.3 277.6L393.6 276.2L394.2 274.6L396.1 272.6L396.2 271.7L396.4 271.2L395.5 270.2L395.6 269.3L393.9 267.1L393.0 267.2L391.2 268.7L389.4 268.0L388.2 267.8L387.5 268.2L386.2 268.1L384.8 269.2L383.7 269.3L380.9 267.9L379.8 268.6L378.6 268.5L377.8 267.5L375.5 266.5L373.0 266.9L372.4 267.4L372.1 268.9L371.4 270.0L371.3 272.3Z" fill="#f7fcf0"/>
<path d="M384.0 223.6L382.9 218.9L381.6 217.8L381.5 217.2L379.7 215.6L379.4 213.7L380.7 212.2L381.2 210.0L380.8 207.6L381.2 206.2L381.2 202.7L384.5 203.1L387.7 203.5L388.6 207.0L389.5 210.4L390.3 213.9L388.2 216.2L388.1 218.2L387.1 218.9L386.4 219.8L385.0 220.8L385.2 221.9L385.1 223.0L384.0 223.6Z" fill="#f7fcf0"/>
<path d="M384.0 223.6L385.1 223.0L385.2 221.9L385.0 220.8L386.4 219.8L387.1 218.9L388.1 218.2L388.2 216.2L388.1 212.6L392.4 212.8L396.6 213.0L400.9 213.2L405.2 213.4L409.5 213.5L413.8 213.7L418.1 213.9L418.3 217.1L418.5 220.3L417.8 221.5L418.2 222.6L417.8 224.3L418.6 226.4L418.8 231.0L419.1 235.7L419.3 240.5L419.5 245.3L419.6 247.9L419.7 250.5L417.1 250.5L417.1 251.6L412.5 249.1L407.9 246.6L403.3 244.1L398.8 241.6L396.5 243.0L394.9 244.0L393.6 242.6L390.0 241.4L387.7 239.5L385.4 237.6L385.2 236.5L383.9 234.6L384.8 233.5L384.5 231.9L384.8 230.4L384.6 229.2L384.9 227.1L384.8 225.9L384.0 223.6Z" fill="#f7fcf0"/>
<path d="M419.5 245.3L419.3 240.5L419.1 235.7L418.8 231.0L418.6 226.4L417.8 224.3L418.2 222.6L417.8 221.5L418.5 220.3L418.3 216.5L422.6 216.9L426.9 217.2L431.2 217.5L435.5 217.8L438.7 221.2L440.5 225.7L439.4 230.6L442.1 234.7L444.9 238.7L447.6 242.7L446.3 245.3L441.9 245.3L437.4 245.3L433.0 245.3L428.6 245.3L425.6 245.3L422.5 245.3L419.5 245.3Z" fill="#e0f3db"/>
<path id="c_Chad" d="M393.9 267.1L394.0 265.2L394.9 261.8L397.8 259.3L397.8 255.9L398.2 253.3L398.6 250.6L399.0 249.5L398.1 248.6L398.0 247.8L397.2 247.1L396.5 243.0L398.8 241.6L403.3 244.1L407.9 246.6L412.5 249.1L417.1 251.6L417.3 256.8L417.6 262.0L415.6 261.8L414.6 263.7L414.0 265.3L414.5 266.0L413.8 266.8L414.1 267.8L413.5 268.9L413.3 269.9L414.1 269.7L414.6 270.7L414.7 272.3L415.5 273.1L415.5 273.7L414.1 274.1L412.9 275.2L411.3 278.0L409.1 279.2L406.9 279.1L406.3 279.3L406.5 280.2L405.3 281.2L404.4 282.2L401.5 283.2L400.9 282.6L400.5 282.5L400.1 283.2L398.2 283.4L398.6 282.7L397.8 280.9L397.5 279.8L396.5 279.4L395.1 277.8L395.6 276.6L396.6 276.9L397.3 276.7L398.6 276.7L397.3 272.6L397.2 270.9L396.2 269.2L395.6 269.3L393.9 267.1Z" fill="url(#h)" stroke="#c9c9c9"/>
<path d="M417.1 251.6L417.1 250.5L419.7 250.5L419.6 247.9L419.5 245.3L422.5 245.3L425.6 245.3L428.6 245.3L433.0 245.3L437.4 245.3L441.9 245.3L446.3 245.3L448.7 242.7L450.1 246.2L451.4 249.6L452.7 253.1L450.4 255.7L449.3 257.2L447.7 257.7L447.0 258.5L446.9 260.2L446.1 264.1L446.3 265.1L446.1 267.4L445.2 269.9L443.9 271.2L443.0 273.2L442.8 274.3L441.7 275.0L441.1 277.8L440.8 278.0L440.8 276.7L440.5 275.8L439.3 274.8L439.0 272.9L439.2 271.0L438.1 270.8L438.0 271.4L436.6 271.5L437.2 272.3L437.4 273.8L436.2 275.3L435.1 277.2L433.9 277.4L431.9 275.9L431.1 276.4L430.9 277.2L429.7 277.7L429.6 278.2L427.3 278.2L427.0 277.7L425.3 277.6L424.5 278.0L423.9 277.8L422.7 276.3L422.3 275.6L420.6 276.0L420.0 277.2L419.5 279.5L418.7 280.0L418.0 280.3L417.0 279.4L416.8 278.6L417.2 277.5L417.1 276.4L415.8 274.8L415.5 273.7L415.5 273.1L414.7 272.3L414.6 270.7L414.1 269.7L413.3 269.9L413.5 268.9L414.1 267.8L413.8 266.8L414.5 266.0L414.0 265.3L414.6 263.7L415.6 261.8L417.6 262.0L417.3 256.8L417.1 251.6Z" fill="#ccebc5"/>
<path d="M395.6 269.3L395.5 270.2L396.4 271.2L396.2 271.7L396.1 272.6L394.2 274.6L393.6 276.2L393.3 277.6L392.8 278.2L392.3 280.0L391.1 281.1L390.8 282.4L390.3 283.5L390.1 284.6L388.5 285.4L387.2 284.3L386.3 284.4L384.9 285.9L384.3 286.0L383.2 288.5L382.6 290.3L381.0 291.6L381.8 294.6L382.6 297.6L385.3 296.8L389.0 296.9L390.1 296.7L391.5 297.1L392.9 296.7L393.2 296.9L396.1 297.0L398.0 297.7L399.8 298.3L400.0 296.9L399.7 296.1L399.6 294.9L398.6 294.1L397.7 292.7L397.5 291.8L396.4 290.4L396.6 289.7L396.3 288.6L396.5 286.5L397.1 286.0L398.2 283.4L398.6 282.7L397.8 280.9L397.5 279.8L396.5 279.4L395.1 277.8L395.6 276.6L396.6 276.9L397.3 276.7L398.6 276.7L397.3 272.6L397.2 270.9L396.2 269.2L395.6 269.3Z" fill="#e0f3db"/>
<path id="c_CAR" d="M415.5 273.7L414.1 274.1L412.9 275.2L411.3 278.0L409.1 279.2L406.9 279.1L406.3 279.3L406.5 280.2L405.3 281.2L404.4 282.2L401.5 283.2L400.9 282.6L400.5 282.5L400.1 283.2L398.2 283.4L397.1 286.0L396.5 286.5L396.3 288.6L396.6 289.7L396.4 290.4L397.5 291.8L397.7 292.7L398.6 294.1L399.6 294.9L399.7 296.1L400.0 296.9L401.2 294.4L402.5 293.0L404.1 293.5L405.6 293.7L405.8 291.8L406.7 290.5L407.9 289.7L409.8 290.5L411.3 291.5L413.0 291.8L414.7 292.3L415.4 290.7L415.7 290.5L416.7 290.7L419.3 289.4L420.2 290.0L421.0 289.9L421.3 289.3L422.1 289.0L423.9 289.3L425.4 289.4L426.1 289.1L425.7 288.3L424.0 287.2L423.4 285.7L422.4 284.6L420.8 283.2L420.8 282.3L419.6 281.3L417.8 280.1L417.0 279.4L416.8 278.6L417.2 277.5L417.1 276.4L415.8 274.8L415.5 273.7Z" fill="url(#h)" stroke="#c9c9c9"/>
<path d="M417.0 279.4L418.0 280.3L418.7 280.0L419.5 279.5L420.0 277.2L420.6 276.0L422.3 275.6L422.7 276.3L423.9 277.8L424.5 278.0L425.3 277.6L427.0 277.7L427.3 278.2L429.6 278.2L429.7 277.7L430.9 277.2L431.1 276.4L431.9 275.9L433.9 277.4L435.1 277.2L436.2 275.3L437.4 273.8L437.2 272.3L436.6 271.5L438.0 271.4L438.1 270.8L439.2 271.0L439.0 272.9L439.3 274.8L440.5 275.8L440.8 276.7L440.8 278.0L441.1 277.8L441.2 280.1L440.9 280.9L439.6 281.0L438.9 282.5L440.3 282.6L441.5 283.9L441.9 284.9L443.0 285.6L444.4 288.4L442.8 290.1L441.5 291.7L440.0 292.9L438.4 292.9L436.6 293.5L435.1 292.9L434.1 293.6L432.1 291.9L431.5 290.8L430.3 291.3L429.2 291.1L428.6 291.6L427.5 291.3L426.1 289.1L425.7 288.3L424.0 287.2L423.4 285.7L422.4 284.6L420.8 283.2L420.8 282.3L419.6 281.3L417.8 280.1L417.0 279.4Z" fill="#f7fcf0"/>
<path d="M446.3 265.1L446.1 264.1L446.9 260.2L447.0 258.5L447.7 257.7L449.3 257.2L450.4 255.7L451.2 253.7L453.3 256.3L455.4 258.9L458.7 263.6L462.0 268.3L461.8 269.6L461.1 270.2L460.1 270.0L459.3 269.2L458.3 267.6L457.2 266.8L456.6 265.9L454.6 264.8L453.0 264.8L452.4 264.3L451.1 264.9L449.7 263.7L449.0 265.7L446.3 265.1Z" fill="#f7fcf0"/>
<path d="M441.1 277.8L441.7 275.0L442.8 274.3L443.0 273.2L443.9 271.2L445.2 269.9L446.1 267.4L446.3 265.1L449.0 265.7L449.7 263.7L451.1 264.9L452.4 264.3L453.0 264.8L454.6 264.8L456.6 265.9L457.2 266.8L458.3 267.6L459.3 269.2L460.1 270.0L459.4 271.2L458.6 272.4L458.8 273.1L458.9 273.9L460.2 274.0L460.7 273.8L461.3 274.2L460.8 275.2L461.7 276.6L462.6 277.9L463.5 278.8L467.3 280.3L471.1 281.9L473.0 281.9L469.9 285.8L466.7 289.7L463.7 289.8L461.7 291.7L460.2 291.7L459.6 292.6L458.0 292.6L457.0 291.7L454.9 292.8L454.3 293.9L452.7 293.7L452.2 293.3L451.7 293.4L451.0 293.4L448.0 291.2L446.4 291.2L445.6 290.3L445.6 288.8L444.4 288.4L443.0 285.6L441.9 284.9L441.5 283.9L440.3 282.6L438.9 282.5L439.6 281.0L440.9 280.9L441.2 280.1L441.1 277.8Z" fill="#e0f3db"/>
<path d="M460.1 270.0L461.1 270.2L461.8 269.6L462.9 269.1L463.5 272.0L462.1 272.8L461.6 274.1L461.3 274.2L460.7 273.8L460.2 274.0L458.9 273.9L458.8 273.1L458.6 272.4L459.4 271.2L460.1 270.0Z" fill="#f7fcf0"/>
<path d="M461.3 274.2L461.6 274.1L462.1 272.8L463.9 270.6L467.6 270.0L471.2 269.4L474.8 268.8L478.5 268.1L482.1 267.5L483.5 272.1L484.8 276.7L481.7 281.5L478.6 286.4L475.4 291.2L472.1 296.1L468.9 300.9L465.6 305.8L462.2 310.6L459.0 307.2L457.7 305.0L457.6 300.3L457.6 295.5L459.6 292.6L460.2 291.7L461.7 291.7L463.7 289.8L466.7 289.7L469.9 285.8L473.0 281.9L471.1 281.9L467.3 280.3L463.5 278.8L462.6 277.9L461.7 276.6L460.8 275.2L461.3 274.2Z" fill="#f7fcf0"/>
<path d="M459.6 292.6L457.6 295.5L457.6 300.3L457.7 305.0L459.0 307.2L461.1 308.0L458.8 311.9L456.4 315.9L453.4 315.0L450.1 312.4L445.7 308.9L441.3 305.3L441.3 302.5L441.9 301.4L443.1 299.7L443.9 297.8L442.9 294.8L442.6 293.5L441.5 291.7L442.8 290.1L444.4 288.4L445.6 288.8L445.6 290.3L446.4 291.2L448.0 291.2L451.0 293.4L451.7 293.4L452.2 293.3L452.7 293.7L454.3 293.9L454.9 292.8L457.0 291.7L458.0 292.6L459.6 292.6Z" fill="#f7fcf0"/>
<path id="c_Uganda" d="M441.5 291.7L440.0 292.9L438.4 292.9L436.6 293.5L435.1 292.9L434.1 293.6L434.0 296.7L435.0 297.0L434.2 298.0L433.4 298.7L432.5 300.0L432.0 301.2L431.9 303.3L431.3 304.3L431.3 306.3L431.9 306.6L433.2 305.8L434.1 305.4L436.6 305.5L438.9 305.4L441.3 305.3L441.3 302.5L441.9 301.4L443.1 299.7L443.9 297.8L442.9 294.8L442.6 293.5L441.5 291.7Z" fill="url(#h)" stroke="#c9c9c9"/>
<path d="M389.0 296.9L385.3 296.8L383.5 296.5L383.1 300.4L384.9 300.2L385.7 300.0L389.1 300.0L389.0 296.9Z" fill="#ccebc5"/>
<path d="M389.0 296.9L389.1 300.0L385.7 300.0L384.9 300.2L383.3 299.7L380.3 304.1L382.2 307.6L384.2 311.1L386.1 314.6L388.6 313.2L390.4 311.8L389.5 310.0L390.3 309.4L391.9 309.0L392.0 307.9L393.3 309.2L395.3 309.3L396.0 308.0L396.3 306.3L396.1 304.2L395.0 302.7L396.0 299.7L395.4 299.1L393.7 299.4L393.0 298.0L393.2 296.9L392.9 296.7L391.5 297.1L390.1 296.7L389.0 296.9Z" fill="#a8ddb5"/>
<path d="M388.6 313.2L390.4 311.8L389.5 310.0L390.3 309.4L391.9 309.0L392.0 307.9L393.3 309.2L395.3 309.3L396.0 308.0L396.3 306.3L396.1 304.2L395.0 302.7L396.0 299.7L395.4 299.1L393.7 299.4L393.0 298.0L393.2 296.9L396.1 297.0L398.0 297.7L399.8 298.3L400.0 296.9L401.2 294.4L402.5 293.0L404.1 293.5L405.6 293.7L405.4 295.2L404.8 296.6L404.3 298.3L404.0 300.6L404.2 302.0L403.8 303.0L403.7 303.9L403.5 304.7L402.0 306.0L400.9 307.3L399.9 309.9L399.9 312.1L399.3 312.9L398.0 314.1L396.6 315.8L395.8 315.3L395.6 314.6L394.4 314.6L393.6 315.6L393.0 315.3L392.1 314.4L391.4 314.9L390.5 316.0L387.9 315.9L387.2 313.8L388.6 313.2Z" fill="#e0f3db"/>
<path d="M393.0 315.3L392.1 314.4L391.4 314.9L390.5 316.0L388.4 315.9L388.4 318.5L391.1 317.9L391.7 317.6L391.8 316.5L392.1 315.8L393.0 315.3Z" fill="#ccebc5"/>
<path d="M405.6 293.7L405.4 295.2L404.8 296.6L404.3 298.3L404.0 300.6L404.2 302.0L403.8 303.0L403.7 303.9L403.5 304.7L402.0 306.0L400.9 307.3L399.9 309.9L399.9 312.1L399.3 312.9L398.0 314.1L396.6 315.8L395.8 315.3L395.6 314.6L394.4 314.6L393.6 315.6L393.0 315.3L392.1 315.8L391.8 316.5L391.7 317.6L391.1 317.9L389.0 318.2L389.0 319.3L391.4 318.7L392.4 318.4L393.0 318.4L393.8 318.1L397.2 318.1L400.6 318.2L401.2 320.1L401.8 321.7L402.4 322.5L403.2 323.9L404.7 323.7L405.5 323.3L406.8 323.7L407.1 323.0L407.7 321.5L409.2 321.4L409.3 320.9L410.5 320.9L410.2 321.9L413.0 321.9L413.1 323.5L413.5 324.5L413.2 326.1L413.3 327.7L414.1 328.7L413.9 331.8L414.4 331.5L415.5 331.6L416.9 331.2L417.9 331.4L418.7 331.4L418.8 332.2L419.9 332.2L421.4 332.4L422.1 333.6L423.9 334.0L425.3 333.2L425.8 334.5L427.6 334.9L428.4 336.0L429.3 337.4L431.0 337.5L430.9 334.6L430.3 335.1L428.7 334.1L428.1 333.6L428.5 331.0L428.9 327.9L428.4 326.7L429.1 325.1L429.7 324.8L432.9 324.3L433.8 324.6L432.6 321.3L431.3 319.8L430.8 318.3L431.1 317.0L430.7 314.6L430.6 311.4L430.0 310.2L430.2 308.8L430.5 308.6L430.6 307.0L431.3 306.3L431.3 304.3L431.9 303.3L432.0 301.2L432.5 300.0L433.4 298.7L434.2 298.0L435.0 297.0L434.0 296.7L434.1 293.6L432.1 291.9L431.5 290.8L430.3 291.3L429.2 291.1L428.6 291.6L427.5 291.3L426.1 289.1L425.4 289.4L423.9 289.3L422.1 289.0L421.3 289.3L421.0 289.9L420.2 290.0L419.3 289.4L416.7 290.7L415.7 290.5L415.4 290.7L414.7 292.3L413.0 291.8L411.3 291.5L409.8 290.5L407.9 289.7L406.7 290.5L405.8 291.8L405.6 293.7Z" fill="#e0f3db"/>
<path d="M431.3 306.3L431.9 306.6L433.2 305.8L434.2 307.2L434.0 308.8L433.3 309.1L432.1 308.9L431.4 310.4L430.0 310.2L430.2 308.8L430.5 308.6L430.6 307.0L431.3 306.3Z" fill="#f7fcf0"/>
<path d="M430.0 310.2L431.4 310.4L432.1 308.9L433.3 309.1L433.5 310.1L433.9 310.7L434.0 311.6L433.4 312.1L432.5 313.5L431.6 314.4L430.7 314.6L430.6 311.4L430.0 310.2Z" fill="#f7fcf0"/>
<path d="M441.3 305.3L445.7 308.9L450.1 312.4L453.4 315.0L457.6 314.6L458.3 319.4L458.9 324.1L459.5 328.9L455.7 329.8L453.8 331.3L451.2 332.3L449.9 332.3L449.0 333.0L447.4 333.1L446.8 333.4L444.1 332.7L442.3 332.9L441.8 329.4L441.0 328.1L440.6 327.4L438.4 326.9L437.1 326.1L435.6 325.7L434.7 325.3L433.8 324.6L432.6 321.3L431.3 319.8L430.8 318.3L431.1 317.0L430.7 314.6L431.6 314.4L432.5 313.5L433.4 312.1L434.0 311.6L433.9 310.7L433.5 310.1L433.3 309.1L434.0 308.8L434.2 307.2L433.2 305.8L434.1 305.4L436.6 305.5L438.9 305.4L441.3 305.3Z" fill="#f7fcf0"/>
<path d="M417.9 331.4L416.9 331.2L415.5 331.6L414.4 331.5L413.9 331.8L414.1 328.7L413.3 327.7L413.2 326.1L413.5 324.5L413.1 323.5L413.0 321.9L410.2 321.9L410.5 320.9L409.3 320.9L409.2 321.4L407.7 321.5L407.1 323.0L406.8 323.7L405.5 323.3L404.7 323.7L403.2 323.9L402.4 322.5L401.8 321.7L401.2 320.1L400.6 318.2L397.2 318.1L393.8 318.1L393.0 318.4L392.4 318.4L391.4 318.7L387.2 319.3L386.8 324.1L386.4 329.0L385.9 333.9L385.5 338.8L385.1 343.7L384.6 348.5L387.2 348.3L389.7 348.0L390.9 347.5L392.2 347.1L393.7 347.2L395.0 348.3L395.4 348.2L398.5 348.1L401.5 348.1L404.6 348.1L406.2 349.3L408.9 349.5L411.7 349.7L415.9 348.6L414.4 347.0L413.0 344.8L413.1 340.7L413.3 336.5L415.7 336.5L418.1 336.5L417.9 335.7L418.2 334.7L417.8 333.4L418.2 332.2L417.9 331.4Z" fill="#ccebc5"/>
<path d="M433.8 324.6L432.9 324.3L429.7 324.8L429.1 325.1L428.4 326.7L428.9 327.9L428.5 331.0L428.1 333.6L428.7 334.1L430.3 335.1L430.9 334.6L431.0 337.5L429.3 337.4L428.4 336.0L427.6 334.9L425.8 334.5L425.3 333.2L423.9 334.0L422.1 333.6L421.4 332.4L419.9 332.2L418.8 332.2L418.7 331.4L417.9 331.4L418.2 332.2L417.8 333.4L418.2 334.7L417.9 335.7L418.1 336.5L415.7 336.5L413.3 336.5L413.1 340.7L413.0 344.8L414.4 347.0L415.9 348.6L417.8 348.0L419.2 348.2L420.1 348.8L420.5 349.2L423.1 349.5L423.8 349.8L424.5 349.7L425.9 348.0L428.0 345.9L428.8 345.6L429.1 344.7L430.4 343.7L432.2 343.3L432.0 341.5L435.5 340.4L439.0 339.3L437.9 338.6L438.6 336.2L439.4 335.3L439.0 333.2L439.5 331.0L439.9 330.3L439.4 328.1L438.4 326.9L437.1 326.1L435.6 325.7L434.7 325.3L433.8 324.6Z" fill="#a8ddb5"/>
<path d="M438.4 326.9L440.6 327.4L441.0 328.1L441.8 329.4L442.3 332.9L441.6 334.9L442.2 338.3L443.0 338.3L443.7 339.1L444.6 341.0L444.7 344.4L443.7 344.9L442.9 346.7L441.5 345.1L441.4 343.3L441.9 342.0L441.8 341.0L440.9 340.3L440.3 340.6L439.0 339.3L437.9 338.6L438.6 336.2L439.4 335.3L439.0 333.2L439.5 331.0L439.9 330.3L439.4 328.1L438.4 326.9Z" fill="#f7fcf0"/>
<path d="M442.3 332.9L444.1 332.7L446.8 333.4L447.4 333.1L449.0 333.0L449.9 332.3L451.2 332.3L453.8 331.3L455.7 329.8L459.5 328.9L459.8 333.3L460.0 337.7L460.2 342.0L457.8 346.4L455.5 350.7L453.2 355.1L450.8 359.4L448.5 363.8L446.1 368.2L442.5 371.4L438.9 374.7L436.5 372.7L434.8 372.7L434.7 371.5L434.4 370.4L434.3 369.4L434.8 366.5L434.4 364.7L433.5 361.0L436.0 358.0L436.7 356.1L437.0 355.9L437.4 354.4L437.0 353.6L437.2 351.6L437.8 349.8L437.9 346.5L436.8 345.6L435.7 345.5L435.2 344.8L434.2 344.3L432.3 344.3L432.2 343.3L432.0 341.5L435.5 340.4L439.0 339.3L440.3 340.6L440.9 340.3L441.8 341.0L441.9 342.0L441.4 343.3L441.5 345.1L442.9 346.7L443.7 344.9L444.7 344.4L444.6 341.0L443.7 339.1L443.0 338.3L442.2 338.3L441.6 334.9L442.3 332.9Z" fill="#ccebc5"/>
<path d="M432.2 343.3L430.4 343.7L429.1 344.7L428.8 345.6L428.0 345.9L425.9 348.0L424.5 349.7L423.8 349.8L423.1 349.5L420.5 349.2L421.3 351.3L421.8 351.7L422.4 353.2L424.9 356.1L425.8 356.4L425.8 357.3L426.4 359.0L428.1 359.4L429.5 360.5L430.4 360.6L431.5 361.0L432.3 360.7L433.5 361.0L436.0 358.0L436.7 356.1L437.0 355.9L437.4 354.4L437.0 353.6L437.2 351.6L437.8 349.8L437.9 346.5L436.8 345.6L435.7 345.5L435.2 344.8L434.2 344.3L432.3 344.3L432.2 343.3Z" fill="#ccebc5"/>
<path d="M415.9 348.6L411.7 349.7L408.9 349.5L406.2 349.3L404.6 348.1L401.5 348.1L398.5 348.1L395.4 348.2L395.0 348.3L393.7 347.2L392.2 347.1L390.9 347.5L389.7 348.0L387.2 348.3L384.6 348.5L386.5 353.6L388.3 358.6L390.1 363.6L391.8 368.6L393.6 373.6L395.2 378.6L399.4 377.5L400.5 376.2L401.4 376.9L401.7 378.0L402.7 378.2L404.0 378.7L405.3 378.5L407.3 377.2L407.5 372.4L407.7 367.6L407.9 363.7L408.0 359.9L410.2 359.8L410.4 355.2L410.6 350.5L412.3 350.4L415.8 349.5L416.6 350.6L418.1 349.6L418.8 349.6L420.5 349.2L420.1 348.8L419.2 348.2L417.8 348.0L415.9 348.6Z" fill="#ccebc5"/>
<path d="M420.5 349.2L418.8 349.6L418.1 349.6L416.6 350.6L415.8 349.5L412.3 350.4L410.6 350.5L410.4 355.2L410.2 359.8L408.0 359.9L407.9 363.7L407.7 367.6L408.3 367.9L409.6 370.4L409.3 372.0L409.7 372.9L411.4 372.7L412.5 371.5L413.6 370.7L414.2 369.5L415.3 368.9L416.3 369.2L417.3 369.9L419.1 370.0L420.6 369.4L420.9 368.6L421.3 367.4L422.6 367.2L423.3 366.2L424.1 364.4L426.2 362.5L429.5 360.5L428.1 359.4L426.4 359.0L425.8 357.3L425.8 356.4L424.9 356.1L422.4 353.2L421.8 351.7L421.3 351.3L420.5 349.2Z" fill="#f7fcf0"/>
<path d="M407.7 367.6L407.5 372.4L407.3 377.2L405.3 378.5L404.0 378.7L402.7 378.2L401.7 378.0L401.4 376.9L400.5 376.2L399.4 377.5L395.2 378.6L396.4 383.2L397.6 387.8L398.8 392.3L399.9 396.9L403.9 396.9L407.9 396.9L411.9 396.9L416.0 396.9L420.0 396.9L424.0 396.9L428.0 396.9L430.2 392.5L432.4 388.0L434.6 383.6L436.8 379.1L438.9 374.7L436.5 372.7L434.8 372.7L434.7 371.5L434.4 370.4L434.3 369.4L434.8 366.5L434.4 364.7L433.5 361.0L432.3 360.7L431.5 361.0L430.4 360.6L429.5 360.5L426.2 362.5L424.1 364.4L423.3 366.2L422.6 367.2L421.3 367.4L420.9 368.6L420.6 369.4L419.1 370.0L417.3 369.9L416.3 369.2L415.3 368.9L414.2 369.5L413.6 370.7L412.5 371.5L411.4 372.7L409.7 372.9L409.3 372.0L409.6 370.4L408.3 367.9L407.7 367.6Z" fill="#f7fcf0"/>
<path d="M434.8 372.7L434.2 373.9L432.9 374.1L431.7 372.7L431.7 371.8L432.4 370.8L432.6 370.1L433.3 369.9L434.4 370.4L434.7 371.5Z" fill="#a8ddb5"/>
<path id="c_Lesotho" d="M427.5 378.5L428.2 379.3L427.4 380.5L426.9 381.4L425.7 381.8L425.2 382.7L424.4 382.9L422.9 380.9L424.2 379.2L425.4 378.2L426.5 377.7Z" fill="url(#h)" stroke="#c9c9c9"/>
<path id="c_Madagascar" d="M460.6 332.9L464.7 332.9L468.8 332.9L473.0 332.9L477.1 332.9L481.2 332.9L481.0 337.8L480.7 342.7L480.4 347.6L480.0 352.5L479.6 357.4L479.2 362.3L478.8 367.2L478.3 372.1L474.3 372.1L470.2 372.1L466.2 372.1L462.2 372.1L458.2 372.1L458.6 367.2L458.9 362.3L459.3 357.4L459.6 352.5L459.9 347.6L460.1 342.7L460.4 337.8Z" fill="url(#h)" stroke="#c9c9c9"/>
<path d="M400.0 163.1L402.7 163.1L405.5 163.1L408.2 163.1L407.8 160.3L407.4 157.6L411.0 157.6L414.6 157.6L413.9 153.6L413.1 149.5L412.3 145.5L411.1 141.3L409.9 137.1L408.6 133.0L407.4 128.9L406.1 125.0L408.5 124.6L410.9 124.2L413.3 123.9L414.7 119.8L415.8 115.8L416.8 111.9L417.5 108.1L418.0 104.6L418.5 101.4L421.2 101.4L423.9 101.4L426.6 101.4L429.3 101.4L432.0 101.4L434.7 101.4L437.4 101.4L440.1 101.4L442.8 101.4L445.5 101.4L448.2 101.4L450.9 101.4L453.6 101.4L456.3 101.4L459.0 101.4L461.7 101.4L464.4 101.4L467.1 101.4L469.8 101.4L472.5 101.4L475.2 101.4L477.9 101.4L480.6 101.4L483.3 101.4L486.0 101.4L488.7 101.4L491.4 101.4L494.1 101.4L496.8 101.4L499.5 101.4L502.2 101.4L504.9 101.4L507.6 101.4L510.3 101.4L513.0 101.4L515.7 101.4L519.1 101.8L522.5 102.3L526.0 102.7L529.5 103.2L533.0 103.6L536.5 104.1L540.1 104.6L543.6 105.0L547.2 105.5L550.9 106.0L554.6 106.5L558.3 107.0L562.0 107.5L565.8 108.0L569.6 108.5L573.4 109.1L577.3 109.6L581.1 110.1L585.0 110.7L589.0 111.2L592.9 111.7L596.8 112.3L600.8 112.8L604.8 113.4L608.8 113.9L612.8 114.5L616.8 115.0L620.8 115.6L624.8 116.1L628.9 116.7L632.9 117.2L637.0 117.8L641.1 118.4L645.2 118.9L649.4 119.5L653.5 120.1L657.6 120.7L664.6 124.7L671.3 128.9L677.7 133.1L684.1 137.4L690.3 141.8L696.4 146.2L702.3 150.8L708.2 155.3L713.8 159.9L719.2 164.6L724.4 169.3L729.3 174.1L733.8 178.9L738.2 183.7L742.4 188.5L746.5 193.4L750.3 198.3L746.2 198.3L742.1 198.3L738.0 198.3L733.9 198.3L729.8 198.3L725.7 198.3L721.6 198.3L717.5 198.3L713.4 198.3L709.3 198.3L705.2 198.3L701.1 198.3L697.0 198.3L692.9 198.3L688.8 198.3L684.7 198.3L680.6 198.3L676.5 198.3L672.4 198.3L668.3 198.3L664.1 198.3L660.0 198.3L655.9 198.3L651.8 198.3L647.7 198.3L643.6 198.3L639.5 198.3L635.4 198.3L633.0 194.0L630.5 189.6L627.9 185.4L623.9 185.4L619.8 185.4L615.8 185.4L611.7 185.4L607.7 185.4L603.6 185.4L599.6 185.4L595.5 185.4L591.5 185.4L587.5 185.4L583.4 185.4L579.4 185.4L575.3 185.4L571.3 185.4L567.2 185.4L563.2 185.4L559.1 185.4L555.1 185.4L551.0 185.4L547.0 185.4L543.0 185.4L538.9 185.4L535.1 185.9L531.3 186.5L527.4 187.0L523.5 187.6L519.7 188.1L515.8 188.7L511.9 189.3L508.0 189.8L504.1 190.4L500.2 191.0L496.2 191.5L492.3 192.1L488.3 192.6L484.3 193.2L480.4 193.8L476.4 194.3L472.4 194.9L468.4 195.5L464.3 196.0L460.3 196.6L456.3 197.1L452.2 197.7L448.1 198.3L444.5 193.5L440.9 188.8L437.3 184.1L436.6 180.2L435.9 176.4L435.2 172.6L431.5 172.6L427.9 172.6L424.3 172.6L420.7 172.6L417.1 172.6L413.6 170.7L410.2 168.8L406.8 166.9L403.4 165.0Z" fill="#7bccc4"/>
<path d="M42.5 138.3L45.6 138.3L48.8 138.3L52.0 138.3L55.1 138.3L58.3 138.3L61.4 138.3L64.6 138.3L70.1 134.2L75.7 130.1L81.5 126.2L87.5 122.3L93.7 118.5L90.9 118.5L88.0 118.5L85.2 118.5L82.3 118.5L79.5 118.5L76.6 118.5L73.7 118.5L67.1 122.3L60.6 126.2L54.4 130.1L48.4 134.2Z" fill="#7bccc4"/>
<path d="M414.9 125.9L412.3 126.8L411.0 127.0L411.3 125.5L408.9 124.6L406.5 125.3L406.1 127.0L404.7 127.9L402.8 127.4L400.6 127.5L398.5 126.3L397.6 126.9L396.6 127.0L396.6 128.5L393.4 128.1L393.1 129.4L391.5 129.4L390.6 131.0L389.2 133.5L386.8 136.7L387.6 137.5L387.0 138.4L385.3 138.3L384.3 140.5L384.7 143.6L386.0 144.9L385.7 147.6L384.3 149.3L383.6 150.7L382.8 151.3L380.0 153.7L377.1 153.5L374.3 153.2L371.5 153.0L368.6 152.7L368.5 148.7L368.5 144.8L368.4 140.8L371.5 137.6L374.5 134.4L377.4 131.2L380.2 128.0L382.9 125.0L385.6 124.1L388.2 123.2L390.8 122.3L393.3 121.4L395.9 120.5L398.4 119.6L401.5 120.0L404.7 120.4L407.9 120.9L411.1 121.3L414.3 121.7L417.8 125.0L414.9 125.9Z" fill="#084081"/>
<path d="M375.3 112.4L378.1 112.4L380.9 112.4L383.7 112.4L386.5 112.4L389.3 112.4L392.1 112.4L394.9 112.4L397.7 112.4L400.5 112.4L403.3 112.4L406.1 112.4L408.9 112.4L407.6 108.8L406.3 105.3L405.0 102.2L402.4 102.2L399.9 102.2L397.3 102.2L394.7 102.2L392.2 102.2L389.6 102.2L387.0 102.2L384.5 102.2L381.9 102.2L379.3 102.2L376.8 102.2L374.2 102.2L374.5 105.3L374.9 108.8Z" fill="#084081"/>
<path d="M397.6 126.9L396.6 127.0L396.6 128.5L393.4 128.1L393.1 129.4L391.5 129.4L390.6 131.0L389.2 133.5L386.8 136.7L387.6 137.5L387.0 138.4L385.3 138.3L384.3 140.5L384.7 143.6L386.0 144.9L385.7 147.6L384.3 149.3L383.6 150.7L383.2 151.8L384.8 155.2L387.1 157.4L387.4 158.9L389.0 159.8L391.9 159.6L394.7 159.4L397.4 157.3L400.0 155.2L400.0 152.1L400.1 149.1L398.7 145.1L400.4 142.0L402.1 139.0L404.8 135.3L404.5 133.9L403.7 133.0L403.0 129.5L400.1 128.0L397.6 126.9Z" fill="#2b8cbe"/>
<path d="M411.0 127.0L411.3 125.5L408.9 124.6L406.5 125.3L406.1 127.0L404.7 127.9L402.8 127.4L400.6 127.5L398.5 126.3L397.6 126.9L400.1 128.0L403.0 129.5L403.7 133.0L404.5 133.9L404.1 135.7L402.1 137.8L400.1 139.9L399.7 143.2L400.3 145.8L400.9 148.4L403.2 148.8L405.6 149.1L408.3 148.6L411.0 148.2L413.7 147.7L414.5 146.7L416.2 145.2L417.8 143.7L419.1 142.3L419.5 141.1L416.5 139.5L416.9 138.0L414.9 136.3L415.6 134.3L412.9 131.8L414.1 130.1L411.1 128.6L411.0 127.0Z" fill="#4eb3d3"/>
<path d="M414.9 149.2L415.2 149.6L414.2 151.0L415.2 153.3L414.5 154.0L412.9 154.0L411.2 153.1L410.3 152.8L408.8 153.3L407.8 153.0L405.6 153.2L403.5 153.5L402.9 149.6L405.1 149.1L407.4 148.5L411.0 148.5L414.7 148.5L414.9 149.2Z" fill="#f7fcf0"/>
<path d="M415.2 153.3L414.5 154.0L412.9 154.0L411.2 153.1L410.3 152.8L408.8 153.3L408.4 154.5L406.9 154.5L405.3 152.9L402.2 153.7L402.2 157.4L403.3 157.6L405.3 156.8L408.6 157.0L410.4 156.7L410.7 157.2L411.8 157.4L413.8 158.6L414.9 158.2L416.8 157.2L415.9 155.8L415.7 154.6L415.2 153.3Z" fill="#7bccc4"/>
<path d="M413.8 158.6L411.8 157.4L410.7 157.2L410.4 156.7L408.6 157.0L405.3 156.8L403.3 157.6L402.6 157.5L402.8 159.4L403.9 159.6L406.0 160.0L406.9 160.4L406.8 161.1L407.1 161.7L408.1 162.0L408.7 162.8L410.6 162.8L412.5 161.9L412.8 160.5L414.2 159.7L413.8 158.6Z" fill="#e0f3db"/>
<path d="M407.1 161.7L403.5 161.8L401.1 161.5L401.0 161.1L397.7 159.8L394.5 160.7L392.5 161.4L390.6 162.1L390.5 163.2L391.1 164.4L390.6 165.1L391.4 166.0L392.0 167.3L391.9 168.2L392.0 170.1L392.9 169.8L393.9 170.6L395.4 170.8L395.3 171.5L396.5 172.0L396.7 171.4L398.1 171.7L398.4 172.5L399.9 172.6L400.9 173.9L401.0 174.0L401.8 173.7L403.0 174.6L404.1 174.0L405.1 174.3L406.5 173.9L408.5 174.9L409.0 175.1L408.3 173.9L409.9 171.8L410.8 171.5L410.9 170.8L409.6 168.6L409.4 167.5L408.6 166.3L409.8 165.8L409.6 164.8L408.9 163.9L408.7 162.8L408.1 162.0L407.1 161.7Z" fill="#f7fcf0"/>
<path d="M416.8 157.2L414.9 158.2L413.8 158.6L414.2 159.7L412.8 160.5L412.5 161.9L410.6 162.8L408.7 162.8L408.9 163.9L409.6 164.8L409.8 165.8L408.6 166.3L409.4 167.5L409.6 168.6L410.6 168.5L411.5 167.8L413.1 167.8L415.1 168.0L417.4 168.6L419.0 168.6L419.8 169.0L420.4 168.6L421.0 169.1L422.8 169.0L423.7 169.3L423.6 168.0L424.1 167.5L425.7 167.3L424.9 165.7L424.3 164.9L424.6 164.6L426.2 164.7L426.9 164.2L426.2 163.5L424.8 163.1L424.8 162.6L423.9 162.2L422.4 160.6L422.7 159.9L422.3 158.7L420.3 158.1L419.3 158.4L418.9 157.8L416.8 157.2Z" fill="#f7fcf0"/>
<path id="c_Ukraine" d="M409.6 168.6L410.9 170.8L410.8 171.5L409.9 171.8L408.3 173.9L409.0 175.1L408.5 174.9L408.0 175.6L407.8 176.6L408.9 177.3L409.2 178.0L410.0 177.4L411.3 177.7L412.6 177.7L413.6 178.3L414.2 178.0L415.7 177.7L416.1 177.1L417.0 177.1L417.4 176.7L418.7 176.5L420.3 177.3L421.2 177.4L422.2 178.1L422.2 178.9L423.0 179.3L423.5 180.4L424.3 181.1L424.2 181.4L424.6 181.7L424.1 181.9L422.9 181.8L422.6 181.5L422.2 181.7L422.4 182.1L422.0 182.9L421.7 183.8L421.3 184.1L422.2 184.6L423.2 184.2L424.2 184.6L424.7 185.6L427.1 184.8L429.2 185.4L432.7 187.9L435.5 187.0L438.3 186.1L439.0 184.6L439.9 181.5L441.1 180.0L440.9 178.8L441.8 178.1L443.8 177.9L443.9 177.1L443.2 175.7L443.7 174.3L443.5 173.6L440.4 172.8L439.2 172.8L437.7 171.6L436.3 172.0L433.6 171.1L433.5 170.7L432.6 169.5L431.0 169.4L430.6 168.6L431.0 168.1L429.5 166.7L427.5 167.0L426.9 166.8L426.5 167.4L425.7 167.3L424.1 167.5L423.6 168.0L423.7 169.3L422.8 169.0L421.0 169.1L420.4 168.6L419.8 169.0L419.0 168.6L417.4 168.6L415.1 168.0L413.1 167.8L411.5 167.8L410.6 168.5L409.6 168.6Z" fill="url(#h)" stroke="#c9c9c9"/>
<path d="M417.0 177.1L417.6 177.4L418.4 178.1L419.2 179.2L420.6 180.7L420.8 181.8L420.7 182.9L421.3 184.1L421.7 183.8L422.0 182.9L422.4 182.1L422.2 181.7L422.6 181.5L422.9 181.8L424.1 181.9L424.6 181.7L424.2 181.4L424.3 181.1L423.5 180.4L423.0 179.3L422.2 178.9L422.2 178.1L421.2 177.4L420.3 177.3L418.7 176.5L417.4 176.7L417.0 177.1Z" fill="#f7fcf0"/>
<path d="M392.0 170.1L391.9 168.2L392.0 167.3L391.4 166.0L390.6 165.1L391.1 164.4L390.5 163.2L390.5 161.6L386.9 160.5L384.7 160.8L382.9 160.7L382.1 160.1L379.5 160.2L378.8 159.8L376.2 162.6L376.5 163.9L376.9 164.7L376.5 167.0L376.0 167.9L374.8 167.9L375.3 170.6L375.1 172.3L375.5 172.8L375.5 174.0L376.4 174.6L379.3 175.1L378.4 176.8L378.5 178.7L378.2 178.6L379.9 178.7L380.3 178.1L382.5 178.9L383.2 178.7L384.2 179.5L384.5 178.8L386.3 178.9L387.7 178.4L388.7 178.5L389.4 179.0L389.5 178.6L389.1 176.9L389.8 176.6L390.5 175.4L389.2 174.3L388.2 173.7L387.9 172.7L387.5 171.9L388.9 171.4L389.6 170.8L391.0 170.2L391.4 169.8L392.0 170.1Z" fill="#ccebc5"/>
<path d="M379.5 160.2L382.1 160.1L382.7 160.7L384.7 161.2L387.2 161.1L387.9 158.6L387.0 157.1L383.8 154.7L383.3 152.7L380.7 153.4L378.1 154.0L377.8 157.0L377.5 160.1Z" fill="#f7fcf0"/>
<path d="M375.3 170.6L374.8 167.9L376.0 167.9L376.5 167.0L376.9 164.7L376.5 163.9L375.3 162.8L373.3 163.6L371.4 164.3L368.9 168.6L369.6 169.2L371.0 169.4L372.9 168.9L374.2 170.0L375.3 170.6Z" fill="#f7fcf0"/>
<path d="M375.3 170.6L374.2 170.0L372.9 168.9L371.0 169.4L369.6 169.2L368.0 168.8L368.0 169.7L368.3 170.6L369.2 170.6L370.2 171.6L371.6 172.8L372.6 172.6L374.4 173.8L374.9 174.0L374.6 172.4L375.1 172.3L375.3 170.6Z" fill="#f7fcf0"/>
<path d="M375.5 174.0L375.5 172.8L375.1 172.3L374.6 172.4L374.9 174.0L375.5 174.0Z" fill="#ccebc5"/>
<path d="M368.0 169.7L368.3 170.6L369.2 170.6L370.2 171.6L371.6 172.8L372.6 172.6L374.4 173.8L374.9 174.0L375.5 174.0L376.4 174.6L379.3 175.1L378.4 176.8L378.5 178.7L377.7 179.1L376.7 178.8L376.8 179.5L375.4 180.9L375.4 182.1L376.3 181.7L377.1 182.8L377.0 183.5L377.7 184.5L377.0 185.3L377.6 187.3L378.7 187.6L378.5 188.7L378.3 190.5L375.9 190.9L373.5 191.3L369.9 192.3L369.5 191.9L369.3 191.9L366.8 192.2L364.5 191.0L363.7 191.6L359.9 190.4L359.0 189.4L358.4 187.9L358.7 185.4L358.9 182.8L355.3 180.9L351.8 178.9L351.9 175.1L355.0 173.6L358.0 172.1L361.5 171.2L365.0 170.3L368.0 169.7Z" fill="#a8ddb5"/>
<path d="M359.0 189.4L359.9 190.4L363.7 191.6L364.5 191.0L366.8 192.2L369.3 191.9L369.5 191.9L371.4 193.6L368.3 197.9L365.1 202.2L363.0 206.1L360.8 207.1L358.7 208.2L355.4 208.6L352.2 209.0L349.3 208.7L347.4 206.9L346.9 205.8L346.8 205.0L347.6 204.0L347.9 203.3L347.2 202.5L347.8 200.8L347.0 199.2L347.9 199.0L348.1 197.8L348.4 197.4L348.5 195.4L349.5 194.7L348.9 193.4L347.7 193.3L347.4 193.6L346.1 193.6L345.6 192.4L344.8 192.8L344.0 193.4L341.9 193.1L342.3 190.5L342.6 187.9L345.5 187.5L348.5 187.1L352.0 187.6L355.5 188.0L359.0 188.4L359.0 189.4Z" fill="#a8ddb5"/>
<path d="M344.0 193.4L344.8 192.8L345.6 192.4L346.1 193.6L347.4 193.6L347.7 193.3L348.9 193.4L349.5 194.7L348.5 195.4L348.4 197.4L348.1 197.8L347.9 199.0L347.0 199.2L347.8 200.8L347.2 202.5L347.9 203.3L347.6 204.0L346.8 205.0L346.9 205.8L346.8 207.4L343.9 207.4L340.9 207.4L341.1 202.8L341.3 198.2L341.5 193.6L344.0 193.4Z" fill="#7bccc4"/>
<path d="M382.5 178.9L380.3 178.1L379.9 178.7L378.2 178.6L378.5 178.7L377.7 179.1L376.7 178.8L376.8 179.5L375.4 180.9L375.4 182.1L376.3 181.7L377.1 182.8L378.0 183.3L379.0 183.2L380.1 182.4L380.5 182.8L381.4 182.7L381.8 181.7L383.4 182.0L384.2 181.6L384.4 180.5L383.3 180.4L382.4 180.0L382.6 179.3L382.5 178.9Z" fill="#4eb3d3"/>
<path d="M390.5 175.4L389.8 176.6L389.1 176.9L389.5 178.6L389.4 179.0L388.7 178.5L387.7 178.4L386.3 178.9L384.5 178.8L384.2 179.5L383.2 178.7L382.5 178.9L382.6 179.3L382.4 180.0L383.3 180.4L384.4 180.5L385.6 180.9L385.8 180.4L387.8 179.9L388.3 180.8L391.3 181.5L393.0 181.7L394.0 181.1L395.8 181.0L396.2 180.6L396.7 178.9L396.3 178.4L397.4 178.4L397.5 177.4L397.2 176.5L397.3 176.1L396.3 175.7L395.4 175.8L393.8 175.0L393.1 175.2L392.0 176.2L390.5 175.4Z" fill="#4eb3d3"/>
<path d="M400.9 173.9L399.9 172.6L398.4 172.5L398.1 171.7L396.7 171.4L396.5 172.0L395.3 171.5L395.4 170.8L393.9 170.6L392.9 169.8L392.0 170.1L391.4 169.8L391.0 170.2L389.6 170.8L388.9 171.4L387.5 171.9L387.9 172.7L388.2 173.7L389.2 174.3L390.5 175.4L392.0 176.2L393.1 175.2L393.8 175.0L395.4 175.8L396.3 175.7L397.3 176.1L397.6 175.6L398.5 175.6L399.1 175.4L399.1 175.1L399.5 175.0L399.6 174.4L400.1 174.3L400.3 173.9L400.9 173.9Z" fill="#e0f3db"/>
<path d="M408.5 174.9L406.5 173.9L405.1 174.3L404.1 174.0L403.0 174.6L401.8 173.7L401.0 174.0L400.9 173.9L400.3 173.9L400.1 174.3L399.6 174.4L399.5 175.0L399.1 175.1L399.1 175.4L398.5 175.6L397.6 175.6L397.3 176.1L397.2 176.5L397.5 177.4L398.6 178.0L399.3 178.3L401.0 178.0L401.1 177.5L401.9 177.4L402.9 177.0L403.1 177.2L404.0 176.8L404.4 176.2L405.1 176.1L407.3 176.9L407.8 176.6L408.0 175.6L408.5 174.9Z" fill="#a8ddb5"/>
<path d="M396.2 180.6L396.7 178.9L396.3 178.4L397.4 178.4L397.5 177.4L398.6 178.0L399.3 178.3L401.0 178.0L401.1 177.5L401.9 177.4L402.9 177.0L403.1 177.2L404.0 176.8L404.4 176.2L405.1 176.1L407.3 176.9L407.8 176.6L408.9 177.3L409.2 178.0L408.0 178.5L407.2 180.2L406.2 182.0L404.6 182.5L403.3 182.3L401.8 183.0L401.0 183.4L399.3 182.9L397.6 181.8L397.0 181.5L396.5 180.6L396.2 180.6Z" fill="#f7fcf0"/>
<path d="M377.1 182.8L377.0 183.5L377.7 184.5L377.0 185.3L377.6 187.3L378.7 187.6L378.5 188.7L380.7 188.2L383.5 189.0L384.6 191.5L383.5 195.0L379.5 195.0L379.7 200.1L381.2 202.2L384.4 202.4L387.7 202.7L388.5 206.1L392.5 207.1L396.6 208.2L399.6 205.2L402.7 202.2L403.4 198.3L400.6 195.7L397.7 193.1L395.0 191.5L392.3 190.0L389.5 185.6L390.9 184.1L391.7 183.8L391.2 182.7L391.3 181.5L388.3 180.8L387.8 179.9L385.8 180.4L385.6 180.9L384.4 180.5L384.2 181.6L383.4 182.0L381.8 181.7L381.4 182.7L380.5 182.8L380.1 182.4L379.0 183.2L378.0 183.3L377.1 182.8Z" fill="#a8ddb5"/>
<path d="M380.5 194.8L383.7 194.8L383.5 190.0L380.4 190.0Z" fill="#a8ddb5"/>
<path d="M391.3 181.5L393.0 181.7L394.0 181.1L395.8 181.0L396.2 180.6L396.5 180.6L397.0 181.5L395.4 182.2L395.3 183.2L394.6 183.5L394.6 184.2L393.8 184.1L393.1 183.7L392.7 184.1L391.3 184.1L391.1 183.9L391.7 183.8L391.2 182.7L391.3 181.5Z" fill="#4eb3d3"/>
<path d="M391.3 184.1L392.7 184.1L393.1 183.7L393.8 184.1L394.6 184.2L394.6 183.5L395.3 183.2L395.4 182.2L397.0 181.5L397.6 181.8L399.3 182.9L401.0 183.4L401.8 183.0L402.3 184.0L403.1 184.7L402.4 185.7L401.4 185.1L399.9 185.2L398.1 184.8L397.2 184.8L396.8 185.4L396.0 184.8L395.6 185.8L396.7 187.0L397.3 187.8L398.3 188.8L399.1 189.3L400.0 190.4L401.9 191.4L401.7 191.8L400.9 192.6L397.6 191.3L394.4 190.0L390.6 185.9L390.6 184.1L391.3 184.1Z" fill="#7bccc4"/>
<path d="M402.4 185.7L401.4 185.1L399.9 185.2L398.1 184.8L397.2 184.8L396.8 185.4L396.0 184.8L395.6 185.8L396.7 187.0L397.3 187.8L398.3 188.8L399.1 189.3L400.0 190.4L401.9 191.4L402.1 190.0L402.8 189.4L403.1 189.2L403.6 189.0L403.8 187.8L402.7 186.8L403.1 185.7L402.4 185.7Z" fill="#7bccc4"/>
<path d="M404.6 182.5L403.3 182.3L401.8 183.0L402.3 184.0L403.1 184.7L402.4 185.7L403.1 185.7L402.7 186.8L403.8 187.8L403.6 189.0L403.1 189.2L403.7 189.6L404.1 190.0L404.8 190.2L405.6 190.8L405.5 191.0L405.1 191.6L405.6 192.3L406.2 192.5L406.4 193.5L407.9 192.6L408.4 192.4L409.1 192.3L410.0 192.3L410.4 191.9L410.1 191.6L410.4 190.8L411.1 190.0L409.9 188.9L409.7 187.9L410.1 187.3L409.7 186.9L410.1 186.4L409.6 186.1L409.0 186.7L407.7 185.9L407.4 184.9L406.1 184.3L405.8 183.5L404.6 182.5Z" fill="#7bccc4"/>
<path d="M405.1 191.6L405.5 191.0L406.0 190.8L406.2 189.9L407.2 190.3L407.9 190.9L408.4 191.3L408.7 191.3L408.4 192.4L407.9 192.6L406.7 193.0L406.7 193.5L406.4 193.5L406.2 192.5L405.6 192.3Z" fill="#e0f3db"/>
<path d="M401.9 191.4L401.7 191.8L401.5 192.3L403.1 193.9L403.8 193.4L403.6 192.6L404.4 191.3L404.6 191.8L405.1 191.6L405.5 191.0L405.6 190.8L404.8 190.2L404.1 190.0L403.7 189.6L403.1 189.2L402.8 189.4L402.1 190.0L401.9 191.4Z" fill="#4eb3d3"/>
<path d="M405.1 191.6L404.6 191.8L404.4 191.3L403.6 192.6L403.8 193.4L403.1 193.6L403.2 197.5L405.2 199.3L406.0 199.3L406.9 198.0L406.9 197.2L407.6 196.8L407.5 196.1L406.6 195.4L406.2 194.3L406.4 193.5L406.2 192.5L405.6 192.3L405.1 191.6Z" fill="#4eb3d3"/>
<path d="M410.0 192.3L409.1 192.3L408.4 192.4L407.9 192.6L406.4 193.5L406.2 194.3L406.6 195.4L407.5 196.1L408.9 195.9L409.7 195.3L410.8 195.3L411.1 194.9L411.5 194.8L411.2 193.1L410.0 192.3Z" fill="#a8ddb5"/>
<path d="M407.5 196.1L407.6 196.8L406.9 197.2L406.9 198.0L406.0 199.3L405.2 199.1L404.2 200.4L405.7 203.2L407.3 206.1L410.2 209.3L413.2 212.6L416.1 212.5L419.0 212.4L421.9 212.3L424.4 209.5L424.2 207.4L421.7 206.1L419.3 203.5L420.0 199.6L416.8 197.5L418.2 197.0L418.2 196.1L418.7 195.8L419.1 194.2L418.1 193.5L418.2 194.8L416.3 195.1L414.7 194.2L413.1 194.9L411.5 194.8L411.1 194.9L410.8 195.3L409.7 195.3L408.9 195.9L407.5 196.1Z" fill="#ccebc5"/>
<path d="M410.1 187.3L409.7 187.9L409.9 188.9L411.1 190.0L410.4 190.8L410.1 191.6L410.4 191.9L410.0 192.3L411.2 193.1L411.5 194.8L413.1 194.9L414.7 194.2L416.3 195.1L418.2 194.8L418.1 193.5L420.1 192.7L421.9 193.1L423.0 193.1L423.6 189.2L422.6 188.7L421.3 188.4L419.7 187.5L417.3 188.1L416.3 188.7L413.3 188.6L411.6 188.2L410.8 188.4L410.1 187.3Z" fill="#ccebc5"/>
<path d="M409.2 178.0L408.0 178.5L407.2 180.2L406.2 182.0L404.6 182.5L405.8 183.5L406.1 184.3L407.4 184.9L407.7 185.9L409.0 186.7L409.6 186.1L410.1 186.4L409.7 186.9L410.1 187.3L410.8 188.4L411.6 188.2L413.3 188.6L416.3 188.7L417.3 188.1L419.7 187.5L421.3 188.4L422.6 188.7L424.5 188.4L425.4 184.8L424.2 184.6L423.2 184.2L422.2 184.6L421.3 184.1L420.7 182.9L420.8 181.8L420.6 180.7L419.2 179.2L418.4 178.1L417.6 177.4L417.0 177.1L416.1 177.1L415.7 177.7L414.2 178.0L413.6 178.3L412.6 177.7L411.3 177.7L410.0 177.4L409.2 178.0Z" fill="#a8ddb5"/>
<path d="M346.9 173.9L350.3 173.4L353.8 172.9L357.2 172.5L360.6 172.0L364.0 171.5L367.4 171.1L367.4 168.1L367.3 165.1L365.9 161.0L364.6 157.0L363.3 153.1L362.1 149.1L358.6 149.1L355.1 149.1L351.7 149.1L348.2 149.1L347.5 153.4L346.7 157.6L348.9 158.1L351.1 158.6L353.0 160.6L352.8 165.1L349.9 169.4Z" fill="#f7fcf0"/>
<path d="M341.1 170.1L344.8 169.7L348.6 169.2L352.3 168.8L352.4 165.7L352.5 162.6L350.8 162.4L348.8 162.2L347.1 161.5L348.3 160.7L348.9 160.0L349.6 158.6L347.0 158.6L344.5 158.6L341.9 158.6L341.6 162.4L341.4 166.2Z" fill="#e0f3db"/>
<path d="M352.7 162.6L350.8 162.4L348.8 162.2L347.1 161.5L348.3 160.7L348.9 160.0L349.6 158.6L352.8 158.6Z" fill="#f7fcf0"/>
<path d="M317.3 140.8L320.7 140.8L324.0 140.8L327.3 140.8L330.6 140.8L334.0 140.8L337.3 140.8L340.6 140.8L340.9 137.7L341.2 134.7L341.5 131.6L338.3 131.6L335.2 131.6L332.0 131.6L328.8 131.6L325.6 131.6L322.4 131.6L319.2 131.6L318.6 134.7L318.0 137.7Z" fill="#084081"/>
<path d="M597.0 172.9L600.1 173.8L601.8 172.2L601.1 171.1L601.0 168.5L601.5 167.7L600.5 166.3L599.0 165.7L599.7 164.4L601.8 164.0L604.3 163.9L607.8 164.7L610.2 165.6L613.4 168.1L614.9 169.2L616.8 170.7L619.3 173.2L623.4 174.0L627.0 175.8L629.5 178.2L632.6 178.2L633.6 177.2L636.4 176.4L637.0 178.7L636.8 179.7L638.0 182.5L638.2 185.0L635.4 184.5L634.2 185.4L636.2 187.6L637.7 190.7L636.7 190.8L637.5 192.1L639.7 195.2L641.8 198.3L639.6 200.9L637.3 203.5L635.0 206.1L635.9 210.7L636.7 215.2L637.4 219.8L637.9 224.4L638.8 228.6L639.5 232.7L640.1 236.9L640.6 241.1L641.0 245.3L637.4 247.9L633.7 250.5L630.0 253.1L626.2 255.7L622.5 258.4L618.7 261.0L614.6 260.3L610.5 259.7L606.4 259.0L602.4 258.4L598.3 256.6L594.3 254.9L590.2 253.1L586.5 248.8L582.9 244.4L579.2 240.1L575.9 238.3L572.6 236.6L569.2 234.8L565.2 234.5L561.3 234.2L557.3 233.9L553.3 233.5L549.1 231.9L544.9 230.3L540.7 228.6L536.4 227.0L532.5 223.7L528.4 220.5L524.4 217.2L520.4 213.9L518.6 209.6L516.8 205.2L514.9 200.9L516.4 196.5L517.8 192.2L519.1 187.9L521.3 185.4L523.5 182.8L525.5 180.2L527.5 177.7L530.4 176.4L533.2 175.1L536.0 173.9L539.0 174.6L539.7 174.4L541.8 175.6L546.0 176.3L550.2 177.0L554.3 177.6L558.5 178.3L562.7 178.9L566.4 179.3L570.1 179.7L573.8 180.0L577.5 180.4L581.2 180.8L584.9 181.1L588.6 181.5L590.8 179.9L592.9 178.3L595.0 176.7L597.1 175.1L597.0 172.9Z" fill="#a8ddb5"/>
<path d="M608.9 256.3L612.9 256.3L616.8 256.3L616.3 253.1L615.8 250.0L611.8 250.0L607.9 250.0L608.4 253.1Z" fill="#a8ddb5"/>
<path d="M539.7 174.4L541.1 176.1L543.4 177.5L546.8 178.5L549.1 180.5L549.7 183.5L550.9 184.6L553.5 185.0L556.5 185.4L559.7 187.0L561.1 187.3L563.2 189.7L565.1 191.2L567.4 191.1L569.7 191.4L572.0 191.7L574.6 191.4L576.8 191.8L580.7 193.3L583.2 193.3L584.5 194.1L586.3 192.8L589.3 191.8L592.4 191.7L594.4 190.8L595.2 189.4L596.2 188.6L595.4 187.7L594.2 186.7L594.4 185.1L595.7 185.3L598.1 185.8L599.4 184.5L602.0 183.5L602.5 181.8L603.6 181.1L606.3 180.7L608.1 181.0L607.8 180.1L604.9 178.3L602.7 177.5L601.8 178.4L599.5 178.1L598.5 178.4L597.4 177.3L597.3 174.8L597.0 172.9L594.8 173.1L593.2 172.2L591.8 172.0L590.0 173.8L587.6 174.2L586.1 174.8L583.3 174.4L581.5 174.4L579.5 173.1L576.8 171.9L574.6 171.6L572.3 171.9L570.7 172.4L567.2 171.3L565.7 169.4L563.0 168.8L561.0 168.5L558.2 167.4L557.7 170.0L559.3 171.5L558.3 173.3L555.1 172.6L553.0 172.6L551.1 171.4L548.9 171.3L546.8 170.6L544.4 171.8L541.7 173.9L539.7 174.4Z" fill="#f7fcf0"/>
<path d="M539.0 174.6L537.2 173.0L534.8 173.4L533.5 172.3L531.8 171.8L530.2 170.4L528.8 169.9L526.3 170.6L522.9 169.1L522.4 170.4L518.7 167.2L515.0 164.1L511.6 162.1L511.9 161.4L510.0 162.5L508.1 163.7L506.3 163.8L505.9 162.5L503.0 161.6L501.2 162.2L499.5 159.7L495.8 159.1L494.5 160.2L492.3 160.6L490.0 161.1L489.4 161.7L485.9 162.1L482.4 162.5L481.9 163.4L483.9 165.1L482.3 165.8L482.9 166.4L481.5 167.7L485.3 169.4L485.2 170.6L482.4 170.5L482.1 171.2L479.1 169.9L476.0 170.0L474.2 171.0L471.5 170.0L469.0 169.1L466.6 168.3L463.5 168.3L461.9 169.7L460.2 171.1L460.5 172.9L458.0 171.5L457.1 174.2L457.8 174.7L457.2 176.7L459.3 178.4L460.8 178.3L462.5 180.0L462.6 181.3L463.8 181.8L466.9 182.8L470.2 185.4L470.7 188.6L471.1 191.8L473.7 193.7L474.4 192.8L476.7 192.3L478.3 193.0L480.3 195.0L481.3 194.9L480.1 190.1L478.8 185.4L481.2 184.6L483.6 183.8L484.1 184.1L487.8 185.9L489.8 186.9L492.5 189.2L494.8 188.8L498.3 188.6L501.4 190.5L502.0 193.1L503.1 193.1L504.1 195.2L506.8 195.3L507.8 196.6L508.6 196.5L508.9 194.7L511.2 192.9L512.2 192.4L512.3 191.3L513.6 190.9L517.3 191.8L517.1 190.3L518.1 189.7L521.5 190.8L522.2 190.5L525.7 190.6L528.9 190.9L530.2 191.8L531.7 192.2L531.0 190.7L532.2 190.0L528.6 185.6L532.3 184.5L533.1 184.0L532.7 179.4L537.1 180.2L537.8 179.1L536.7 176.5L538.3 176.3L539.0 174.6Z" fill="#a8ddb5"/>
<path d="M450.7 194.3L453.0 194.2L455.2 195.4L455.8 196.4L455.8 197.6L457.5 198.2L458.5 199.0L457.1 199.8L458.3 202.7L458.1 203.6L459.6 205.6L458.6 206.1L457.7 205.4L455.2 205.1L454.3 205.5L451.9 205.9L450.8 205.8L448.4 206.8L446.6 206.8L445.4 206.3L443.2 207.1L442.4 206.6L442.5 208.0L441.9 208.6L441.4 209.2L440.0 209.0L437.3 209.3L434.7 209.7L431.0 209.6L427.4 209.4L423.8 209.2L421.0 205.7L418.3 202.2L418.0 197.5L418.2 196.1L419.1 194.2L418.1 193.5L420.1 192.7L421.9 193.1L424.0 192.3L427.1 192.1L430.2 191.8L433.3 191.5L436.4 191.3L439.8 191.8L443.2 192.3L446.6 192.8L450.0 193.3L450.7 194.3Z" fill="#a8ddb5"/>
<path d="M432.9 213.1L435.9 213.1L439.0 213.1L438.5 209.0L435.4 209.0L432.4 209.0Z" fill="#f7fcf0"/>
<path d="M446.5 189.4L446.7 189.1L448.5 189.5L451.7 189.9L454.8 191.2L455.2 191.7L456.4 191.3L458.5 191.8L459.4 192.9L460.8 193.5L460.3 193.8L461.7 195.2L461.4 195.5L460.2 195.4L458.5 194.6L458.1 195.0L455.2 195.4L453.0 194.2L450.7 194.3L449.9 194.1L448.5 191.0L446.2 190.0L446.5 189.4Z" fill="#4eb3d3"/>
<path d="M455.2 195.4L455.8 196.4L455.8 197.6L457.5 198.2L458.5 199.0L458.9 198.9L459.7 199.7L460.6 199.7L460.7 200.0L461.8 201.5L462.6 201.5L462.2 199.7L461.1 199.2L460.1 198.5L460.6 197.7L459.3 196.8L459.6 196.2L458.7 195.7L458.1 195.0L455.2 195.4Z" fill="#a8ddb5"/>
<path d="M460.8 193.5L460.3 193.8L461.7 195.2L461.4 195.5L460.2 195.4L458.5 194.6L458.1 195.0L458.7 195.7L459.6 196.2L459.3 196.8L460.6 197.7L460.1 198.5L461.1 199.2L462.2 199.7L462.6 201.5L464.7 199.5L465.5 199.4L466.3 200.1L465.8 201.4L467.4 202.8L467.9 202.6L470.3 202.7L470.9 200.1L471.4 197.5L467.3 193.3L465.4 193.6L464.4 194.6L464.2 195.3L463.2 195.1L461.4 193.5L460.8 193.5Z" fill="#ccebc5"/>
<path d="M458.5 199.0L458.9 198.9L459.7 199.7L460.6 199.7L460.7 200.0L461.8 201.5L460.3 201.2L459.0 200.0Z" fill="#ccebc5"/>
<path id="c_Syria" d="M454.3 205.5L451.9 205.9L450.8 205.8L448.4 206.8L446.6 206.8L445.4 206.3L443.2 207.1L442.4 206.6L442.5 208.0L441.9 208.6L441.4 209.2L440.0 209.0L440.3 211.8L441.5 212.2L442.5 212.4L443.0 213.4L441.9 214.4L441.5 215.8L441.7 216.9L441.5 217.3L444.0 218.3L448.0 215.5L450.2 214.2L452.5 212.8L452.8 209.7L452.4 207.8L453.5 207.1L454.3 205.5Z" fill="url(#h)" stroke="#c9c9c9"/>
<path d="M441.5 212.2L442.5 212.4L443.0 213.4L441.9 214.4L441.5 215.8L440.9 215.8L440.8 216.3L440.1 216.3L439.3 216.0L440.2 212.1L441.5 212.2Z" fill="#ccebc5"/>
<path d="M441.5 215.8L440.9 215.8L440.8 216.3L440.1 216.3L439.1 216.5L438.0 220.2L438.7 221.2L440.5 225.7L441.2 221.5L441.1 220.5L441.3 219.7L441.2 218.1L441.5 217.3L441.7 216.9L441.5 215.8Z" fill="#f7fcf0"/>
<path id="c_Jordan" d="M448.0 215.5L444.0 218.3L441.5 217.3L441.2 218.1L441.3 219.7L441.1 220.5L441.2 221.5L440.5 225.7L440.7 226.0L443.2 226.5L444.0 225.7L444.5 224.7L446.1 224.4L446.4 223.5L447.1 223.0L444.6 220.4L446.7 219.8L448.9 219.1L449.3 218.7L448.0 215.5Z" fill="url(#h)" stroke="#c9c9c9"/>
<path d="M459.6 205.6L458.6 206.1L457.7 205.4L455.2 205.1L454.3 205.5L453.5 207.1L452.4 207.8L452.8 209.7L452.5 212.8L450.2 214.2L448.0 215.5L449.3 218.7L452.0 219.4L455.5 221.3L458.9 223.9L462.4 226.5L466.5 226.7L467.8 224.2L469.4 224.4L470.2 225.2L470.7 224.6L469.3 223.2L469.1 221.8L468.4 221.8L468.5 219.9L467.0 217.9L464.2 216.5L462.3 214.0L462.5 212.0L463.4 211.1L463.0 209.5L461.5 208.7L459.6 205.6Z" fill="#f7fcf0"/>
<path d="M466.5 226.7L467.8 224.2L469.4 224.4L470.7 224.4L471.9 228.3L470.8 228.2L469.2 228.2L468.5 227.0L466.5 226.7Z" fill="#f7fcf0"/>
<path id="c_SaudiArabia" d="M449.3 218.7L448.9 219.1L446.7 219.8L444.6 220.4L447.1 223.0L446.4 223.5L446.1 224.4L444.5 224.7L444.0 225.7L443.2 226.5L440.7 226.0L439.5 229.6L441.7 233.5L443.9 237.4L446.4 241.9L449.0 246.3L451.5 250.8L454.0 255.2L456.5 259.7L460.6 260.1L461.6 259.2L461.3 258.1L461.8 256.8L462.8 257.5L463.4 257.3L466.0 257.2L466.4 257.5L468.7 257.8L469.5 257.6L470.1 258.5L471.2 258.0L472.6 255.3L474.7 254.1L477.9 253.6L481.1 253.1L484.5 251.8L487.7 250.5L488.3 247.9L488.8 245.3L487.6 243.4L487.2 244.0L483.8 243.3L480.3 242.7L479.2 240.0L479.1 239.4L478.6 238.4L478.0 238.6L477.2 238.1L476.5 237.4L475.6 233.5L473.4 229.6L470.8 228.2L469.2 228.2L468.5 227.0L466.5 226.7L462.4 226.5L458.9 223.9L455.5 221.3L452.0 219.4L449.3 218.7Z" fill="url(#h)" stroke="#c9c9c9"/>
<path d="M477.2 238.1L478.0 238.6L478.6 238.4L479.8 237.4L478.5 233.3L476.4 234.8L477.2 238.1Z" fill="#f7fcf0"/>
<path d="M479.1 239.4L479.2 240.0L480.3 242.7L483.8 243.3L487.2 244.0L487.6 243.4L487.6 242.4L488.2 241.3L488.1 240.2L489.0 239.7L488.6 239.4L488.6 237.7L489.8 237.7L489.8 234.0L486.9 234.4L484.0 234.8L481.1 236.5L478.1 238.2L479.1 239.4Z" fill="#f7fcf0"/>
<path d="M487.6 243.4L488.8 245.3L488.3 247.9L487.7 250.5L484.5 251.8L481.1 253.1L483.2 257.4L484.1 259.3L488.7 262.3L491.8 258.0L494.8 253.8L497.9 249.5L500.9 245.3L496.6 241.4L492.2 237.4L489.8 237.7L488.6 237.7L488.6 239.4L489.0 239.7L488.1 240.2L488.2 241.3L487.6 242.4L487.6 243.4Z" fill="#f7fcf0"/>
<path d="M488.6 235.6L490.0 235.6L489.9 233.3L488.4 233.5Z" fill="#f7fcf0"/>
<path d="M481.1 253.1L477.9 253.6L474.7 254.1L472.6 255.3L471.2 258.0L470.1 258.5L469.5 257.6L468.7 257.8L466.4 257.5L466.0 257.2L463.4 257.3L462.8 257.5L461.8 256.8L461.3 258.1L461.6 259.2L460.6 260.1L459.3 260.2L459.9 264.5L460.4 268.8L464.0 272.0L467.6 270.5L471.2 269.1L474.8 267.7L478.4 266.3L482.0 264.9L483.1 262.1L484.1 259.3L483.2 257.4L481.1 253.1Z" fill="#f7fcf0"/>
<path d="M458.5 199.0L457.1 199.8L458.3 202.7L458.1 203.6L459.6 205.6L461.5 208.7L463.0 209.5L463.4 211.1L462.5 212.0L462.3 214.0L464.2 216.5L467.0 217.9L468.5 219.9L468.4 221.8L469.1 221.8L469.3 223.2L470.7 224.6L472.0 227.0L475.7 230.3L479.4 233.5L482.9 234.8L486.4 236.1L489.9 237.1L493.4 238.1L496.9 239.1L500.4 240.1L501.2 237.2L501.6 234.2L504.7 232.8L504.3 231.6L503.2 231.2L502.8 228.9L500.5 227.8L499.3 226.2L498.0 224.8L499.6 222.4L499.2 220.8L497.4 220.3L496.9 218.7L495.8 216.6L496.5 215.1L495.5 214.8L495.7 212.9L495.9 209.6L495.2 207.4L493.6 207.3L490.6 205.0L488.9 204.7L486.2 203.4L484.6 203.2L483.8 203.6L482.3 203.6L481.1 205.1L479.3 205.6L475.1 205.3L472.8 204.6L470.5 204.0L469.3 203.2L467.9 202.6L467.4 202.8L465.8 201.4L466.3 200.1L465.5 199.4L464.7 199.5L462.6 201.5L461.8 201.5L460.7 200.0L460.6 199.7L459.7 199.7L458.9 198.9L458.5 199.0Z" fill="#ccebc5"/>
<path d="M479.3 205.6L481.1 205.1L482.3 203.6L483.8 203.6L484.6 203.2L486.2 203.4L488.9 204.7L490.6 205.0L493.6 207.3L495.2 207.4L495.9 209.6L498.3 210.6L499.9 210.3L500.1 209.1L501.7 208.7L502.8 207.9L502.7 205.8L504.4 205.3L504.5 204.4L505.7 205.1L506.4 205.1L506.0 203.6L502.9 202.4L500.3 201.2L498.6 199.9L495.7 198.1L494.0 195.5L493.1 195.0L490.9 195.1L489.9 194.6L489.2 192.5L485.9 191.1L484.6 192.6L483.0 193.5L483.7 194.9L481.3 194.9L480.3 195.0L478.3 193.0L476.7 192.3L474.4 192.8L473.7 193.7L472.7 195.7L475.0 199.6L476.0 202.2L476.9 204.8L479.3 205.6Z" fill="#f7fcf0"/>
<path d="M506.4 205.1L506.0 203.6L502.9 202.4L500.3 201.2L498.6 199.9L495.7 198.1L494.0 195.5L493.1 195.0L490.9 195.1L489.9 194.6L489.2 192.5L485.9 191.1L484.6 192.6L483.0 193.5L483.7 194.9L481.3 194.9L480.1 190.1L478.8 185.4L481.2 184.6L483.6 183.8L484.1 184.1L487.8 185.9L489.8 186.9L492.5 189.2L494.8 188.8L498.3 188.6L501.4 190.5L502.0 193.1L503.1 193.1L504.1 195.2L506.8 195.3L507.8 196.6L508.6 196.5L508.9 194.7L511.2 192.9L512.2 192.4L512.9 192.6L511.7 194.3L513.6 195.3L514.8 194.7L517.8 196.0L515.6 197.9L513.9 197.7L513.1 197.7L512.6 197.0L512.7 195.8L510.0 196.4L509.8 198.0L509.2 199.5L507.4 199.4L507.1 200.5L508.9 201.1L509.9 203.1L509.3 205.7L507.6 205.1L506.4 205.1Z" fill="#e0f3db"/>
<path d="M512.2 192.4L512.3 191.3L513.6 190.9L517.3 191.8L517.1 190.3L518.1 189.7L521.5 190.8L522.2 190.5L525.7 190.6L528.9 190.9L530.2 191.8L531.7 192.2L531.6 192.8L528.8 194.2L528.4 195.2L525.8 195.5L525.5 197.2L523.2 196.8L521.8 197.3L520.2 198.6L520.7 199.2L520.3 199.8L516.3 200.1L513.4 199.3L511.2 199.5L511.0 198.0L513.4 198.4L513.9 197.7L515.6 197.9L517.8 196.0L514.8 194.7L513.6 195.3L511.7 194.3L512.9 192.6L512.2 192.4Z" fill="#7bccc4"/>
<path d="M513.9 197.7L513.1 197.7L512.6 197.0L512.7 195.8L510.0 196.4L509.8 198.0L509.2 199.5L507.4 199.4L507.1 200.5L508.9 201.1L509.9 203.1L509.3 205.7L510.1 206.0L511.4 205.2L512.3 205.7L512.7 204.5L514.0 204.5L514.2 204.2L514.1 203.1L514.8 202.2L516.1 202.8L516.1 203.6L516.8 203.7L517.2 205.9L518.2 206.8L518.9 206.2L519.8 206.0L520.8 204.8L522.3 205.0L524.5 205.0L523.8 203.5L523.6 202.5L522.1 201.9L521.5 202.1L520.3 199.8L516.3 200.1L513.4 199.3L511.2 199.5L511.0 198.0L513.4 198.4L513.9 197.7Z" fill="#7bccc4"/>
<path d="M495.9 209.6L495.7 212.9L495.5 214.8L496.5 215.1L495.8 216.6L496.9 218.7L497.4 220.3L499.2 220.8L499.6 222.4L498.0 224.8L502.0 226.2L504.1 225.8L505.5 226.1L505.9 225.5L507.4 225.8L510.1 224.7L509.8 222.4L510.8 221.0L512.4 221.0L512.5 220.2L514.1 219.9L515.0 220.1L515.7 219.4L515.2 217.8L515.8 216.2L517.1 215.6L515.8 213.9L517.9 213.9L518.3 213.0L518.0 212.0L518.8 210.9L518.2 209.6L517.4 208.5L518.4 207.4L520.6 206.8L523.0 206.5L524.0 206.0L524.5 206.0L524.5 205.0L522.3 205.0L520.8 204.8L519.8 206.0L518.9 206.2L518.2 206.8L517.2 205.9L516.8 203.7L516.1 203.6L516.1 202.8L514.8 202.2L514.1 203.1L514.2 204.2L514.0 204.5L512.7 204.5L512.3 205.7L511.4 205.2L510.1 206.0L509.3 205.7L507.6 205.1L506.4 205.1L505.7 205.1L504.5 204.4L504.4 205.3L502.7 205.8L502.8 207.9L501.7 208.7L500.1 209.1L499.9 210.3L498.3 210.6L495.9 209.6Z" fill="#f7fcf0"/>
<path d="M532.1 210.0L535.3 213.1L535.6 215.2L536.8 216.6L537.1 217.9L535.4 217.5L536.7 220.4L539.2 222.1L542.7 223.9L546.4 226.4L550.2 228.8L553.7 229.7L557.2 230.6L559.6 229.9L560.8 229.4L561.4 231.4L564.0 230.9L567.2 231.2L567.6 230.2L569.3 229.9L570.9 227.9L573.1 226.3L575.1 226.9L576.5 225.8L577.9 227.4L577.4 228.5L579.9 228.9L581.0 233.2L582.1 237.4L581.0 241.8L579.7 246.2L578.5 250.5L575.5 253.8L572.6 257.1L569.5 260.3L566.5 263.6L563.5 268.4L560.4 273.2L557.3 278.0L554.1 282.8L550.9 287.6L547.6 292.3L543.7 290.6L539.8 288.9L535.9 287.1L532.0 285.4L528.1 283.6L524.2 281.9L522.8 277.3L521.4 272.7L519.9 268.2L518.5 263.6L516.9 259.0L515.4 254.4L513.8 249.9L512.2 245.3L512.3 241.4L512.4 237.4L512.4 233.5L512.4 229.6L514.6 225.2L516.8 220.9L518.8 216.5L521.0 213.5L523.2 210.4L525.2 207.4L528.7 208.7L532.1 210.0Z" fill="#e0f3db"/>
<path d="M498.0 224.8L499.3 226.2L500.5 227.8L502.8 228.9L503.2 231.2L504.3 231.6L504.7 232.8L501.6 234.2L501.2 237.2L500.4 240.1L503.8 241.0L507.3 242.0L510.8 243.0L514.3 244.0L516.6 240.9L517.9 239.1L520.4 239.1L522.8 239.1L522.1 236.9L520.6 235.6L520.1 233.5L518.5 232.4L520.5 229.6L523.1 229.8L524.9 227.1L525.8 224.4L527.5 221.8L527.0 220.0L528.6 218.4L526.5 217.2L525.3 215.4L524.0 213.1L524.8 212.0L528.3 212.6L530.6 212.2L532.1 210.0L528.2 209.0L527.1 206.9L525.1 205.7L524.0 206.0L523.0 206.5L520.6 206.8L518.4 207.4L517.4 208.5L518.2 209.6L518.8 210.9L518.0 212.0L518.3 213.0L517.9 213.9L515.8 213.9L517.1 215.6L515.8 216.2L515.2 217.8L515.7 219.4L515.0 220.1L514.1 219.9L512.5 220.2L512.4 221.0L510.8 221.0L509.8 222.4L510.1 224.7L507.4 225.8L505.9 225.5L505.5 226.1L504.1 225.8L502.0 226.2L498.0 224.8Z" fill="#e0f3db"/>
<path id="c_Nepal" d="M542.7 223.9L543.5 223.3L545.4 224.1L548.1 225.8L549.4 226.2L550.4 227.4L552.2 227.9L554.3 229.1L556.9 229.7L559.6 229.9L559.6 231.0L560.2 232.7L560.2 233.8L558.3 233.8L555.5 233.2L553.8 232.9L552.2 231.6L549.1 231.3L545.9 229.8L543.6 228.5L541.2 227.5L541.6 225.1L542.7 223.9Z" fill="url(#h)" stroke="#c9c9c9"/>
<path d="M567.6 230.2L568.7 231.0L568.9 232.6L567.1 232.7L565.1 232.5L563.8 232.9L561.6 232.0L561.4 231.4L562.5 229.5L563.6 228.8L565.3 229.4L566.5 229.5Z" fill="#0868ac"/>
<path d="M572.5 245.2L570.7 241.0L570.0 241.1L569.9 242.7L568.5 241.4L568.9 239.9L569.9 239.7L570.6 237.5L569.2 237.1L567.1 237.1L564.9 236.7L564.4 234.9L563.3 234.8L561.3 233.7L560.8 235.4L562.7 236.8L561.5 237.8L561.1 238.8L562.6 239.5L562.5 241.0L563.6 243.0L564.2 245.1L563.6 249.2L567.0 249.9L570.5 250.5L572.3 248.8L571.8 246.6L572.7 247.1L572.5 245.2Z" fill="#f7fcf0"/>
<path d="M545.1 288.4L549.2 288.4L553.2 288.4L553.1 284.5L552.9 280.6L552.6 276.7L549.2 276.7L545.7 276.7L545.6 280.6L545.4 284.5Z" fill="#ccebc5"/>
<path d="M579.9 228.9L580.3 229.9L579.6 230.4L580.1 232.0L578.5 231.5L575.9 233.3L576.3 234.8L575.5 237.0L575.6 238.3L575.0 240.5L573.1 239.8L573.5 242.6L573.1 243.5L573.5 244.6L572.5 245.2L572.7 247.1L571.8 246.6L572.3 248.8L571.2 250.5L572.0 254.9L572.7 259.2L573.3 263.6L577.6 268.4L581.9 273.2L586.1 278.0L589.5 276.8L590.5 274.1L591.5 271.7L590.4 269.3L590.3 268.1L589.9 266.6L588.1 264.6L587.4 263.3L588.2 262.8L588.7 260.5L587.6 258.8L585.9 256.9L584.5 254.6L585.3 254.1L586.0 251.3L587.6 251.2L588.7 250.0L589.9 249.4L590.3 248.5L591.9 246.8L591.7 245.7L590.2 246.4L589.1 246.0L587.3 245.0L587.6 242.8L586.1 242.3L585.1 239.9L582.8 240.3L582.5 237.2L584.2 235.0L583.9 232.9L583.4 230.9L582.3 230.3L581.1 228.7L579.9 228.9Z" fill="#e0f3db"/>
<path d="M589.9 249.4L588.7 250.0L587.6 251.2L586.0 251.3L585.3 254.1L584.5 254.6L585.9 256.9L587.6 258.8L588.7 260.5L588.2 262.8L587.4 263.3L588.1 264.6L589.9 266.6L590.3 268.1L590.4 269.3L591.5 271.7L590.5 274.1L589.5 276.8L587.5 281.9L589.3 284.5L591.2 287.1L593.6 285.9L594.0 285.4L596.0 286.6L596.2 287.9L597.7 287.6L598.4 286.5L600.3 284.5L597.8 281.9L595.4 279.3L595.7 276.0L596.0 272.7L598.3 270.9L597.5 267.8L598.7 265.6L601.6 265.1L603.8 265.5L604.4 264.3L604.2 262.1L602.1 259.8L601.6 257.2L599.5 255.1L597.8 254.9L597.4 255.8L596.1 255.9L595.3 255.5L593.2 257.0L592.8 254.7L592.9 251.9L591.4 251.8L591.0 250.2L589.9 249.4Z" fill="#f7fcf0"/>
<path d="M591.9 246.8L590.3 248.5L589.9 249.4L591.0 250.2L591.4 251.8L592.9 251.9L592.8 254.7L593.2 257.0L595.3 255.5L596.1 255.9L597.4 255.8L597.8 254.9L599.5 255.1L601.6 257.2L602.1 259.8L604.2 262.1L604.4 264.3L603.8 265.5L605.8 266.5L606.6 264.7L608.7 265.7L608.8 263.1L608.0 261.2L606.1 259.4L604.3 257.1L601.9 254.0L599.0 252.4L599.5 251.5L600.8 250.8L599.6 248.5L596.8 248.5L595.4 246.1L593.7 244.1L592.6 244.5L593.4 247.5L592.2 247.4L591.9 246.8Z" fill="#2b8cbe"/>
<path d="M603.8 265.5L601.6 265.1L598.7 265.6L597.5 267.8L598.3 270.9L597.9 274.0L599.9 278.0L602.7 275.4L604.6 274.3L607.0 274.1L605.9 272.6L609.5 270.5L609.5 267.4L608.7 265.7L606.6 264.7L605.8 266.5L603.8 265.5Z" fill="#ccebc5"/>
<path d="M593.7 244.1L595.4 246.1L596.8 248.5L599.6 248.5L600.8 250.8L599.5 251.5L599.0 252.4L601.9 254.0L604.3 257.1L606.1 259.4L608.0 261.2L608.8 263.1L608.7 265.7L609.5 267.4L609.5 270.5L605.9 272.6L607.0 274.1L604.6 274.3L602.7 275.4L602.6 278.2L602.4 281.1L604.7 281.5L607.0 281.9L610.0 279.7L612.9 277.5L615.7 275.4L615.8 271.4L615.7 267.5L615.6 263.6L613.2 259.7L610.7 255.7L608.2 251.8L607.8 249.1L607.4 246.5L605.0 245.8L603.8 244.7L603.9 243.2L601.7 242.7L600.5 241.8L598.8 243.1L596.6 243.5L594.9 243.4L593.7 244.1Z" fill="#a8ddb5"/>
<path d="M593.6 285.9L594.0 285.4L596.0 286.6L596.2 287.9L597.7 287.6L598.4 286.5L602.8 289.7L604.2 294.7L605.5 299.7L602.0 300.4L598.9 298.6L595.7 296.8L594.0 292.0L592.3 287.1L593.6 285.9Z" fill="#a8ddb5"/>
<path id="c_NorthKorea" d="M637.5 192.1L635.2 190.5L635.3 192.0L632.7 193.1L633.8 194.5L631.9 194.4L630.4 193.6L630.0 195.4L628.4 196.8L627.6 198.5L628.2 200.9L631.8 204.8L634.4 204.1L635.5 204.0L635.7 202.8L637.2 202.7L638.0 202.5L638.0 201.9L639.3 199.6L639.5 197.0L639.6 194.4L638.1 192.5L637.5 192.1Z" fill="url(#h)" stroke="#c9c9c9"/>
<path d="M634.4 204.1L635.5 204.0L635.7 202.8L637.2 202.7L638.0 202.5L638.0 201.9L643.0 204.8L644.3 208.7L645.5 212.6L642.5 214.6L639.5 216.5L637.1 212.6L634.6 208.7L634.4 204.1Z" fill="#f7fcf0"/>
<path d="M646.8 224.4L650.6 224.4L654.5 224.4L658.4 224.4L662.3 224.4L666.2 224.4L670.0 224.4L673.9 224.4L677.8 224.4L677.6 219.9L677.2 215.4L676.6 210.9L675.9 206.5L675.0 202.0L673.9 197.5L672.6 193.1L669.9 189.6L667.1 186.2L664.4 182.8L660.6 182.8L656.8 182.8L653.1 182.8L654.4 186.6L655.6 190.5L656.8 194.4L657.8 198.3L655.4 200.7L652.9 203.0L650.3 205.4L647.7 207.8L645.0 210.2L642.2 212.6L643.8 216.5L645.4 220.5Z" fill="#a8ddb5"/>
<path d="M633.9 246.1L636.8 246.1L639.6 246.1L638.6 241.1L637.5 236.1L634.7 236.1L631.9 236.1L633.0 241.1Z" fill="#e0f3db"/>
<path d="M631.7 291.0L635.8 291.0L639.8 291.0L643.8 291.0L647.9 291.0L651.9 291.0L655.9 291.0L655.7 286.1L655.3 281.2L654.9 276.3L654.4 271.4L653.8 266.5L653.0 261.6L652.2 256.7L651.3 251.8L647.7 251.8L644.0 251.8L640.4 251.8L636.8 251.8L633.1 251.8L633.1 256.8L632.9 261.8L632.6 266.9L632.2 271.9L631.8 276.9L631.2 281.9L631.5 286.5Z" fill="#f7fcf0"/>
<path d="M579.6 285.8L583.4 285.8L587.3 285.8L591.1 285.8L595.6 290.9L600.0 296.1L604.3 301.2L607.8 299.6L611.2 297.9L614.6 296.3L618.3 294.7L621.9 293.1L625.5 291.6L629.1 290.0L632.7 288.4L635.7 290.4L638.7 292.3L643.0 292.1L647.3 292.0L651.6 291.8L656.0 291.6L659.9 294.0L663.9 296.4L667.8 298.9L672.0 299.7L676.1 300.4L680.3 301.2L684.5 302.0L688.6 302.8L688.5 307.6L688.3 312.4L688.1 317.2L687.7 322.0L687.3 326.8L686.8 331.6L682.4 331.7L678.0 331.8L673.6 331.9L669.2 332.0L664.8 332.2L660.4 332.3L656.0 332.4L651.6 332.5L647.2 332.6L642.9 332.7L638.5 332.9L634.4 332.1L630.4 331.4L626.4 330.7L622.4 330.0L618.4 329.2L614.4 328.5L610.3 327.8L606.3 327.1L602.3 326.3L598.7 322.0L595.1 317.6L591.4 313.3L587.7 308.9L583.9 304.5L580.1 300.2L580.0 295.4L579.8 290.6Z" fill="#f7fcf0"/>
<path d="M616.2 297.5L616.6 299.3L618.2 300.8L619.7 300.2L621.2 300.4L622.5 299.1L623.6 298.9L625.8 299.6L627.7 299.1L628.7 295.4L629.6 294.5L630.3 291.5L632.9 291.5L634.9 292.0L638.7 291.6L639.1 287.1L635.8 284.8L632.4 282.4L629.5 285.0L626.6 287.6L623.6 290.3L619.7 292.9L615.7 295.5Z" fill="#a8ddb5"/>
<path id="c_Brunei" d="M626.4 291.0L627.4 292.3L629.1 291.6L629.2 288.6L627.2 289.2Z" fill="url(#h)" stroke="#c9c9c9"/>
<path id="c_TimorLeste" d="M650.2 327.6L650.9 325.0L653.7 324.5L656.5 324.0L656.3 326.3L653.9 327.1L651.6 327.9Z" fill="url(#h)" stroke="#c9c9c9"/>
<path d="M688.5 308.8L688.3 313.5L688.0 318.2L687.7 322.9L687.2 327.6L690.1 329.4L693.0 331.1L695.8 332.9L699.9 331.6L704.0 330.2L708.1 328.9L712.2 327.6L716.3 326.3L720.4 325.0L724.4 323.7L724.0 320.2L723.5 316.7L722.9 313.3L719.5 311.3L716.2 309.3L712.8 307.4L709.4 305.4L705.3 305.4L701.3 305.4L697.2 305.4L693.2 305.4L690.9 307.1Z" fill="#f7fcf0"/>
<path d="M721.4 318.5L724.9 318.0L728.2 320.7L731.4 323.5L734.6 326.2L737.7 328.9L737.2 332.9L734.2 332.0L731.3 331.1L728.3 330.2L726.1 326.3L723.8 322.4Z" fill="#f7fcf0"/>
<path d="M743.0 339.4L745.9 339.4L748.7 339.4L748.0 343.3L747.1 347.2L744.3 347.2L741.4 347.2L742.2 343.3Z" fill="#f7fcf0"/>
<path id="c_NewCaledonia" d="M734.2 353.8L737.4 353.8L740.7 353.8L743.9 353.8L742.8 358.4L741.6 362.9L738.4 362.9L735.1 362.9L731.9 362.9L733.0 358.4Z" fill="url(#h)" stroke="#c9c9c9"/>
<path d="M764.0 352.5L768.0 352.5L772.0 352.5L773.1 348.3L774.1 344.1L770.1 344.1L766.1 344.1L765.1 348.3Z" fill="#a8ddb5"/>
<path d="M620.5 328.9L624.9 328.9L629.4 328.9L633.9 328.9L638.4 328.9L642.9 328.9L647.4 328.9L651.9 328.9L656.4 328.9L660.9 328.9L665.4 328.9L669.9 328.9L674.4 328.9L678.9 328.9L683.4 328.9L687.8 328.9L692.3 328.9L696.8 328.9L701.3 328.9L705.8 328.9L710.3 328.9L714.8 328.9L719.3 328.9L718.6 334.0L717.9 339.0L717.0 344.0L716.0 349.0L714.8 354.0L713.7 359.0L712.4 364.0L711.0 369.0L709.4 374.0L707.5 379.0L705.4 384.1L703.1 389.1L700.5 394.1L697.8 399.1L694.9 404.1L691.7 409.1L688.3 414.0L684.7 419.0L680.7 419.0L676.6 419.0L672.6 419.0L668.5 419.0L664.5 419.0L660.4 419.0L656.3 419.0L652.3 419.0L648.2 419.0L644.2 419.0L640.1 419.0L636.1 419.0L632.0 419.0L627.9 419.0L623.9 419.0L619.8 419.0L615.8 419.0L611.7 419.0L607.7 419.0L603.6 419.0L599.5 419.0L595.5 419.0L598.1 414.0L600.5 409.1L602.8 404.1L604.9 399.1L606.9 394.1L608.7 389.1L610.4 384.1L611.9 379.0L613.3 374.0L614.5 369.0L615.5 364.0L616.4 359.0L617.2 354.0L618.0 349.0L618.8 344.0L619.4 339.0L620.0 334.0Z" fill="#ccebc5"/>
<path d="M698.2 427.9L701.9 427.9L705.6 427.9L709.2 427.9L712.9 427.9L716.6 427.9L720.3 427.9L724.0 427.9L727.6 427.9L731.8 423.3L735.9 418.6L739.8 414.0L743.5 409.3L747.0 404.6L750.3 399.8L753.3 395.1L756.1 390.4L752.1 390.4L748.1 390.4L744.2 390.4L740.2 390.4L736.2 390.4L732.3 390.4L728.3 390.4L724.3 390.4L721.7 395.1L719.0 399.8L716.0 404.6L712.8 409.3L709.4 414.0L705.8 418.6L702.0 423.3Z" fill="#4eb3d3"/>
<path id="c_Kerguelen" d="M498.8 434.3L502.3 434.3L505.8 434.3L507.0 431.1L508.2 427.9L504.7 427.9L501.1 427.9L500.0 431.1Z" fill="url(#h)" stroke="#c9c9c9"/>
</g>
<path d="M459.8 186.4L462.3 188.7L462.5 190.5L465.4 193.6L466.8 195.0L468.3 196.8L469.3 196.9L470.1 197.6L468.4 197.8L468.4 199.8L468.2 200.7L467.6 201.3L467.9 202.6L468.9 204.6L471.1 205.1L472.8 206.4L476.0 206.9L479.2 206.2L479.3 205.6L478.5 203.7L478.3 201.0L476.4 200.1L476.6 198.3L475.1 198.2L475.1 196.0L477.3 196.6L478.9 195.8L477.0 194.3L476.0 192.8L474.5 193.4L474.7 195.3L473.7 193.7L473.4 193.0L473.7 191.9L473.1 191.0L470.4 190.2L468.9 187.8L467.6 187.2L467.4 186.4L469.4 186.6L469.1 184.7L470.7 184.3L472.6 184.7L472.3 182.2L471.5 180.6L469.5 180.7L467.6 180.1L465.5 181.2L463.8 181.8L463.2 183.3L461.3 183.7Z" fill="#fff" stroke="none"/>
<defs><path id="lo" d="M435.3 224.4L434.3 221.0L431.4 220.2L429.4 220.5L427.1 222.0L423.7 221.0L421.1 220.6L418.6 220.2L415.6 218.9L414.1 218.6L410.2 216.8L407.2 218.6L406.9 221.2L405.3 223.6L402.8 222.3L400.2 221.5L397.6 220.7L396.4 218.4L393.5 217.3L391.8 216.8L388.2 216.3L387.3 215.7L385.5 214.4L385.0 213.1L386.7 209.5L385.9 207.6L386.7 205.8L385.0 205.6L383.5 205.2L381.1 206.2L378.8 205.8L376.6 205.8L374.5 206.9L372.2 206.7L369.9 206.6L366.2 207.1L362.8 209.0L360.4 209.5L358.2 210.8L355.2 210.3L353.0 210.5L351.7 209.3L350.2 209.2L349.5 211.0L347.9 213.7L343.9 216.0L342.6 217.6L342.3 219.0L341.4 221.2L341.3 224.6L339.9 226.7L336.9 229.2L334.9 229.5L333.8 230.5L332.1 233.3L330.7 234.2L329.8 237.2L329.0 238.8L328.3 239.1L326.9 240.8L326.2 242.6L326.2 243.5L325.5 244.9L324.6 245.5L324.5 246.8L324.4 247.9L324.9 247.0L325.6 251.6L326.0 252.9L326.3 255.5L325.9 257.9L325.3 259.2L325.4 260.6L324.9 262.0L323.7 263.8L322.7 264.3L323.8 265.2L324.7 267.2L324.4 268.4L324.7 270.4L325.6 271.5L327.0 272.8L328.3 273.9L328.9 274.4L330.1 276.6L331.5 278.0L332.5 279.5L333.2 282.4L334.4 283.8L336.0 284.9L336.6 285.0L338.2 286.7L340.2 288.2L342.2 290.2L344.6 291.4L345.7 291.5L347.9 290.5L349.6 289.8L352.3 289.3L353.8 289.3L355.4 289.8L356.4 289.8L358.5 290.5L360.6 289.7L361.8 288.8L364.1 287.8L365.4 287.3L367.3 286.7L369.2 286.4L373.0 286.4L374.6 288.1L375.4 290.0L376.6 291.7L379.3 291.1L380.2 291.3L382.6 290.3L383.2 291.4L383.6 292.6L384.7 293.0L385.6 294.8L385.3 296.8L384.5 299.8L384.9 300.2L384.5 302.1L383.3 304.6L383.3 305.7L384.7 308.4L386.2 310.6L388.6 313.2L390.4 314.8L390.4 316.0L391.4 318.7L392.3 320.9L393.5 325.2L392.7 326.2L393.2 328.3L394.3 330.8L394.5 332.3L394.4 334.2L393.5 335.5L392.2 337.2L391.6 338.2L390.9 340.6L389.9 344.1L389.7 348.0L389.9 350.0L391.6 352.6L393.2 357.4L394.4 359.5L395.2 360.6L395.5 362.0L395.5 365.1L396.1 369.2L397.0 373.6L397.8 375.5L399.4 377.5L400.8 380.9L401.9 383.1L403.2 385.6L403.1 387.6L402.4 388.1L403.0 389.8L403.2 392.1L404.2 392.8L404.9 392.9L405.7 393.8L406.7 393.8L408.1 392.8L412.4 391.3L414.6 391.1L416.9 391.7L418.1 391.2L419.4 391.5L420.8 390.7L423.2 389.7L425.0 388.5L426.7 386.9L429.4 384.2L430.8 382.3L432.6 379.7L434.7 378.0L435.3 376.8L435.8 374.6L436.5 372.7L436.8 371.3L436.1 370.1L437.1 369.1L439.5 367.9L441.8 366.8L442.8 365.9L443.2 364.8L442.7 364.3L443.4 360.5L443.0 359.9L442.6 358.4L441.6 356.4L441.9 354.5L442.9 353.9L444.6 352.1L445.5 351.6L448.2 348.8L450.8 347.5L453.0 346.5L454.5 344.9L456.3 341.2L455.9 339.9L455.8 335.8L455.8 333.5L456.0 331.0L455.7 329.8L454.8 329.2L454.0 326.6L453.2 325.0L453.4 323.7L453.9 320.7L452.3 318.2L453.4 315.0L454.3 314.2L454.8 312.4L455.6 311.4L455.9 309.5L456.8 309.3L457.4 308.2L459.0 307.2L460.1 305.2L462.6 302.0L464.8 300.1L468.2 297.4L470.5 295.3L473.1 291.8L475.0 288.8L476.9 285.0L478.3 281.7L479.3 278.7L479.8 275.9L480.3 275.0L480.2 273.6L480.3 272.1L480.3 271.4L479.4 271.4L478.3 272.3L477.1 272.5L476.1 272.9L474.1 273.1L473.3 273.5L472.1 273.7L470.2 274.5L467.7 274.8L465.5 275.5L464.4 275.5L463.3 274.4L462.8 273.3L461.0 272.1L462.1 272.8L462.3 270.4L461.8 269.6L460.6 268.8L458.5 266.4L457.2 264.9L454.6 264.8L454.0 262.4L452.7 261.2L452.2 258.8L450.4 255.7L449.2 254.8L448.2 254.1L447.2 251.0L446.7 248.3L447.2 247.8L446.3 245.3L443.4 240.2L443.0 240.7L441.2 237.4L440.3 235.9L439.4 234.5L437.8 230.3L436.4 228.2L435.3 225.9L435.1 224.6ZM435.3 224.4L435.5 225.9L436.6 228.0L438.1 230.0L439.2 230.3L439.6 228.7L440.5 225.7L440.6 226.0L440.5 227.1L440.2 229.4L441.3 229.4L442.6 231.2L444.1 233.3L445.2 235.3L445.9 235.9L446.5 237.8L447.3 239.3L448.6 239.8L449.7 240.9L451.2 245.3L451.4 247.1L453.2 249.6L454.3 250.1L455.9 251.8L456.7 254.0L459.3 257.1L460.3 259.0L460.6 260.1L460.8 261.2L460.5 261.7L460.8 262.9L462.0 266.8L462.0 268.2L462.7 269.8L464.3 269.9L466.1 269.6L466.5 268.9L467.5 268.1L470.0 267.8L471.4 267.3L472.7 266.2L474.4 266.2L476.4 264.3L480.0 263.1L482.2 262.0L482.5 260.0L484.1 259.3L486.6 258.3L487.9 258.5L488.9 257.8L488.9 256.7L489.7 256.1L491.1 256.1L491.6 255.5L491.7 254.3L493.0 253.3L494.1 253.3L494.3 252.9L493.9 251.2L494.1 249.9L494.5 249.3L495.6 249.4L496.3 247.6L497.1 246.8L497.4 246.0L498.1 244.5L498.1 243.9L497.2 243.6L496.5 242.7L495.4 241.2L494.0 240.7L492.3 240.4L491.0 239.4L489.8 237.7L489.2 235.6L489.4 235.1L489.5 234.0L489.2 233.8L488.7 234.7L487.4 236.3L485.9 238.0L484.6 239.7L481.4 239.6L479.6 240.0L479.1 239.4L478.6 238.4L478.9 236.9L478.7 235.4L477.9 234.5L477.3 234.8L476.9 236.2L477.2 238.1L475.6 235.9L475.2 233.0L473.6 231.9L471.9 230.4L470.8 228.2L470.0 225.6L469.4 224.4L470.7 224.6L471.4 223.5L472.9 224.4L474.1 224.0L476.1 227.5L477.9 229.9L480.2 230.7L482.7 232.7L485.5 233.6L487.6 232.3L489.3 231.9L490.4 232.3L491.8 235.5L494.3 235.9L496.8 236.5L501.2 237.2L504.3 236.9L507.9 236.8L512.0 236.3L514.0 238.3L514.9 240.2L516.6 240.9L519.5 243.1L519.3 245.1L520.3 244.1L522.6 248.2L524.2 248.5L527.4 247.0L528.0 249.4L528.4 252.6L529.4 255.9L530.9 261.0L533.3 264.6L533.8 266.2L534.6 269.5L536.0 272.0L536.9 273.2L538.0 275.9L539.2 279.5L541.5 282.0L542.4 281.2L543.1 279.5L545.1 278.7L544.4 277.8L545.3 275.8L546.5 275.7L546.2 271.3L547.0 268.8L546.7 266.6L545.9 263.2L546.4 261.2L547.5 261.1L549.4 260.2L550.5 259.5L550.3 258.3L552.4 256.6L553.9 255.0L556.1 251.9L559.1 250.1L560.1 248.6L559.8 246.6L562.5 246.1L564.0 246.1L564.2 245.1L565.8 245.7L567.1 245.7L567.6 244.3L567.3 243.2L569.4 243.3L570.5 244.8L571.1 246.1L571.4 247.4L572.3 248.8L574.2 250.9L575.5 251.2L575.4 252.2L577.6 255.2L578.4 257.6L578.0 260.9L579.5 261.5L580.8 261.7L583.2 259.8L584.5 258.5L585.8 260.7L586.6 264.0L587.7 267.1L588.7 268.5L588.8 271.4L589.7 272.9L589.2 274.9L589.5 276.8L588.9 281.0L589.4 282.4L589.7 280.9L590.9 282.1L592.2 283.6L592.7 284.9L593.6 285.9L594.0 288.9L594.9 290.3L595.3 292.5L596.7 294.3L597.0 295.6L599.8 297.7L602.0 299.6L603.7 299.4L603.7 298.5L602.7 296.2L601.4 293.0L601.4 290.1L600.4 288.4L598.9 286.8L598.4 286.5L597.1 285.2L595.7 284.9L594.4 283.4L593.8 281.1L592.7 278.7L591.2 278.6L590.9 276.8L591.5 274.4L591.5 271.7L592.4 270.6L592.3 267.7L594.3 267.7L594.2 269.8L596.1 269.7L598.3 270.9L599.7 273.7L600.8 275.0L602.7 275.4L604.6 276.9L604.1 278.6L605.0 280.3L607.7 277.9L609.4 275.7L611.9 274.0L613.6 272.3L613.5 267.7L611.8 262.9L610.2 260.8L607.8 259.1L605.2 255.7L603.0 253.0L603.3 251.2L604.8 248.7L607.4 246.5L608.4 246.0L611.6 246.9L611.2 247.9L612.1 249.8L613.4 249.6L613.7 246.9L616.0 246.5L618.9 245.2L620.0 243.8L620.9 244.7L622.1 243.5L624.6 243.2L627.3 241.1L629.9 238.6L631.2 235.5L632.2 232.1L633.0 229.2L634.2 229.0L634.1 226.9L631.2 222.6L632.4 221.9L631.7 220.0L627.3 215.5L622.5 211.5L624.2 210.0L624.4 208.4L624.8 207.0L627.6 206.3L626.6 204.9L625.2 204.8L622.8 203.8L621.2 205.7L619.2 204.9L618.6 203.7L616.6 203.3L614.7 201.5L615.2 200.4L617.2 200.2L617.8 198.5L619.3 196.7L620.6 195.8L622.5 197.2L621.6 198.9L622.6 199.9L622.0 201.1L624.0 200.4L625.0 199.2L627.6 198.5L628.9 199.2L630.3 199.4L630.7 199.9L630.8 201.3L631.2 201.7L630.8 203.2L632.3 203.8L633.2 203.6L634.4 204.1L637.0 206.4L635.6 206.8L637.7 209.5L638.2 211.5L639.0 212.9L640.9 212.7L642.2 211.6L643.9 211.1L644.1 209.7L642.7 206.7L641.4 205.0L638.0 201.9L636.2 200.7L635.2 200.3L635.3 200.0L634.7 198.9L635.3 198.2L636.5 197.8L637.0 196.6L637.8 196.0L636.7 194.1L636.8 193.2L637.2 192.4L638.1 192.5L637.9 191.7L639.5 189.8L641.6 191.0L642.9 191.0L645.4 189.6L645.2 187.9L646.0 185.0L646.8 182.0L646.3 180.2L646.7 176.5L644.5 172.5L642.3 169.5L641.7 167.0L639.8 164.8L634.6 162.1L632.3 161.9L632.1 163.2L629.8 162.6L627.5 161.1L624.1 160.8L625.2 157.9L626.2 155.0L627.3 153.2L627.6 150.2L630.3 149.9L633.0 149.5L636.0 149.7L639.1 149.9L640.1 148.7L643.4 149.1L645.2 150.9L647.8 150.6L649.5 150.3L651.2 150.0L648.1 148.5L648.1 146.5L648.1 144.5L650.0 144.1L651.8 143.7L656.8 146.6L657.6 145.3L658.3 144.0L656.9 142.1L658.9 141.9L661.6 145.2L660.6 147.1L660.3 149.6L660.3 152.6L658.0 153.2L659.2 154.3L659.1 155.7L661.8 159.2L665.1 161.9L668.3 164.7L672.6 168.3L675.0 170.0L675.6 167.7L673.8 165.2L676.1 164.6L673.9 161.7L676.0 160.4L674.0 159.4L672.7 157.3L674.4 157.2L670.6 153.7L667.9 153.1L666.7 152.2L666.2 149.8L665.0 148.2L667.8 148.6L670.3 148.4L668.4 147.5L670.6 147.1L672.8 146.6L677.5 148.2L676.8 147.1L677.6 145.7L678.3 144.0L679.5 143.7L680.9 142.8L682.2 142.0L686.3 142.5L685.8 141.8L684.3 140.9L682.6 140.2L678.8 138.3L675.5 137.1L678.5 137.7L678.9 136.3L672.2 131.7L665.4 127.3L661.5 126.3L658.3 125.8L655.0 125.2L653.4 125.3L651.8 125.4L648.6 125.1L645.5 124.8L646.3 125.7L649.8 127.1L648.8 127.8L642.9 125.9L640.1 126.1L636.3 125.7L633.5 125.8L631.9 126.2L628.9 125.6L626.8 124.0L624.1 123.1L620.3 122.7L618.3 122.9L616.3 123.0L614.3 123.1L610.9 122.3L607.6 121.5L604.4 120.2L601.1 120.0L597.8 119.7L594.5 119.4L591.2 119.1L587.9 118.9L587.1 119.8L590.9 121.7L587.8 121.4L587.4 122.0L583.4 121.4L581.4 122.0L577.5 121.0L578.8 123.3L575.2 122.4L571.0 120.7L570.9 119.8L568.4 118.5L564.4 117.3L561.9 117.4L560.0 117.2L558.0 117.0L560.0 118.6L557.6 118.5L555.3 118.4L552.9 118.3L551.3 117.3L548.6 117.1L545.8 117.0L543.7 117.3L543.6 117.8L541.2 116.5L540.3 116.9L537.3 116.4L535.1 116.1L535.5 115.5L536.9 114.9L538.3 114.3L539.2 113.7L538.2 112.7L536.0 111.9L533.6 111.5L531.2 111.0L529.0 111.0L526.8 110.9L526.0 111.4L524.3 110.4L522.4 110.3L520.5 110.1L521.9 109.7L518.5 109.0L517.3 109.4L516.0 109.8L515.7 110.7L516.3 111.5L513.4 111.5L512.4 112.0L511.2 112.5L509.5 112.1L507.6 112.2L505.7 112.3L505.8 112.9L503.9 113.0L502.0 113.1L500.0 114.1L498.3 114.2L497.7 115.5L500.0 116.6L498.4 116.7L496.8 116.8L494.9 116.8L493.0 116.8L490.5 117.2L492.5 119.4L495.4 121.2L491.4 120.0L489.8 120.0L488.2 120.1L486.1 120.9L487.9 122.5L485.9 122.1L485.1 120.0L483.4 118.9L482.6 118.9L484.1 120.4L482.2 121.8L485.5 123.6L485.7 125.8L486.9 127.0L488.9 127.2L489.0 128.6L490.8 129.9L490.0 131.0L490.2 132.1L488.7 132.7L488.5 133.5L486.3 133.2L487.8 130.0L487.5 128.5L484.8 127.1L483.2 124.1L481.7 122.6L480.2 121.9L480.5 120.2L479.3 119.0L477.0 118.7L474.7 118.5L473.8 118.9L474.1 120.8L472.3 122.7L472.8 123.4L474.7 125.1L474.8 126.2L476.9 126.4L477.3 126.9L479.7 128.0L479.2 129.2L475.4 127.9L471.7 126.7L468.9 126.0L466.3 125.6L463.7 125.3L463.2 126.0L465.6 127.3L464.5 128.8L461.9 127.4L459.8 128.3L456.7 128.4L455.8 129.2L453.6 128.9L454.7 127.6L453.4 127.5L450.8 128.4L448.3 129.4L446.8 129.9L445.2 130.5L445.3 131.9L442.9 132.4L441.2 131.6L440.7 130.3L442.8 130.1L441.3 128.8L438.8 128.5L436.3 128.1L438.1 129.5L437.8 130.8L439.7 132.2L439.2 133.7L437.3 132.9L435.7 132.8L434.0 133.9L432.4 135.0L434.1 136.7L432.8 137.3L430.5 136.6L428.1 135.9L427.3 136.7L428.6 137.7L428.7 138.8L427.2 138.2L424.7 137.5L423.5 134.1L420.2 132.5L421.4 132.2L424.1 132.7L426.9 133.3L429.6 133.9L432.3 133.3L433.8 132.1L433.2 130.6L431.5 129.5L427.9 128.3L424.3 127.0L421.9 126.8L419.5 126.5L416.4 125.2L414.9 125.9L412.7 124.6L414.6 124.0L411.8 123.2L409.1 122.4L406.2 122.6L403.2 122.7L400.8 123.6L398.4 124.4L396.6 124.9L394.9 125.4L392.8 126.7L390.7 128.1L388.1 129.8L386.3 132.0L384.5 134.2L381.6 137.4L378.2 139.8L375.9 140.8L373.6 141.7L372.0 143.2L372.4 146.0L372.8 148.7L373.6 151.3L376.2 152.6L378.7 152.0L382.2 149.2L383.6 150.7L384.5 152.5L385.3 154.1L387.1 156.9L387.9 159.2L390.1 159.1L391.0 157.1L393.3 157.4L394.2 155.1L394.4 151.0L396.3 150.5L397.6 147.7L395.7 146.4L394.2 144.7L395.0 141.4L398.2 139.4L400.7 137.5L400.2 136.1L401.6 134.5L404.5 133.9L407.1 135.0L407.5 135.9L406.4 136.4L404.7 137.7L402.9 138.9L401.5 140.4L400.9 141.7L402.1 143.9L402.0 146.2L404.0 147.0L405.2 148.3L408.2 147.6L411.2 146.9L414.5 146.7L416.7 147.9L414.9 149.2L413.0 149.2L410.9 148.9L408.6 149.2L406.6 150.3L406.6 151.3L408.1 152.1L408.7 151.8L408.8 153.3L408.7 155.1L407.2 155.2L405.4 153.4L403.8 154.2L403.1 155.7L403.3 157.6L403.9 159.6L401.4 160.4L401.1 161.5L399.0 160.9L397.0 160.5L394.7 161.3L391.8 162.4L390.5 163.2L389.5 162.4L387.2 161.4L386.2 162.1L384.3 162.5L384.2 161.7L382.2 161.1L382.1 160.1L381.5 158.9L382.8 157.2L383.8 156.5L382.9 153.4L381.5 154.1L379.2 154.9L378.7 155.6L378.4 156.3L378.6 158.8L379.5 160.2L379.6 161.6L380.1 162.5L378.8 163.7L378.5 163.2L376.8 163.3L376.5 163.9L374.8 163.8L372.2 164.8L370.6 168.5L369.6 169.2L368.0 169.7L366.3 170.2L365.7 172.3L363.4 173.3L361.0 174.2L359.1 173.2L359.7 176.0L356.3 175.4L353.7 175.9L353.9 177.8L357.0 178.8L358.4 180.1L360.6 182.8L360.1 187.9L359.0 189.4L355.6 189.3L353.9 189.5L351.7 189.0L348.9 189.0L346.4 188.6L343.3 190.4L344.3 192.8L344.4 196.3L343.7 198.9L342.6 201.5L343.1 202.5L344.0 202.8L344.2 204.4L343.8 206.4L346.0 206.5L346.9 205.8L348.9 206.2L349.5 207.7L350.3 208.6L351.3 208.8L352.2 207.9L353.6 206.9L356.0 206.9L358.4 206.9L359.9 204.9L361.5 204.4L362.0 202.7L363.2 201.5L362.4 200.1L364.7 195.7L367.4 195.1L369.4 193.4L369.5 190.3L372.5 189.5L376.7 190.2L378.5 188.7L381.5 187.0L384.2 188.1L386.3 192.2L388.5 193.9L390.3 195.0L391.8 195.2L392.8 196.2L395.8 198.1L396.5 199.5L397.5 201.0L396.7 203.7L397.6 203.5L398.6 201.3L399.5 201.1L399.6 199.8L398.0 198.8L398.8 197.1L400.7 197.5L402.0 198.8L402.3 197.8L402.0 197.3L400.1 196.0L398.5 195.2L396.5 194.3L397.1 193.8L394.9 193.2L392.4 191.1L391.2 189.0L389.2 187.7L388.4 186.4L388.6 184.4L390.1 183.5L391.7 183.8L391.3 184.1L391.2 185.0L391.9 185.9L392.5 184.8L393.8 185.1L394.5 187.3L396.4 189.2L399.7 190.9L401.7 191.8L403.4 193.2L403.8 193.4L404.2 193.8L404.0 194.6L404.0 196.4L404.3 197.6L405.6 199.1L406.0 199.3L407.4 201.5L408.3 202.7L408.8 204.4L409.8 206.5L411.7 207.6L412.1 205.3L413.1 207.6L412.7 203.7L414.7 204.4L414.6 202.9L412.1 201.0L412.9 200.4L411.7 199.2L411.1 197.6L411.4 197.0L412.7 198.4L413.9 198.4L414.9 197.9L413.3 196.5L415.8 195.8L418.2 196.1L419.1 197.9L420.7 196.5L424.0 195.8L424.6 195.4L422.3 194.1L421.9 193.1L421.1 191.6L421.6 189.8L422.6 188.7L422.7 185.6L424.3 185.2L424.2 184.6L425.5 182.7L426.0 181.3L427.9 181.0L429.8 182.0L431.5 182.6L430.1 184.5L432.4 185.3L432.2 186.5L433.4 187.0L436.0 185.5L438.1 185.1L438.4 184.1L436.3 184.3L435.2 183.7L434.8 182.1L436.4 181.1L438.3 181.0L439.5 180.2L441.1 180.0L443.0 180.1L440.2 181.1L441.5 182.2L440.2 184.3L438.8 184.7L440.9 186.2L443.4 187.2L446.5 189.4L450.0 191.4L450.8 193.2L450.7 194.3L448.5 195.7L446.6 195.4L444.2 195.8L441.0 194.8L437.0 193.0L433.6 193.0L431.2 193.8L428.9 195.4L424.8 195.1L424.6 195.7L424.2 197.1L420.9 197.2L418.8 199.7L420.3 200.9L419.5 202.9L421.2 204.4L422.8 207.0L425.1 206.9L427.3 208.3L428.8 208.0L429.2 206.9L431.5 207.0L433.4 208.4L436.7 208.1L438.0 206.6L439.9 207.2L441.2 207.0L441.4 209.2L441.0 210.2L441.5 212.2L440.6 214.1L440.1 216.3L439.8 217.0L439.5 219.0L439.1 220.2L438.7 221.2L437.6 221.8L435.9 221.7L434.3 221.0ZM127.9 125.8L129.6 126.3L131.3 126.7L133.0 127.2L135.2 126.7L137.4 126.3L140.0 125.9L142.7 125.6L145.4 125.2L148.2 124.9L151.1 124.5L152.7 125.3L154.3 126.1L156.8 125.8L159.3 125.6L161.7 125.4L163.7 125.9L165.7 126.4L167.7 126.9L169.7 127.4L169.8 128.9L171.9 129.2L173.9 129.4L176.0 129.6L177.2 130.2L178.3 130.7L180.8 128.0L183.2 128.2L185.7 128.3L187.4 128.9L189.1 129.5L190.9 130.1L193.5 129.9L196.2 129.8L197.5 128.3L199.0 128.5L200.5 128.7L198.2 131.0L201.0 129.2L202.7 126.1L205.5 123.9L209.8 120.9L211.2 122.4L210.7 124.5L210.6 125.6L210.2 128.3L211.5 129.3L212.9 130.3L215.9 129.6L219.1 127.6L220.8 125.4L223.7 125.4L226.6 125.4L226.8 126.7L225.9 128.0L223.5 130.3L223.0 131.6L220.8 132.4L218.5 133.2L216.9 133.0L215.4 132.8L213.7 133.9L210.2 136.4L207.3 138.0L205.1 138.7L202.8 139.4L200.4 140.4L197.9 141.3L193.5 143.6L189.5 146.7L186.6 150.6L189.6 150.8L188.0 154.7L189.9 154.7L191.8 154.7L193.6 155.5L195.5 156.4L197.5 157.9L199.5 159.4L202.0 159.5L204.6 159.6L203.2 162.3L201.9 165.1L202.3 167.1L204.2 169.3L206.4 168.8L208.1 166.1L209.7 162.1L208.9 160.8L212.0 159.6L215.0 158.4L217.2 156.4L218.2 154.5L217.8 152.7L216.6 150.8L219.9 148.2L220.6 146.0L222.3 142.5L223.5 142.0L225.2 142.2L226.8 142.5L230.0 142.2L232.2 144.1L232.5 145.3L235.5 145.5L234.9 147.5L234.0 150.3L235.4 150.8L236.2 152.3L239.5 150.8L242.6 148.2L244.2 147.2L244.7 149.4L246.4 153.0L246.5 155.4L245.1 156.9L247.1 158.1L249.2 159.2L251.3 160.3L252.1 161.1L252.2 163.1L253.4 163.6L252.9 167.3L249.7 169.1L246.1 169.8L242.9 172.1L239.4 172.3L237.3 172.1L235.2 171.8L232.2 171.8L230.1 172.1L227.8 173.9L224.9 174.9L220.6 178.4L217.5 180.7L219.3 180.2L223.9 176.9L226.3 175.9L228.7 174.9L231.8 174.6L233.2 175.9L230.8 177.4L230.5 180.2L230.5 182.3L232.8 183.6L236.4 183.0L239.3 180.2L239.9 183.0L237.0 184.6L234.4 185.4L231.8 186.1L229.6 187.1L226.4 189.2L225.1 189.0L225.6 186.6L230.0 184.6L226.7 184.6L224.2 185.1L224.2 185.9L221.8 186.9L219.3 187.9L216.8 188.7L215.2 190.2L214.2 192.3L214.4 193.6L215.4 193.9L212.9 194.4L211.0 194.9L206.9 195.9L210.1 195.7L206.0 196.7L205.3 199.1L202.7 201.1L201.9 199.6L202.2 201.4L201.6 203.5L199.3 205.6L199.4 202.2L198.2 205.6L198.9 207.1L198.6 209.7L196.5 211.8L194.2 212.6L192.5 214.2L189.6 216.0L186.5 217.8L183.6 220.7L182.7 222.5L182.8 224.4L183.7 228.3L183.8 232.5L183.4 235.4L182.4 236.9L180.6 236.9L179.8 235.1L179.1 233.0L178.3 230.9L178.7 226.7L177.4 224.6L176.6 224.1L174.1 225.4L172.9 223.9L171.7 223.3L169.2 223.6L167.3 223.3L164.5 223.9L164.3 226.7L162.5 226.7L159.7 225.2L156.3 224.9L152.7 225.7L150.2 227.8L146.3 230.1L145.0 233.0L145.3 235.1L143.9 237.4L142.9 240.8L141.9 244.2L142.8 248.9L144.1 250.8L145.0 253.7L147.5 254.2L148.2 255.5L152.0 254.4L155.3 253.4L156.8 252.3L158.0 248.7L158.5 247.9L162.8 246.6L166.0 246.6L166.6 247.1L166.4 248.4L164.9 249.7L164.2 251.6L163.3 255.0L162.2 254.4L161.9 256.8L161.9 258.4L160.0 261.2L161.6 261.8L162.3 261.2L164.6 261.5L166.7 261.0L168.9 261.2L170.3 261.5L171.5 262.5L172.8 263.6L171.9 266.2L171.4 268.6L171.5 270.4L170.9 272.5L170.8 274.3L171.4 275.6L173.1 277.7L173.9 279.3L175.7 279.8L176.9 279.5L179.2 278.5L180.0 277.7L181.3 278.0L182.5 278.2L184.9 280.1L186.3 280.3L188.0 278.5L188.9 278.2L189.5 275.1L191.0 273.8L192.4 273.8L194.5 273.5L197.3 271.7L198.3 270.4L199.3 270.4L199.9 271.2L198.0 272.7L198.6 274.0L198.5 275.6L197.5 276.7L199.0 279.0L199.6 276.9L198.9 276.1L199.0 274.0L201.8 273.0L202.7 270.9L203.2 272.7L204.8 273.0L206.4 274.3L206.3 275.1L208.4 275.4L210.9 275.1L212.0 276.1L213.8 276.4L215.2 275.6L218.0 274.8L220.8 274.8L218.9 275.6L219.6 276.9L221.4 276.9L223.2 278.2L223.3 280.3L225.4 280.8L226.9 281.9L228.3 283.7L228.2 285.0L230.5 286.3L231.4 287.1L234.1 287.6L236.2 287.1L238.5 287.6L239.4 288.2L241.0 288.7L243.5 290.8L243.7 291.8L244.7 291.8L245.1 293.4L246.4 297.8L247.6 298.4L247.8 300.2L245.9 302.3L246.6 303.1L250.8 303.3L250.8 305.9L252.6 304.4L255.4 305.2L259.3 307.0L260.5 308.3L260.1 309.9L262.8 309.1L267.2 310.4L270.7 310.4L274.2 312.5L277.2 315.3L278.8 316.1L280.9 316.1L281.8 317.2L282.6 320.3L283.1 321.9L282.3 326.3L281.1 327.9L278.0 331.6L276.5 334.7L275.0 336.8L274.3 337.0L273.7 338.9L273.8 341.8L273.6 344.8L273.4 347.8L272.9 350.6L272.7 354.0L270.6 357.4L270.5 360.1L268.6 361.4L268.2 362.9L265.8 362.9L262.4 364.0L260.7 365.0L258.3 365.8L256.0 367.9L254.3 370.5L254.2 372.3L254.6 373.9L254.5 376.5L254.2 377.8L252.8 379.1L251.0 383.8L249.3 385.9L247.9 387.0L247.5 389.6L246.2 391.2L245.6 392.7L243.5 394.3L241.6 393.8L240.6 394.0L238.4 392.7L236.9 393.0L235.3 391.4L235.3 392.7L238.6 395.1L238.6 396.9L240.3 398.0L240.3 399.3L239.1 402.6L236.2 403.9L234.1 404.2L232.0 404.5L229.6 404.2L230.4 405.8L230.5 407.8L231.3 409.1L230.2 409.9L228.1 410.4L225.9 409.4L225.2 410.2L226.2 412.8L227.9 413.5L228.6 412.5L229.7 414.1L228.1 414.8L226.9 416.4L227.5 419.0L227.2 420.2L225.4 420.2L224.2 421.8L224.2 423.6L226.8 425.4L229.1 425.9L229.0 428.2L227.1 429.7L227.0 432.8L225.6 433.8L225.2 434.8L226.9 437.5L228.8 438.8L227.8 438.8L225.8 438.3L224.1 440.3L224.7 442.5L221.3 441.8L218.3 440.0L215.4 438.8L213.8 437.0L213.8 435.5L212.1 434.0L210.1 429.7L209.9 427.2L211.4 425.1L208.1 424.4L209.1 422.3L208.2 417.9L211.1 419.0L210.6 416.3L210.2 413.5L208.5 412.8L209.0 416.1L207.6 415.6L207.0 412.0L206.1 407.1L206.7 405.5L205.3 402.9L204.3 400.0L205.1 399.8L205.3 395.6L205.8 391.4L206.0 387.5L204.5 383.6L204.8 381.5L204.0 378.4L204.7 375.0L204.4 370.0L204.4 367.2L204.3 364.5L204.4 361.6L204.4 358.7L203.7 354.6L202.9 350.6L200.4 349.3L200.1 348.3L195.5 345.7L191.1 342.8L189.2 341.0L188.1 338.9L188.2 338.1L186.1 334.7L183.5 330.0L182.3 327.4L181.2 324.8L180.2 323.5L179.2 321.6L177.5 319.8L175.9 318.7L176.5 317.7L175.3 315.1L175.9 313.3L177.7 311.7L178.8 309.9L178.3 308.6L177.4 309.9L176.0 308.6L176.5 308.0L176.2 305.7L176.9 305.2L177.3 303.6L178.3 301.8L178.0 300.7L179.4 300.2L180.8 299.1L181.3 296.8L182.0 296.0L183.2 295.7L185.1 292.9L184.2 292.1L184.7 290.5L184.3 288.2L184.8 287.6L184.4 285.3L183.6 284.0L182.9 283.2L182.5 281.6L183.0 281.1L182.1 280.1L181.0 279.3L179.9 279.5L179.4 280.3L178.4 281.1L177.7 281.6L178.8 283.2L178.1 283.5L176.7 284.0L176.3 282.4L175.3 282.7L174.9 281.6L173.3 281.1L172.2 281.6L171.9 281.4L170.8 280.8L170.4 280.1L170.7 279.0L169.1 278.0L168.3 276.9L167.6 276.4L167.8 277.2L166.9 277.2L165.8 276.4L165.8 275.6L166.2 273.8L164.5 272.0L164.1 271.2L163.0 270.1L162.0 269.1L162.9 268.8L162.5 268.0L161.9 267.8L161.6 268.6L160.2 268.3L158.5 267.5L157.3 267.5L156.7 267.0L154.2 266.5L153.1 265.9L152.1 264.9L149.6 262.0L148.6 261.2L146.9 260.4L145.5 260.7L143.5 261.5L142.4 261.8L140.8 261.2L139.3 260.7L137.4 259.4L135.6 259.1L133.3 257.8L131.4 256.8L131.0 256.0L129.7 255.7L127.6 255.0L126.8 253.9L124.6 252.3L123.7 250.8L123.4 249.5L124.1 249.2L124.0 248.4L124.6 247.6L124.7 246.9L124.3 245.5L124.2 244.5L123.8 243.2L122.2 240.6L120.3 238.8L119.5 236.9L117.8 235.9L117.8 234.8L118.2 233.8L117.3 233.0L116.3 231.7L116.3 229.9L114.9 229.9L114.0 228.3L113.5 227.0L113.5 226.2L112.9 224.4L112.7 222.3L113.3 221.2L111.8 220.2L111.1 220.5L110.0 219.7L109.5 220.7L109.2 222.0L108.9 223.9L109.4 224.9L110.5 226.7L110.7 227.5L111.1 228.6L111.3 230.1L111.8 230.9L112.2 231.7L113.3 233.0L113.3 235.6L113.8 236.7L114.2 238.0L113.9 239.3L115.0 239.3L115.7 240.6L116.4 241.6L116.3 242.2L114.9 243.2L114.3 241.6L113.3 240.1L111.7 238.8L110.7 238.2L111.4 236.1L111.3 234.8L110.3 234.0L109.1 232.7L108.5 232.5L107.0 232.0L106.1 230.4L107.2 230.4L108.4 229.3L108.8 228.0L107.7 226.2L106.6 225.4L106.2 223.9L105.8 222.3L105.7 220.2L105.6 217.8L105.6 216.5L104.9 215.0L103.9 214.7L104.0 213.9L102.8 213.7L102.3 213.1L100.3 212.9L100.0 212.3L100.5 210.8L99.4 208.2L99.3 204.5L99.5 204.0L98.8 203.2L98.3 201.1L99.0 198.8L98.7 197.5L100.2 195.4L101.5 193.1L102.0 191.0L104.2 188.7L107.3 184.1L109.1 180.5L109.8 178.4L110.0 177.2L110.5 176.7L112.9 177.7L112.5 180.0L113.6 179.2L114.5 177.2L115.2 175.1L115.3 174.4L112.7 172.6L112.0 171.6L109.1 170.6L109.6 168.3L111.0 166.8L109.6 165.6L110.8 163.6L109.9 161.8L110.9 160.6L110.6 159.6L109.5 158.9L110.9 156.7L110.4 154.7L111.3 152.5L109.8 152.3L106.8 152.3L105.3 151.5L104.5 150.3L103.8 149.1L102.0 148.4L100.3 147.7L97.6 147.9L96.4 147.3L95.2 146.7L94.0 145.8L91.5 146.3L90.0 148.0L88.7 148.2L86.1 148.6L83.7 149.4L81.1 149.8L82.1 148.6L85.6 146.3L88.4 145.5L88.7 144.8L84.7 146.3L81.8 147.7L77.4 149.4L77.4 150.6L73.6 152.5L70.5 153.5L67.8 154.2L66.2 155.2L62.0 156.4L60.1 157.6L56.8 158.6L55.5 158.6L53.2 159.1L50.2 160.1L47.7 160.8L43.6 161.6L44.0 161.1L47.2 160.1L49.7 159.4L53.4 157.9L55.9 157.6L57.9 156.7L62.2 155.2L63.1 154.7L65.7 153.7L67.7 152.0L70.5 150.6L67.4 151.3L67.4 150.8L65.2 151.8L65.4 150.6L64.1 151.3L64.7 150.1L61.7 151.1L60.6 151.1L62.1 149.6L63.3 148.9L63.3 147.9L60.4 148.4L60.1 147.2L59.6 146.7L61.2 145.3L61.1 144.4L63.6 142.9L66.5 141.8L68.5 140.6L70.2 140.4L71.2 140.6L73.8 139.7L75.2 139.7L77.4 139.0L78.2 138.0L77.9 137.6L80.3 136.6L79.2 136.6L76.7 137.1L75.3 137.8L75.0 137.1L71.8 137.6L70.2 136.9L70.7 136.0L70.3 134.6L73.9 133.7L76.6 133.1L79.3 132.5L80.7 132.5L79.0 133.7L80.8 133.7L82.6 133.7L83.0 132.3L82.2 131.4L82.5 130.3L82.1 129.4L81.0 128.5L83.6 127.4L86.6 127.4L90.2 126.3L92.4 125.2L95.3 124.3L97.3 124.1L102.0 123.0L103.2 123.2L107.5 121.9L109.0 122.6L109.1 123.5L110.4 123.0L112.9 123.2L112.1 123.7L114.1 124.1L116.1 123.9L117.4 124.2L118.7 124.5L121.5 124.8L122.5 125.0L125.3 124.5L126.9 125.2ZM281.8 148.2L280.0 147.0L278.3 145.9L276.5 145.8L274.7 145.8L273.5 144.6L273.1 142.2L271.1 139.4L270.9 137.8L271.4 135.7L269.9 133.7L271.3 132.1L270.5 131.2L273.4 128.5L276.2 127.8L277.3 126.9L278.4 125.2L276.3 125.8L273.5 126.5L271.8 125.8L272.5 124.3L273.6 123.2L275.2 123.2L276.8 123.5L278.3 123.7L276.2 122.4L275.0 121.7L272.3 121.4L275.1 119.4L274.6 118.6L274.1 117.2L273.5 115.0L272.0 114.2L272.6 113.4L270.9 112.8L269.3 112.2L267.7 112.1L266.2 112.0L264.1 112.1L261.9 112.2L260.1 112.2L258.2 112.3L256.9 111.6L255.4 110.4L257.6 110.1L259.8 109.8L261.4 109.7L263.0 109.6L261.0 109.5L259.0 109.3L257.0 109.2L255.7 108.8L254.4 108.4L255.2 107.7L258.4 107.2L261.6 106.7L264.7 106.3L267.8 105.8L268.9 105.2L267.3 104.9L265.6 104.6L267.4 103.9L270.4 103.3L273.4 102.7L275.7 102.5L275.7 101.8L277.5 101.6L279.3 101.3L281.6 101.2L283.9 101.1L286.0 101.1L288.2 101.1L289.3 101.6L291.4 101.1L293.5 100.8L295.0 101.0L296.4 101.3L298.3 101.4L299.6 101.7L300.9 101.9L299.5 101.5L298.1 101.1L298.7 100.4L301.3 100.0L304.0 99.5L306.3 99.5L308.7 99.5L310.7 99.1L313.2 99.0L315.6 98.9L317.7 98.9L319.9 98.9L322.0 99.0L324.2 99.0L326.3 99.1L328.3 99.4L330.4 99.7L332.4 100.0L334.5 100.3L331.7 100.9L329.0 100.9L326.4 100.9L323.9 101.0L321.4 101.0L318.9 101.1L319.4 101.4L321.9 101.3L324.3 101.2L326.4 101.5L328.5 101.7L331.3 101.2L332.2 101.9L330.3 102.8L332.3 102.5L334.2 102.2L336.5 102.0L338.8 101.8L341.0 101.6L343.1 101.7L345.1 101.9L345.9 102.5L343.9 102.9L341.9 103.3L339.8 103.7L339.0 104.1L336.6 104.3L334.3 104.4L336.0 104.5L337.6 104.6L335.6 105.8L334.1 107.0L333.6 109.2L335.1 110.4L332.7 110.6L330.1 111.2L332.7 112.2L332.6 113.9L330.9 114.1L332.5 115.8L330.8 115.9L329.0 116.0L330.7 116.9L330.0 117.5L327.7 117.9L325.4 117.9L327.2 119.4L327.0 120.2L325.5 119.8L324.0 119.4L323.0 120.0L325.2 120.5L327.0 121.7L327.2 123.5L324.2 123.9L323.1 123.1L321.4 121.9L321.6 123.3L319.3 124.5L321.5 124.5L323.8 124.5L326.0 124.7L323.5 125.6L321.1 126.6L318.6 127.4L316.1 128.3L313.5 128.7L310.9 129.2L309.1 129.2L307.1 130.1L304.1 132.3L302.0 133.1L299.9 133.9L298.6 134.1L296.1 134.6L293.5 135.1L291.4 136.6L291.0 138.2L289.6 139.7L286.1 141.5L286.2 143.4L284.7 145.4L283.0 147.7ZM245.1 143.9L242.8 142.9L241.2 142.6L239.6 142.2L238.0 141.8L236.5 141.3L234.2 139.9L232.6 138.7L230.9 137.6L228.9 137.7L226.9 137.8L224.7 137.1L226.8 135.5L229.8 135.4L232.9 135.3L235.1 133.2L238.6 131.0L238.6 129.2L236.2 128.3L233.7 127.4L235.2 126.9L234.0 126.2L232.9 125.4L230.9 125.2L227.6 125.6L224.8 125.3L222.1 125.0L220.5 124.7L219.0 124.3L216.5 124.1L215.9 123.2L216.0 122.4L217.3 120.2L220.3 118.3L222.7 117.5L225.0 117.2L227.3 116.9L225.0 118.1L225.0 119.6L227.9 117.9L230.3 117.4L232.8 117.0L233.7 119.2L232.5 120.4L236.1 119.8L238.3 119.1L239.6 119.6L240.9 120.2L242.6 121.1L242.0 122.2L245.5 121.5L246.1 123.0L247.8 123.5L249.5 123.9L250.5 124.8L250.8 126.7L247.1 127.8L248.7 128.5L250.4 129.2L252.5 129.8L254.0 131.9L256.7 131.9L255.3 133.4L250.9 136.2L249.3 135.3L247.7 133.0L245.3 133.2L244.4 134.6L245.4 136.0L247.3 137.1L247.7 137.6L247.6 139.9L246.2 141.5L244.1 141.1L242.4 140.1L240.7 139.2L242.2 141.1L243.6 142.5ZM196.2 125.0L191.9 126.9L189.5 126.8L187.1 126.7L184.1 127.3L181.0 127.8L178.1 128.0L175.1 128.1L172.2 128.3L170.4 127.5L168.7 126.7L168.3 125.0L170.6 124.6L172.9 124.3L175.0 124.2L177.2 124.1L174.5 123.7L172.7 123.8L170.8 123.9L168.5 123.9L173.4 122.2L170.8 122.2L168.7 121.5L171.7 120.0L173.8 119.2L176.7 118.5L179.6 117.9L180.7 118.3L178.9 119.3L181.1 118.9L183.4 118.5L184.3 119.7L187.4 118.5L187.9 119.4L187.1 121.4L188.8 120.5L190.0 118.3L191.7 118.1L193.0 118.3L193.9 119.2L192.7 121.3L191.7 122.8L193.4 123.9L195.4 125.0ZM160.9 123.0L161.1 122.2L160.0 121.5L158.9 120.9L160.6 120.0L163.6 118.5L166.8 117.1L166.9 115.8L169.7 115.7L172.5 115.6L174.2 116.0L176.1 116.0L178.1 116.0L178.9 116.7L179.6 117.5L176.8 118.1L174.1 118.9L171.3 119.6L167.4 121.1L166.4 121.9L163.7 122.5ZM197.8 112.0L197.5 112.7L199.3 112.4L200.7 112.4L199.9 113.4L197.7 114.4L194.9 114.6L192.1 114.7L189.6 115.2L187.1 115.6L184.7 115.6L185.2 115.0L187.4 114.5L189.7 114.0L187.2 114.1L184.7 114.3L182.2 114.4L180.6 114.0L185.4 112.0L187.6 111.4L189.2 111.8L190.8 112.2L192.0 113.4L194.6 113.4L194.8 111.6L197.3 110.8L198.7 111.0ZM204.3 116.9L205.7 117.3L208.9 116.9L208.9 117.5L206.2 118.6L208.0 119.4L205.8 121.4L202.3 122.2L201.0 121.9L200.5 121.3L199.3 120.4L198.1 119.6L198.8 119.0L200.3 119.1L201.9 119.2L201.7 117.7ZM213.6 119.0L210.4 120.6L208.7 120.5L209.4 118.7L210.4 117.7L212.2 116.7L214.2 116.2L215.9 116.2L217.5 116.2L220.1 116.7L215.9 118.6ZM202.7 126.9L200.9 127.6L199.2 127.0L197.7 127.3L196.2 126.3L198.3 125.6L200.2 124.8L201.5 125.2L202.1 125.6L202.2 126.1ZM214.6 134.6L214.2 135.7L215.4 135.3L216.0 136.0L217.4 136.6L219.0 137.5L218.4 138.5L219.9 138.4L220.6 139.2L218.5 139.9L216.2 139.3L215.8 138.3L213.3 139.5L210.0 140.7L210.1 139.4L207.6 139.7L210.0 138.4L211.5 136.6L213.4 134.6ZM217.6 110.1L219.0 110.1L220.5 110.2L221.4 110.8L223.0 110.8L224.5 110.8L225.1 111.5L223.8 112.2L225.2 112.7L225.6 113.2L227.7 113.2L229.7 113.4L232.5 113.0L234.2 112.9L235.9 112.8L238.2 113.0L239.1 113.8L238.8 114.6L237.2 115.1L234.6 115.6L232.8 115.3L230.4 115.5L228.0 115.6L226.4 115.6L224.8 115.6L222.5 115.4L220.7 115.1L218.9 114.8L219.6 113.6L220.5 112.6L219.9 111.8L218.4 111.7L216.9 111.6L216.0 110.9ZM259.2 99.6L261.8 99.6L264.4 99.6L267.0 99.6L269.7 99.7L271.4 99.7L273.2 99.8L274.6 99.9L275.9 100.0L278.0 100.4L277.6 100.8L275.6 101.2L273.6 101.6L271.8 101.7L269.9 101.9L268.3 102.2L269.8 102.2L271.3 102.2L269.2 102.7L267.2 103.2L264.3 103.7L260.5 105.1L258.9 105.3L257.3 105.5L255.9 105.8L253.7 105.9L251.4 106.0L253.2 106.2L251.9 106.5L252.1 107.5L250.2 108.0L247.3 108.6L245.8 109.4L243.1 110.0L243.0 110.4L245.6 110.3L245.2 110.8L242.6 111.4L240.0 112.0L238.2 111.7L236.5 111.5L234.1 111.6L231.8 111.8L229.7 111.6L227.0 111.4L227.8 110.5L231.1 110.0L231.8 108.6L233.0 108.5L234.4 108.9L235.9 109.4L235.4 108.0L233.4 107.7L235.4 107.0L238.4 106.5L239.5 106.0L238.3 105.3L238.8 104.3L240.7 104.4L242.6 104.4L243.5 104.6L246.5 103.9L245.0 103.8L243.5 103.7L240.9 103.8L238.3 103.9L236.5 103.3L236.2 102.6L235.2 102.1L235.7 101.6L238.1 101.3L239.8 101.2L242.9 100.9L245.6 100.4L247.2 100.4L248.1 100.9L250.3 100.0L252.3 99.8L255.0 99.6L257.1 99.6ZM237.5 105.4L238.5 106.0L235.9 106.5L231.6 107.9L228.8 108.0L227.4 108.0L225.9 107.9L225.4 107.0L226.3 106.4L228.0 105.8L225.3 105.9L224.5 105.3L224.6 104.5L226.6 103.7L228.3 103.2L229.9 103.1L229.8 102.7L231.5 102.7L233.2 102.6L233.8 103.5L235.7 103.9L237.6 104.2ZM213.4 111.2L214.0 111.9L212.8 112.9L210.4 114.4L207.6 114.6L206.3 114.3L207.7 113.1L205.0 113.3L206.7 111.7L208.3 111.8L211.4 111.1ZM189.5 109.2L187.4 110.6L185.1 111.4L183.6 111.4L179.5 112.3L176.6 112.6L175.1 112.2L179.9 110.7L182.4 110.0L184.9 109.4L187.2 109.4ZM209.9 106.0L211.2 106.1L212.5 106.2L214.0 106.6L215.5 106.9L215.4 107.9L214.9 108.6L212.8 108.4L211.2 107.8L209.6 107.7L208.0 107.7L210.2 107.1L209.0 106.7ZM252.6 169.3L251.1 170.8L249.0 173.1L250.7 172.2L251.7 172.8L250.9 173.6L252.4 174.4L253.4 173.7L255.2 174.5L254.1 176.4L255.6 175.9L255.5 177.3L255.7 178.9L254.3 181.1L253.3 181.2L252.1 180.7L253.1 178.7L252.6 178.3L249.7 180.5L248.4 180.5L250.2 179.2L248.4 178.7L246.3 178.8L242.3 178.7L242.3 177.9L243.7 177.0L243.1 176.4L245.2 174.9L248.6 170.8L250.4 169.3ZM112.9 176.4L111.8 176.7L109.1 175.6L109.2 174.6L107.9 173.9L108.0 173.1L106.3 172.6L106.5 171.3L107.2 170.7L108.9 171.2L109.8 171.6L111.5 171.8L111.6 172.7L111.8 173.9L113.1 175.0ZM105.1 162.5L107.1 162.3L104.2 165.1L104.3 167.1L103.5 167.1L103.2 166.0L103.4 164.8L103.1 164.1L103.6 162.9L104.4 162.1ZM171.1 245.5L172.9 243.7L175.1 242.7L177.4 242.2L179.4 242.4L181.2 242.4L183.1 243.2L183.9 244.2L186.2 244.0L188.6 246.1L189.8 247.4L190.5 247.4L191.8 247.9L191.5 248.7L193.3 248.7L194.8 249.7L194.5 250.4L192.9 250.8L191.5 250.8L189.9 250.5L186.6 250.9L188.2 249.5L187.4 248.7L186.1 248.6L185.3 247.9L185.0 246.3L183.6 246.4L181.7 245.7L181.1 245.2L178.2 244.8L177.3 244.2L178.3 243.6L176.1 243.5L174.3 244.8L173.4 244.9L173.0 245.5L171.9 245.8ZM193.6 254.9L193.9 254.0L197.7 254.6L198.6 254.0L197.6 252.9L197.8 251.9L196.4 251.5L197.0 250.7L198.3 250.9L200.3 251.3L200.6 250.8L202.4 250.8L203.7 251.6L204.2 251.4L204.6 252.3L205.9 252.3L205.7 253.1L206.7 253.1L207.7 254.2L206.7 255.2L205.7 254.6L204.7 254.7L203.9 254.6L203.5 255.1L202.6 255.3L202.3 254.6L201.5 255.0L200.4 256.8L199.8 256.4L199.8 255.6L198.3 255.2L197.3 255.4L195.9 255.2L194.8 255.7L193.6 254.9ZM184.9 255.2L185.2 254.6L186.1 254.4L186.6 254.5L188.1 254.7L189.2 255.3L189.5 256.0L187.9 256.1L187.2 256.5L186.0 256.1L184.9 255.2ZM210.2 254.7L212.2 254.4L213.4 254.6L213.8 255.1L213.1 255.8L211.4 255.8L210.1 255.9L210.1 254.8ZM221.3 274.7L222.7 274.3L223.1 274.4L222.9 276.4L221.0 276.7L220.6 276.4L221.3 275.7ZM187.4 236.9L188.0 237.0L188.5 239.2L188.3 240.7L187.7 240.8L187.4 239.3L186.7 238.5ZM186.3 232.7L187.4 232.6L188.9 232.6L188.9 233.3L186.3 233.8ZM189.1 232.1L190.6 233.3L190.0 235.1L189.6 234.8L189.9 233.4L189.0 232.4ZM228.1 439.5L229.4 440.8L231.1 442.7L234.3 444.1L237.3 444.8L236.9 446.0L235.1 446.1L233.8 445.3L232.6 445.2L230.5 445.2L230.1 446.7L228.3 446.0L226.2 445.6L223.1 444.3L220.5 442.9L216.5 440.1L218.4 440.7L221.8 442.3L224.9 443.2L225.3 442.0L225.2 440.4L226.6 439.3ZM338.0 132.9L337.4 134.4L339.2 135.9L336.7 137.7L334.0 138.4L331.3 139.2L329.8 139.7L327.5 139.3L325.0 139.0L322.6 138.6L324.5 137.6L322.7 137.0L320.9 136.4L324.1 136.0L324.2 135.3L322.4 135.1L320.6 134.8L322.1 133.3L324.7 133.0L327.2 134.5L330.0 133.3L332.1 133.9L335.1 132.7ZM216.0 141.1L215.7 141.8L212.9 142.8L211.7 142.7L212.0 142.0L214.2 141.1ZM219.0 142.2L219.8 142.7L218.8 143.9L217.7 143.9L217.8 143.1ZM232.5 128.5L235.1 128.6L235.2 130.1L233.3 131.2L231.0 131.0L231.1 129.6ZM233.6 172.8L236.7 173.4L238.5 174.4L238.3 174.9L237.4 174.9L235.0 174.1L234.1 173.2ZM232.0 180.9L233.5 181.8L235.8 181.6L234.5 182.7L233.6 182.9L231.9 182.4L231.0 181.2ZM57.4 148.1L55.8 148.5L55.1 148.1L54.8 147.4L57.1 147.0L58.3 147.2ZM192.8 109.0L196.3 108.3L197.7 108.4L199.1 108.4L198.4 109.3L195.1 109.7L193.2 109.5ZM195.5 107.9L199.0 107.0L200.4 107.1L201.8 107.1L201.3 107.8L198.1 108.1L196.8 108.0ZM220.6 106.9L222.0 107.3L222.8 108.1L220.3 108.7L218.7 108.2L219.0 107.5ZM213.7 113.6L216.7 113.1L218.3 113.8L217.0 114.9L214.0 115.2L212.9 114.5ZM357.4 151.2L355.3 153.8L357.2 153.5L359.3 153.5L358.8 155.5L357.0 157.7L359.0 157.9L360.9 161.0L362.2 161.4L363.4 164.2L363.9 165.2L366.3 165.7L366.1 167.3L365.1 168.0L365.9 169.3L364.1 170.7L361.4 170.7L358.0 171.3L357.1 170.8L355.8 172.0L353.9 171.7L352.5 172.7L351.4 172.2L354.4 169.5L356.2 169.0L353.1 168.6L352.6 167.6L354.7 166.8L353.6 165.5L354.1 163.8L357.0 164.1L357.3 162.6L356.0 161.0L353.7 160.6L353.2 159.9L353.9 158.8L353.3 158.2L352.2 159.3L352.2 156.9L351.3 155.7L352.1 153.2L353.6 151.2L355.1 151.4ZM350.9 162.9L351.2 164.7L349.6 166.9L346.1 168.4L343.3 168.0L345.0 165.4L344.1 162.9L346.9 160.9L348.4 159.8L350.0 159.7L352.0 161.2ZM384.8 105.3L385.3 104.7L387.4 104.7L389.3 105.3L391.9 105.9L394.4 106.6L392.7 107.0L391.0 107.4L390.5 108.8L389.2 109.1L388.9 110.8L387.1 110.8L385.3 110.2L383.6 109.6L384.8 108.9L382.5 108.4L379.4 106.8L378.1 105.4L380.0 105.0L381.9 104.7L382.8 105.4ZM399.7 108.7L398.2 109.1L396.7 109.5L393.9 109.1L394.8 108.5L393.7 108.0L395.2 107.8L396.7 107.6L397.5 108.3ZM402.3 104.6L400.5 105.6L398.4 105.7L396.4 105.8L394.2 105.7L392.0 105.5L391.6 105.0L389.5 105.0L387.8 104.2L389.9 104.0L392.1 103.7L394.3 104.1L395.5 103.6L397.4 103.8L399.3 104.0ZM446.3 120.6L447.7 120.2L447.1 119.0L449.3 117.2L447.7 117.0L449.0 116.1L450.4 115.2L449.4 114.2L450.8 113.7L452.2 113.2L454.3 112.5L456.3 111.9L458.7 111.7L461.1 111.5L463.1 110.8L465.8 110.5L467.6 111.3L467.0 111.9L464.7 112.4L462.4 112.9L460.4 113.4L458.4 113.9L456.6 114.8L454.8 115.8L453.7 117.8L452.3 119.9L453.6 121.6L457.7 123.4L456.8 123.6L454.0 123.5L451.3 123.3L450.3 122.3L447.1 121.8ZM509.1 106.8L507.6 106.9L506.2 107.0L503.8 106.7L501.4 106.5L498.1 105.8L495.5 104.5L493.1 104.2L494.2 103.6L495.3 103.0L496.6 102.8L497.8 102.6L501.7 103.5L504.5 104.3L507.3 105.1ZM518.0 107.8L515.6 108.1L513.1 108.3L510.7 108.6L510.1 106.1L511.0 105.9L512.3 106.0L514.9 106.6L517.4 107.1ZM575.2 112.1L577.3 112.2L579.4 112.2L583.0 112.7L586.7 113.3L587.9 114.8L585.0 114.7L582.1 114.7L580.2 115.2L575.1 113.9L573.8 112.5ZM589.6 114.1L592.1 114.1L594.6 114.2L597.1 114.2L596.6 115.0L593.8 114.9ZM585.8 117.9L585.4 117.8L585.7 116.9L587.4 116.7L590.8 117.5L591.8 118.1L589.4 118.1L587.6 118.0ZM656.2 121.7L658.7 123.2L657.1 123.3L655.6 122.6ZM69.8 121.7L71.3 122.0L72.9 122.2L72.2 122.5L69.7 123.0L67.3 123.2ZM60.6 127.3L61.4 128.1L62.1 128.9L62.7 130.0L63.3 131.2L61.1 132.6L61.5 133.1L63.4 131.5L65.5 131.7L67.6 131.8L68.0 133.9L64.9 134.9L61.7 135.2L58.5 137.4L57.2 137.9L55.6 137.8L55.4 137.0L54.0 136.4L55.0 135.4L53.8 135.0L51.4 135.3L51.6 134.5L53.2 133.6L50.3 134.2L49.5 135.3L47.1 136.2L53.8 131.7ZM649.4 170.7L655.0 175.2L651.3 174.3L652.9 178.0L656.7 180.6L658.0 182.4L655.3 180.9L655.3 182.9L653.5 180.7L651.9 178.2L649.6 175.5L648.6 173.6L646.0 170.2L642.8 167.7L640.0 164.3L640.8 163.2L639.0 162.0L639.5 161.7L641.5 163.3L644.3 165.7L646.4 168.2ZM667.1 205.7L667.4 207.8L668.4 209.1L668.1 210.9L666.0 212.2L662.2 212.3L660.4 215.3L658.5 214.3L657.5 212.3L654.0 212.9L652.0 214.2L649.4 214.2L652.5 216.1L652.8 220.6L651.8 221.7L650.3 220.7L649.9 218.3L648.2 217.5L646.6 215.7L648.3 215.0L648.8 213.3L650.4 212.0L651.2 210.2L655.2 209.4L657.7 209.9L657.7 205.3L659.8 206.5L661.6 203.9L662.3 202.9L661.9 199.7L659.8 196.8L659.8 195.2L661.7 194.7L665.0 198.3L666.2 200.4L665.7 203.0ZM662.3 187.5L664.1 188.0L664.9 186.9L667.3 189.8L664.7 190.5L664.5 193.1L660.1 191.3L660.8 194.2L658.4 194.2L656.5 191.6L656.3 189.7L658.4 189.5L656.6 185.9L655.8 183.9L660.1 186.6ZM657.1 213.5L657.8 214.4L657.2 216.0L656.0 215.2L655.1 215.8L655.2 217.3L653.4 216.6L652.9 215.3L653.5 213.8L654.8 214.1L655.2 213.0ZM637.0 239.0L636.5 243.2L636.0 245.4L634.3 243.2L633.7 241.2L634.5 238.6L635.8 236.7L637.0 237.4ZM613.8 254.0L612.1 255.2L610.1 254.4L609.7 252.2L610.6 251.0L612.9 250.3L614.3 250.3L614.9 251.3L614.1 252.5ZM551.4 283.1L551.1 285.9L550.2 286.6L548.2 287.2L547.0 285.1L546.5 281.4L547.3 277.1L548.9 278.6L550.1 280.4ZM638.9 254.4L640.4 255.2L641.0 254.5L641.3 255.2L641.1 256.2L642.3 258.1L642.0 260.3L640.8 261.2L640.8 263.3L641.5 265.3L642.8 265.6L643.8 265.3L646.8 266.8L646.8 268.2L647.6 268.8L647.5 270.0L645.6 268.7L644.6 267.4L644.1 268.3L642.4 266.8L640.4 267.1L639.2 266.6L639.2 265.5L639.8 264.8L639.0 264.2L638.8 265.2L637.5 263.7L637.0 262.5L636.5 260.0L637.6 260.9L637.2 256.8L637.5 254.4ZM653.9 280.8L654.2 282.5L654.5 284.0L653.8 286.4L652.8 283.7L651.8 285.0L652.7 287.0L652.1 288.2L649.3 286.7L648.5 284.8L649.1 283.6L647.6 282.3L647.0 283.4L645.9 283.3L644.3 284.8L643.8 284.0L644.6 281.8L646.0 281.0L647.2 280.1L648.1 281.3L649.8 280.6L650.0 279.4L651.7 279.3L651.3 277.3L653.3 278.5L653.6 279.8ZM650.2 270.0L650.9 271.0L651.9 273.9L650.0 273.2L650.1 274.1L650.9 275.7L649.8 276.3L649.6 274.5L648.9 274.3L648.3 272.7L649.7 272.9L649.6 272.0L647.9 270.0ZM647.9 275.9L647.2 276.8L646.6 278.4L646.0 279.2L644.4 277.4L644.8 276.7L645.3 276.0L645.4 274.4L646.6 274.2L646.5 276.0L647.9 273.4ZM642.7 271.7L644.1 272.5L645.6 272.5L645.7 273.6L644.7 274.7L643.3 275.5L643.1 274.3L643.2 272.9ZM637.4 273.1L638.0 275.2L636.6 276.7L635.6 278.4L632.7 280.9L633.7 279.1L635.2 277.5L636.4 275.7ZM638.6 267.6L640.6 267.7L641.5 268.6L641.1 270.9L640.0 269.6ZM635.2 298.0L637.8 300.4L635.0 300.8L634.3 302.5L634.4 304.9L632.1 306.7L632.0 309.3L631.0 313.3L630.7 312.4L628.0 313.5L627.1 311.9L625.5 311.8L624.4 311.0L621.6 311.9L620.8 310.6L619.3 310.8L617.4 310.5L617.1 307.0L616.0 306.2L614.9 304.0L614.6 301.7L614.8 299.3L616.2 297.5L617.9 298.5L619.7 298.0L620.1 295.7L621.0 295.2L623.8 294.7L625.3 292.6L626.4 291.0L627.3 290.0L629.2 288.6L630.9 286.7L631.9 284.7L632.8 284.7L634.1 286.0L634.3 287.1L635.8 287.9L637.8 288.7L637.7 289.7L636.1 289.8L636.6 291.1L634.9 292.0L633.7 294.4L635.5 296.8ZM582.7 288.5L585.2 288.8L587.8 289.1L589.9 291.6L591.8 293.4L593.1 294.5L595.3 297.3L597.7 297.4L599.7 299.1L601.0 301.3L602.8 302.5L601.9 304.7L603.2 305.6L604.0 305.6L604.4 307.5L605.1 308.9L606.8 309.2L607.9 310.8L607.2 314.1L606.9 318.1L604.4 318.1L602.5 316.0L599.6 313.8L598.7 312.2L597.0 310.1L595.9 308.2L594.2 304.5L592.2 302.3L591.5 300.1L590.6 298.0L588.5 296.4L587.3 294.1L585.5 292.7L583.0 289.8ZM607.4 318.2L610.3 318.4L612.0 319.4L613.0 319.6L613.3 320.5L617.7 320.8L618.2 319.7L622.4 321.0L623.2 322.6L626.6 323.1L629.3 324.7L626.6 325.7L624.1 324.6L622.1 324.7L619.7 324.5L617.6 324.0L615.0 323.0L613.3 322.8L612.3 323.1L608.2 322.0L607.8 320.9L605.8 320.7ZM652.2 299.1L650.4 301.7L648.6 302.2L646.4 301.7L642.6 301.8L640.5 302.2L640.2 304.2L642.2 306.5L643.5 305.3L647.8 304.4L647.6 305.6L646.6 305.2L645.6 306.8L643.5 307.8L645.6 311.1L645.1 312.0L647.1 315.0L647.0 316.8L645.7 317.5L644.9 316.6L646.1 314.5L643.8 315.5L643.2 314.7L643.6 313.8L642.0 312.2L642.2 309.7L640.7 310.5L640.7 313.5L640.6 317.3L639.2 317.6L638.2 316.9L639.0 314.5L638.8 311.9L637.8 311.9L637.1 310.1L638.1 308.4L638.5 306.3L639.7 302.4L640.2 301.3L642.1 299.4L644.0 300.2L646.9 300.5L649.5 300.4L651.8 298.5ZM664.4 305.3L667.5 304.6L668.7 303.8L672.4 304.8L672.7 305.8L673.3 310.0L675.6 311.6L677.6 308.8L680.3 307.2L682.4 307.2L684.3 308.2L686.0 309.1L688.5 309.6L692.4 311.4L696.6 312.9L698.1 314.2L699.3 315.6L699.6 317.1L703.3 318.7L703.8 320.1L701.6 320.4L702.0 322.1L703.9 323.8L705.1 326.6L706.5 326.5L706.3 327.7L708.0 328.1L707.2 328.6L709.6 329.7L709.2 330.5L707.7 330.6L707.2 330.0L705.2 329.7L703.0 329.3L701.4 327.6L700.2 326.2L699.2 323.9L696.3 322.7L694.3 323.5L692.8 324.4L692.9 326.3L691.0 327.2L689.8 326.7L687.4 326.6L685.6 324.5L683.3 324.0L682.6 324.7L679.7 324.8L680.9 322.7L682.4 321.9L682.0 319.1L681.0 316.9L676.7 314.7L674.8 314.5L671.4 312.1L670.7 313.3L669.8 313.5L669.3 312.6L669.3 311.5L667.6 310.2L670.2 309.2L671.8 309.3L671.7 308.6L668.3 308.6L667.4 307.0L665.3 306.5ZM713.4 317.1L712.2 317.3L711.8 318.1L710.5 318.7L709.2 319.3L708.0 319.3L706.2 318.6L704.9 317.8L705.1 317.0L707.2 317.4L708.5 317.2L708.9 315.9L709.2 315.9L709.4 317.3L710.7 317.1L711.4 316.2L712.8 315.2L712.6 313.7L714.0 313.6L714.4 314.1L714.3 315.5ZM716.2 314.6L715.5 315.3L715.1 313.7L714.7 312.7L713.6 311.8L712.4 310.7L710.7 310.0L711.4 309.3L712.6 310.1L713.4 310.6L714.3 311.3L715.2 312.4L716.0 313.2ZM719.8 316.8L720.5 317.4L721.5 319.0L722.5 319.9L722.1 320.6L721.5 320.9L720.6 319.9L719.7 318.2L719.3 316.2L719.6 316.0ZM650.5 326.0L650.8 325.4L652.9 324.8L654.5 324.8L655.2 324.4L656.1 324.8L655.2 325.5L652.7 326.6L650.7 327.3L649.0 329.3L647.0 329.9L646.7 329.6L647.0 328.7L648.2 327.1ZM645.9 323.9L645.5 325.4L642.0 326.1L638.9 325.8L639.0 324.9L640.9 324.3L642.2 325.1L643.8 324.9ZM634.4 324.0L635.2 324.7L636.6 324.4L637.1 325.6L634.4 326.1L632.8 326.4L631.6 326.4L632.5 324.9L633.7 324.9ZM640.6 328.9L640.4 329.6L639.5 329.6L636.6 327.8L638.8 327.3L639.9 328.1ZM658.3 297.1L658.5 298.5L659.9 298.8L660.2 299.8L660.1 302.1L658.9 301.9L658.5 303.5L659.5 304.8L658.8 305.2L657.9 303.5L657.2 300.2L657.6 298.1ZM664.1 310.9L664.9 312.9L663.0 311.8L661.1 311.6L659.7 311.8L658.1 311.7L658.8 310.2L661.6 310.1ZM656.6 311.8L655.7 312.7L654.2 312.2L653.8 311.1L656.1 311.0ZM691.7 338.8L692.2 340.8L693.8 339.8L695.4 342.0L694.9 343.1L695.0 345.4L695.8 349.2L695.3 350.6L697.8 353.7L699.1 355.0L700.4 356.1L700.0 356.7L700.9 358.4L701.1 361.2L702.2 360.6L702.8 361.8L703.5 361.4L703.2 364.1L704.3 365.8L705.1 366.7L706.3 368.9L706.2 371.0L705.8 372.4L705.1 374.1L705.4 376.3L704.4 378.6L703.5 379.8L702.0 382.1L701.4 383.6L700.1 385.5L698.0 387.9L695.8 389.2L694.0 391.2L692.7 392.5L690.9 394.7L689.4 396.0L687.8 398.0L686.5 399.8L686.2 400.6L684.4 401.5L682.0 401.6L679.4 402.7L677.8 403.7L675.9 404.8L674.8 403.7L673.7 403.2L674.8 401.9L673.4 402.4L670.4 404.2L669.0 403.5L668.0 403.1L666.9 402.9L665.2 402.2L664.6 400.6L665.3 398.6L665.9 396.2L664.9 396.2L662.9 395.9L664.2 394.6L664.6 392.7L662.7 394.5L660.6 395.0L662.4 393.5L663.4 392.0L664.8 390.7L665.5 388.8L662.7 391.0L661.0 391.9L659.2 394.0L658.0 392.9L658.6 391.6L658.1 389.6L657.4 388.7L658.0 388.1L655.8 386.5L654.3 386.4L652.7 385.1L648.7 385.4L645.2 387.0L642.6 387.2L640.6 387.0L637.7 388.4L635.6 389.0L634.6 390.3L633.4 391.4L631.5 391.5L630.0 391.7L628.3 391.2L626.6 391.5L625.1 391.6L623.2 393.0L622.6 392.9L621.3 393.6L619.9 394.5L618.3 394.4L616.9 394.4L615.2 392.7L614.2 392.2L614.8 390.7L616.1 390.4L616.6 389.8L616.9 388.8L617.8 387.0L618.1 385.4L617.8 382.8L617.9 381.3L618.5 379.8L618.1 378.1L618.2 377.4L617.5 376.3L617.8 374.2L617.0 372.2L617.0 371.1L617.7 372.2L617.5 369.8L618.5 370.5L618.9 371.6L619.2 370.2L618.5 368.2L618.5 367.3L618.1 366.5L618.7 365.0L619.3 364.4L619.8 363.1L619.9 361.6L621.1 359.7L621.0 361.7L622.2 359.9L624.2 359.0L625.5 357.9L627.4 356.9L628.5 356.7L629.0 357.0L631.0 356.1L632.4 355.8L632.9 355.2L633.5 355.0L634.8 355.0L637.3 354.2L638.7 353.1L639.6 351.7L641.1 350.4L641.4 349.3L641.7 347.9L643.7 345.7L644.2 347.9L645.3 347.4L644.7 346.2L645.6 344.9L646.5 345.5L647.1 343.5L648.6 342.2L649.3 341.2L650.5 340.7L650.6 340.0L651.6 340.3L651.7 339.7L652.8 339.3L653.9 338.9L655.4 340.1L656.5 341.7L657.9 341.7L659.3 341.9L659.1 340.5L660.5 338.4L661.6 337.7L661.3 337.1L662.5 335.6L664.0 334.6L665.2 335.0L667.1 334.5L667.3 333.1L665.7 332.3L666.9 331.9L668.4 332.5L669.5 333.6L671.3 334.3L672.0 334.0L673.3 334.8L674.8 334.1L675.6 334.3L676.2 333.8L677.1 335.1L676.3 336.5L675.3 337.5L674.5 337.6L674.6 338.7L673.7 340.0L672.7 341.3L672.8 342.0L674.4 343.5L676.0 344.3L677.0 345.2L678.4 346.7L679.0 346.7L680.1 347.4L680.3 348.2L682.3 349.1L684.0 348.2L684.7 346.8L685.3 345.6L685.9 344.2L686.9 342.1L686.8 340.9L687.1 340.1L687.1 338.6L687.7 336.6L688.2 336.1L687.9 335.2L688.7 333.9L689.3 332.4L689.4 331.7L690.4 330.7L690.9 332.0L690.9 333.6L691.4 333.9L691.3 335.0L692.0 336.3L692.0 337.8ZM671.2 409.4L672.6 410.3L674.0 409.9L676.0 409.4L677.2 409.6L675.3 412.7L674.0 413.6L672.4 415.6L672.1 414.9L669.4 416.7L669.1 416.6L667.9 416.5L668.1 414.3L668.9 412.6L669.1 410.3L669.9 409.1ZM739.3 407.5L737.5 408.9L735.1 410.7L732.7 411.7L732.8 411.0L732.2 410.6L735.1 408.5L735.4 407.1L733.8 406.1L734.6 405.1L736.7 404.2L738.4 402.2L739.5 400.5L739.7 398.8L740.1 398.3L739.7 397.2L739.4 394.9L739.5 393.1L740.5 392.9L740.8 394.3L742.1 395.0L741.3 397.3L741.1 400.1L742.3 398.3L742.8 399.0L741.9 401.0L743.0 401.8L744.4 402.0L746.3 401.0L747.1 401.3L745.0 403.6L743.3 405.2L741.7 405.1L740.6 405.9L740.0 407.0ZM717.1 416.5L720.0 415.2L722.3 413.8L724.8 411.9L726.1 411.2L727.5 409.8L729.8 408.6L729.5 409.7L729.2 410.8L731.5 409.7L731.2 410.8L730.4 411.9L728.7 413.1L725.8 415.0L723.9 416.1L723.7 417.3L722.0 417.3L719.4 418.3L717.5 420.0L714.2 422.6L711.6 423.7L710.0 424.5L708.1 424.4L707.5 423.6L705.4 423.4L705.8 422.4L708.5 420.5L713.1 418.0L714.9 417.5ZM476.6 335.4L477.2 336.5L477.7 338.2L477.8 341.4L478.4 342.6L478.1 343.9L477.6 344.6L476.9 343.1L476.4 343.9L476.8 345.8L476.5 346.9L475.8 347.5L475.5 349.7L474.4 352.8L473.0 356.4L471.3 361.3L470.1 365.0L468.8 368.0L466.9 368.6L464.9 369.7L463.6 369.1L462.0 368.1L461.4 366.7L461.5 364.4L460.8 362.4L460.7 360.5L461.3 358.6L462.4 358.1L462.4 357.3L463.6 355.3L463.9 353.6L463.5 352.4L463.2 350.7L463.1 348.3L464.0 346.8L464.4 345.2L465.6 345.1L466.9 344.5L467.8 344.1L468.8 344.1L470.1 342.6L472.1 340.9L472.9 339.6L472.6 338.5L473.6 338.8L474.9 337.0L475.0 335.5L475.9 334.3ZM738.3 357.9L739.8 359.5L740.6 360.7L739.6 361.4L738.6 360.7L737.2 359.5L736.1 358.1L735.1 356.2L735.0 355.4L735.9 355.4L737.0 356.3L737.8 357.2ZM769.4 348.1L770.0 348.9L769.3 350.2L767.8 350.6L766.6 350.3L766.7 349.1L767.8 348.2L768.7 348.5ZM772.0 346.7L770.4 347.3L770.4 346.3L771.6 345.8L772.4 345.6L773.9 344.8L773.6 346.1ZM730.1 328.0L730.3 327.0L731.8 327.4L732.5 327.9L732.8 328.6L731.9 328.7L730.5 328.4ZM734.8 327.9L734.4 328.4L732.9 326.1L732.6 324.6L733.4 324.6L734.0 326.6ZM731.0 324.6L731.0 325.1L729.3 324.0L728.2 323.1L727.4 322.2L727.7 321.9L728.7 322.6L730.5 323.8ZM725.8 322.0L725.4 322.1L724.4 321.6L723.5 320.5L723.7 320.1L725.0 321.2ZM735.5 330.2L736.0 331.1L734.4 331.1L733.8 329.5L735.1 330.1ZM745.9 345.9L745.1 346.2L744.6 345.0L744.8 344.3ZM745.1 341.8L745.0 343.9L744.5 343.6L744.0 343.8L743.8 343.0L744.1 341.0ZM396.3 202.9L395.7 204.9L396.0 205.7L395.6 207.1L394.0 206.1L392.8 205.8L389.8 204.5L390.0 203.1L392.5 203.4L394.7 203.1ZM382.5 195.1L383.8 197.0L383.7 200.4L382.7 200.2L381.9 201.1L381.0 200.4L380.8 197.3L380.3 195.8L381.5 195.9ZM383.1 192.7L382.5 194.7L381.5 194.2L381.0 192.4L381.4 191.5L382.7 190.5ZM414.4 209.4L415.7 210.3L417.4 210.2L419.0 210.4L419.0 210.8L420.2 210.5L419.9 211.3L416.8 211.5L416.8 211.1L414.1 210.6ZM434.2 210.9L434.6 210.3L436.2 210.3L438.1 209.6L436.7 210.7L436.9 211.1L437.0 211.4L434.9 212.4L433.8 212.1L433.2 211.0ZM387.3 158.6L386.4 160.6L384.2 159.2L383.9 158.2L386.6 157.4ZM502.5 429.5L503.5 430.3L505.3 430.7L505.1 431.1L504.1 432.3L501.0 432.4L501.5 431.1L502.1 430.0ZM73.3 154.9L70.4 155.8L70.1 155.2L71.0 154.1L73.7 153.2L75.1 152.8L76.1 153.0L76.1 153.7ZM57.9 139.0L58.4 139.4L59.8 139.2L60.4 139.8L61.8 140.1L61.3 140.4L59.3 140.9L58.6 140.4L58.5 139.9L56.8 140.1L56.6 139.9ZM9.6 252.9L9.2 253.3L8.7 253.0L9.0 252.2L8.8 251.3L9.7 249.8L10.6 250.3L10.9 250.5L11.6 251.8ZM7.9 248.1L9.1 248.1L9.6 248.5L8.6 249.0L8.1 248.3ZM5.0 246.5L5.8 246.2L6.2 247.1L5.1 247.1ZM426.7 103.7L429.3 103.4L431.4 103.4L433.7 103.2L436.1 103.5L434.0 104.0L432.7 104.4L431.3 104.7L429.4 104.3L429.9 103.8L428.3 103.8Z"/></defs><use href="#lo" fill="none" stroke="#4a4f4c" stroke-width="0.55" stroke-opacity="0.8"/>
<path d="M459.8 186.4L462.3 188.7L462.5 190.5L465.4 193.6L466.8 195.0L468.3 196.8L469.3 196.9L470.1 197.6L468.4 197.8L468.4 199.8L468.2 200.7L467.6 201.3L467.9 202.6L468.9 204.6L471.1 205.1L472.8 206.4L476.0 206.9L479.2 206.2L479.3 205.6L478.5 203.7L478.3 201.0L476.4 200.1L476.6 198.3L475.1 198.2L475.1 196.0L477.3 196.6L478.9 195.8L477.0 194.3L476.0 192.8L474.5 193.4L474.7 195.3L473.7 193.7L473.4 193.0L473.7 191.9L473.1 191.0L470.4 190.2L468.9 187.8L467.6 187.2L467.4 186.4L469.4 186.6L469.1 184.7L470.7 184.3L472.6 184.7L472.3 182.2L471.5 180.6L469.5 180.7L467.6 180.1L465.5 181.2L463.8 181.8L463.2 183.3L461.3 183.7Z" fill="none" stroke="#4a4f4c" stroke-width="0.55" stroke-opacity="0.8"/>
<circle cx="222.1" cy="258.1" r="0.60" fill="#f7fcf0" stroke="#4a4f4c" stroke-width="0.45" stroke-opacity="0.7"/>
<circle cx="222.5" cy="260.3" r="0.75" fill="#f7fcf0" stroke="#4a4f4c" stroke-width="0.45" stroke-opacity="0.7"/>
<circle cx="222.8" cy="262.5" r="0.60" fill="#f7fcf0" stroke="#4a4f4c" stroke-width="0.45" stroke-opacity="0.7"/>
<circle cx="223.5" cy="264.5" r="0.65" fill="#f7fcf0" stroke="#4a4f4c" stroke-width="0.45" stroke-opacity="0.7"/>
<circle cx="223.4" cy="266.5" r="0.55" fill="#f7fcf0" stroke="#4a4f4c" stroke-width="0.45" stroke-opacity="0.7"/>
<circle cx="222.8" cy="268.2" r="0.55" fill="#f7fcf0" stroke="#4a4f4c" stroke-width="0.45" stroke-opacity="0.7"/>
<circle cx="226.5" cy="268.4" r="0.55" fill="#f7fcf0" stroke="#4a4f4c" stroke-width="0.45" stroke-opacity="0.7"/>
<circle cx="221.5" cy="271.2" r="0.50" fill="#f7fcf0" stroke="#4a4f4c" stroke-width="0.45" stroke-opacity="0.7"/>
<circle cx="215.6" cy="255.0" r="0.50" fill="#f7fcf0" stroke="#4a4f4c" stroke-width="0.45" stroke-opacity="0.7"/>
<circle cx="220.0" cy="257.6" r="0.45" fill="#f7fcf0" stroke="#4a4f4c" stroke-width="0.45" stroke-opacity="0.7"/>
<circle cx="462.5" cy="333.4" r="0.60" fill="#f7fcf0" stroke="#4a4f4c" stroke-width="0.45" stroke-opacity="0.7"/>
<circle cx="464.8" cy="334.7" r="0.50" fill="#f7fcf0" stroke="#4a4f4c" stroke-width="0.45" stroke-opacity="0.7"/>
<circle cx="493.5" cy="355.9" r="0.70" fill="#e0f3db" stroke="#4a4f4c" stroke-width="0.45" stroke-opacity="0.7"/>
<circle cx="491.0" cy="315.0" r="0.50" fill="#f7fcf0" stroke="#4a4f4c" stroke-width="0.45" stroke-opacity="0.7"/>
<circle cx="2.4" cy="245.2" r="0.60" fill="#a8ddb5" stroke="#4a4f4c" stroke-width="0.45" stroke-opacity="0.7"/>
<circle cx="7.6" cy="247.5" r="0.45" fill="#a8ddb5" stroke="#4a4f4c" stroke-width="0.45" stroke-opacity="0.7"/>
<circle cx="309.1" cy="263.3" r="0.60" fill="#fff" stroke="#b5b5b5" stroke-width="0.45" stroke-opacity="1"/>
<circle cx="305.8" cy="258.2" r="0.55" fill="#fff" stroke="#b5b5b5" stroke-width="0.45" stroke-opacity="1"/>
<circle cx="310.8" cy="260.7" r="0.50" fill="#fff" stroke="#b5b5b5" stroke-width="0.45" stroke-opacity="1"/>
<circle cx="307.3" cy="263.7" r="0.40" fill="#fff" stroke="#b5b5b5" stroke-width="0.45" stroke-opacity="1"/>
<circle cx="532.3" cy="291.6" r="0.40" fill="#fff" stroke="#b5b5b5" stroke-width="0.45" stroke-opacity="1"/>
<circle cx="532.5" cy="297.8" r="0.40" fill="#fff" stroke="#b5b5b5" stroke-width="0.45" stroke-opacity="1"/>
<defs><clipPath id="k_Greenland"><use href="#c_Greenland"/></clipPath><clipPath id="k_Jamaica"><use href="#c_Jamaica"/></clipPath><clipPath id="k_Bahamas"><use href="#c_Bahamas"/></clipPath><clipPath id="k_Trinidad"><use href="#c_Trinidad"/></clipPath><clipPath id="k_FrGuiana"><use href="#c_FrGuiana"/></clipPath><clipPath id="k_WSahara"><use href="#c_WSahara"/></clipPath><clipPath id="k_Mauritania"><use href="#c_Mauritania"/></clipPath><clipPath id="k_GuineaBissau"><use href="#c_GuineaBissau"/></clipPath><clipPath id="k_Chad"><use href="#c_Chad"/></clipPath><clipPath id="k_CAR"><use href="#c_CAR"/></clipPath><clipPath id="k_Uganda"><use href="#c_Uganda"/></clipPath><clipPath id="k_Lesotho"><use href="#c_Lesotho"/></clipPath><clipPath id="k_Madagascar"><use href="#c_Madagascar"/></clipPath><clipPath id="k_Ukraine"><use href="#c_Ukraine"/></clipPath><clipPath id="k_Syria"><use href="#c_Syria"/></clipPath><clipPath id="k_Jordan"><use href="#c_Jordan"/></clipPath><clipPath id="k_SaudiArabia"><use href="#c_SaudiArabia"/></clipPath><clipPath id="k_Nepal"><use href="#c_Nepal"/></clipPath><clipPath id="k_NorthKorea"><use href="#c_NorthKorea"/></clipPath><clipPath id="k_Brunei"><use href="#c_Brunei"/></clipPath><clipPath id="k_TimorLeste"><use href="#c_TimorLeste"/></clipPath><clipPath id="k_NewCaledonia"><use href="#c_NewCaledonia"/></clipPath><clipPath id="k_Kerguelen"><use href="#c_Kerguelen"/></clipPath></defs>
<g clip-path="url(#k_Greenland)" fill="none"><use href="#lo" stroke="#fff" stroke-width="1.3"/><use href="#lo" stroke="#c6c6c6" stroke-width="0.6"/></g>
<g clip-path="url(#k_Jamaica)" fill="none"><use href="#lo" stroke="#fff" stroke-width="1.3"/><use href="#lo" stroke="#c6c6c6" stroke-width="0.6"/></g>
<g clip-path="url(#k_Bahamas)" fill="none"><use href="#lo" stroke="#fff" stroke-width="1.3"/><use href="#lo" stroke="#c6c6c6" stroke-width="0.6"/></g>
<g clip-path="url(#k_Trinidad)" fill="none"><use href="#lo" stroke="#fff" stroke-width="1.3"/><use href="#lo" stroke="#c6c6c6" stroke-width="0.6"/></g>
<g clip-path="url(#k_FrGuiana)" fill="none"><use href="#lo" stroke="#fff" stroke-width="1.3"/><use href="#lo" stroke="#c6c6c6" stroke-width="0.6"/></g>
<g clip-path="url(#k_WSahara)" fill="none"><use href="#lo" stroke="#fff" stroke-width="1.3"/><use href="#lo" stroke="#c6c6c6" stroke-width="0.6"/></g>
<g clip-path="url(#k_Mauritania)" fill="none"><use href="#lo" stroke="#fff" stroke-width="1.3"/><use href="#lo" stroke="#c6c6c6" stroke-width="0.6"/></g>
<g clip-path="url(#k_GuineaBissau)" fill="none"><use href="#lo" stroke="#fff" stroke-width="1.3"/><use href="#lo" stroke="#c6c6c6" stroke-width="0.6"/></g>
<g clip-path="url(#k_Chad)" fill="none"><use href="#lo" stroke="#fff" stroke-width="1.3"/><use href="#lo" stroke="#c6c6c6" stroke-width="0.6"/></g>
<g clip-path="url(#k_CAR)" fill="none"><use href="#lo" stroke="#fff" stroke-width="1.3"/><use href="#lo" stroke="#c6c6c6" stroke-width="0.6"/></g>
<g clip-path="url(#k_Uganda)" fill="none"><use href="#lo" stroke="#fff" stroke-width="1.3"/><use href="#lo" stroke="#c6c6c6" stroke-width="0.6"/></g>
<g clip-path="url(#k_Lesotho)" fill="none"><use href="#lo" stroke="#fff" stroke-width="1.3"/><use href="#lo" stroke="#c6c6c6" stroke-width="0.6"/></g>
<g clip-path="url(#k_Madagascar)" fill="none"><use href="#lo" stroke="#fff" stroke-width="1.3"/><use href="#lo" stroke="#c6c6c6" stroke-width="0.6"/></g>
<g clip-path="url(#k_Ukraine)" fill="none"><use href="#lo" stroke="#fff" stroke-width="1.3"/><use href="#lo" stroke="#c6c6c6" stroke-width="0.6"/></g>
<g clip-path="url(#k_Syria)" fill="none"><use href="#lo" stroke="#fff" stroke-width="1.3"/><use href="#lo" stroke="#c6c6c6" stroke-width="0.6"/></g>
<g clip-path="url(#k_Jordan)" fill="none"><use href="#lo" stroke="#fff" stroke-width="1.3"/><use href="#lo" stroke="#c6c6c6" stroke-width="0.6"/></g>
<g clip-path="url(#k_SaudiArabia)" fill="none"><use href="#lo" stroke="#fff" stroke-width="1.3"/><use href="#lo" stroke="#c6c6c6" stroke-width="0.6"/></g>
<g clip-path="url(#k_Nepal)" fill="none"><use href="#lo" stroke="#fff" stroke-width="1.3"/><use href="#lo" stroke="#c6c6c6" stroke-width="0.6"/></g>
<g clip-path="url(#k_NorthKorea)" fill="none"><use href="#lo" stroke="#fff" stroke-width="1.3"/><use href="#lo" stroke="#c6c6c6" stroke-width="0.6"/></g>
<g clip-path="url(#k_Brunei)" fill="none"><use href="#lo" stroke="#fff" stroke-width="1.3"/><use href="#lo" stroke="#c6c6c6" stroke-width="0.6"/></g>
<g clip-path="url(#k_TimorLeste)" fill="none"><use href="#lo" stroke="#fff" stroke-width="1.3"/><use href="#lo" stroke="#c6c6c6" stroke-width="0.6"/></g>
<g clip-path="url(#k_NewCaledonia)" fill="none"><use href="#lo" stroke="#fff" stroke-width="1.3"/><use href="#lo" stroke="#c6c6c6" stroke-width="0.6"/></g>
<g clip-path="url(#k_Kerguelen)" fill="none"><use href="#lo" stroke="#fff" stroke-width="1.3"/><use href="#lo" stroke="#c6c6c6" stroke-width="0.6"/></g>
</g>
<g id="legend">
<rect x="37.4" y="517.6" width="46.2" height="10.4" fill="url(#h)" stroke="#c2c2c2" stroke-width="0.7"/>
<line x1="60" y1="515" x2="60" y2="517.5" stroke="#9a9a9a" stroke-width="0.55"/>
<g stroke="#b8b8b8" stroke-width="0.6">
<rect x="103.6" y="517.6" width="78.8" height="10.4" fill="#f7fcf0"/>
<rect x="182.4" y="517.6" width="78.8" height="10.4" fill="#e0f3db"/>
<rect x="261.2" y="517.6" width="78.8" height="10.4" fill="#ccebc5"/>
<rect x="340" y="517.6" width="78.8" height="10.4" fill="#a8ddb5"/>
<rect x="418.8" y="517.6" width="78.8" height="10.4" fill="#7bccc4"/>
<rect x="497.6" y="517.6" width="78.8" height="10.4" fill="#4eb3d3"/>
<rect x="576.4" y="517.6" width="78.8" height="10.4" fill="#2b8cbe"/>
<rect x="655.2" y="517.6" width="78.8" height="10.4" fill="#0868ac"/>
<path d="M734 517.6H808L813.4 522.8L808 528H734Z" fill="#084081" stroke="none"/>
</g>
<g stroke="#9a9a9a" stroke-width="0.55">
<line x1="103.6" y1="500" x2="103.6" y2="528"/>
<line x1="182.4" y1="514.5" x2="182.4" y2="528"/>
<line x1="261.2" y1="500" x2="261.2" y2="528"/>
<line x1="340" y1="514.5" x2="340" y2="528"/>
<line x1="418.8" y1="500" x2="418.8" y2="528"/>
<line x1="497.6" y1="514.5" x2="497.6" y2="528"/>
<line x1="576.4" y1="500" x2="576.4" y2="528"/>
<line x1="655.2" y1="514.5" x2="655.2" y2="528"/>
<line x1="734" y1="500" x2="734" y2="528"/>
</g>
<g text-anchor="middle" lengthAdjust="spacingAndGlyphs">
<text x="60.2" y="509.9" textLength="47.5" lengthAdjust="spacingAndGlyphs">No data</text>
<text x="103.4" y="495.6" textLength="40.5" lengthAdjust="spacingAndGlyphs">0 kWh</text>
<text x="182.6" y="509.9" textLength="55" lengthAdjust="spacingAndGlyphs">100 kWh</text>
<text x="261.2" y="495.6" textLength="55" lengthAdjust="spacingAndGlyphs">200 kWh</text>
<text x="340.3" y="509.9" textLength="55" lengthAdjust="spacingAndGlyphs">500 kWh</text>
<text x="418.8" y="495.6" textLength="65.5" lengthAdjust="spacingAndGlyphs">1,000 kWh</text>
<text x="498" y="509.9" textLength="66" lengthAdjust="spacingAndGlyphs">2,000 kWh</text>
<text x="576.5" y="495.6" textLength="66" lengthAdjust="spacingAndGlyphs">5,000 kWh</text>
<text x="655.5" y="509.9" textLength="74.5" lengthAdjust="spacingAndGlyphs">10,000 kWh</text>
<text x="734.3" y="495.6" textLength="74.5" lengthAdjust="spacingAndGlyphs">20,000 kWh</text>
</g>
</g>
</svg>
</body></html>
